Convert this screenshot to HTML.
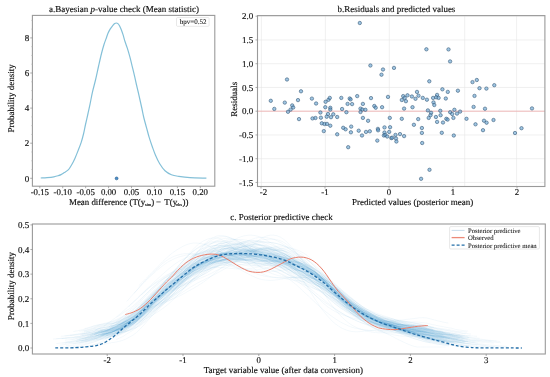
<!DOCTYPE html>
<html><head><meta charset="utf-8"><style>
html,body{margin:0;padding:0;background:#fff;}
svg{display:block;will-change:transform;}
text{text-rendering:geometricPrecision;font-family:"Liberation Serif", serif;fill:#111;stroke:#111;stroke-width:0.15px;}
</style></head><body>
<svg width="550" height="377" viewBox="0 0 550 377">
<rect x="0" y="0" width="550" height="377" fill="#fff"/>
<rect x="32.4" y="15.4" width="182.4" height="170.79999999999998" fill="none" stroke="#9a9a9a" stroke-width="1.1"/>
<line x1="30.2" y1="178.30" x2="32.4" y2="178.30" stroke="#8a8a8a" stroke-width="0.7"/>
<text x="28.799999999999997" y="182" text-anchor="end" font-size="9.0" dx="0.5">0</text>
<line x1="30.2" y1="143.20" x2="32.4" y2="143.20" stroke="#8a8a8a" stroke-width="0.7"/>
<text x="28.799999999999997" y="146" text-anchor="end" font-size="9.0" dx="0.5">2</text>
<line x1="30.2" y1="108.10" x2="32.4" y2="108.10" stroke="#8a8a8a" stroke-width="0.7"/>
<text x="28.799999999999997" y="111" text-anchor="end" font-size="9.0" dx="0.5">4</text>
<line x1="30.2" y1="73.00" x2="32.4" y2="73.00" stroke="#8a8a8a" stroke-width="0.7"/>
<text x="28.799999999999997" y="76" text-anchor="end" font-size="9.0" dx="0.5">6</text>
<line x1="30.2" y1="37.90" x2="32.4" y2="37.90" stroke="#8a8a8a" stroke-width="0.7"/>
<text x="28.799999999999997" y="41" text-anchor="end" font-size="9.0" dx="0.5">8</text>
<line x1="31.099999999999998" y1="169.53" x2="32.4" y2="169.53" stroke="#b4b4b4" stroke-width="0.5"/>
<line x1="31.099999999999998" y1="160.75" x2="32.4" y2="160.75" stroke="#b4b4b4" stroke-width="0.5"/>
<line x1="31.099999999999998" y1="151.98" x2="32.4" y2="151.98" stroke="#b4b4b4" stroke-width="0.5"/>
<line x1="31.099999999999998" y1="134.43" x2="32.4" y2="134.43" stroke="#b4b4b4" stroke-width="0.5"/>
<line x1="31.099999999999998" y1="125.65" x2="32.4" y2="125.65" stroke="#b4b4b4" stroke-width="0.5"/>
<line x1="31.099999999999998" y1="116.88" x2="32.4" y2="116.88" stroke="#b4b4b4" stroke-width="0.5"/>
<line x1="31.099999999999998" y1="99.33" x2="32.4" y2="99.33" stroke="#b4b4b4" stroke-width="0.5"/>
<line x1="31.099999999999998" y1="90.55" x2="32.4" y2="90.55" stroke="#b4b4b4" stroke-width="0.5"/>
<line x1="31.099999999999998" y1="81.78" x2="32.4" y2="81.78" stroke="#b4b4b4" stroke-width="0.5"/>
<line x1="31.099999999999998" y1="64.23" x2="32.4" y2="64.23" stroke="#b4b4b4" stroke-width="0.5"/>
<line x1="31.099999999999998" y1="55.45" x2="32.4" y2="55.45" stroke="#b4b4b4" stroke-width="0.5"/>
<line x1="31.099999999999998" y1="46.68" x2="32.4" y2="46.68" stroke="#b4b4b4" stroke-width="0.5"/>
<line x1="31.099999999999998" y1="29.12" x2="32.4" y2="29.12" stroke="#b4b4b4" stroke-width="0.5"/>
<line x1="31.099999999999998" y1="20.35" x2="32.4" y2="20.35" stroke="#b4b4b4" stroke-width="0.5"/>
<line x1="39.80" y1="186.2" x2="39.80" y2="188.2" stroke="#8a8a8a" stroke-width="0.7"/>
<text x="39.80" y="195.4" text-anchor="middle" font-size="8.8">-0.15</text>
<line x1="62.73" y1="186.2" x2="62.73" y2="188.2" stroke="#8a8a8a" stroke-width="0.7"/>
<text x="62.73" y="195.4" text-anchor="middle" font-size="8.8">-0.10</text>
<line x1="85.66" y1="186.2" x2="85.66" y2="188.2" stroke="#8a8a8a" stroke-width="0.7"/>
<text x="85.66" y="195.4" text-anchor="middle" font-size="8.8">-0.05</text>
<line x1="108.59" y1="186.2" x2="108.59" y2="188.2" stroke="#8a8a8a" stroke-width="0.7"/>
<text x="108.59" y="195.4" text-anchor="middle" font-size="8.8">0.00</text>
<line x1="131.52" y1="186.2" x2="131.52" y2="188.2" stroke="#8a8a8a" stroke-width="0.7"/>
<text x="131.52" y="195.4" text-anchor="middle" font-size="8.8">0.05</text>
<line x1="154.45" y1="186.2" x2="154.45" y2="188.2" stroke="#8a8a8a" stroke-width="0.7"/>
<text x="154.45" y="195.4" text-anchor="middle" font-size="8.8">0.10</text>
<line x1="177.38" y1="186.2" x2="177.38" y2="188.2" stroke="#8a8a8a" stroke-width="0.7"/>
<text x="177.38" y="195.4" text-anchor="middle" font-size="8.8">0.15</text>
<line x1="200.31" y1="186.2" x2="200.31" y2="188.2" stroke="#8a8a8a" stroke-width="0.7"/>
<text x="200.31" y="195.4" text-anchor="middle" font-size="8.8">0.20</text>
<path d="M40.70,178.00 C41.75,177.93 44.80,177.80 47.00,177.60 C49.20,177.40 52.07,177.10 53.90,176.80 C55.73,176.50 56.82,176.17 58.00,175.80 C59.18,175.43 59.97,175.13 61.00,174.60 C62.03,174.07 62.95,173.43 64.20,172.60 C65.45,171.77 67.25,170.92 68.50,169.60 C69.75,168.28 70.63,166.57 71.70,164.70 C72.77,162.83 73.85,160.70 74.90,158.40 C75.95,156.10 76.95,153.57 78.00,150.90 C79.05,148.23 80.28,145.22 81.20,142.40 C82.12,139.58 82.80,136.90 83.50,134.00 C84.20,131.10 84.65,128.42 85.40,125.00 C86.15,121.58 87.22,117.02 88.00,113.50 C88.78,109.98 89.35,107.50 90.10,103.90 C90.85,100.30 91.60,95.88 92.50,91.90 C93.40,87.92 94.48,84.32 95.50,80.00 C96.52,75.68 97.60,70.42 98.60,66.00 C99.60,61.58 100.60,57.08 101.50,53.50 C102.40,49.92 103.25,46.93 104.00,44.50 C104.75,42.07 105.33,40.77 106.00,38.90 C106.67,37.03 107.28,34.97 108.00,33.30 C108.72,31.63 109.52,30.17 110.30,28.90 C111.08,27.63 111.97,26.58 112.70,25.70 C113.43,24.82 114.10,24.05 114.70,23.60 C115.30,23.15 115.77,23.00 116.30,23.00 C116.83,23.00 117.37,23.15 117.90,23.60 C118.43,24.05 118.97,24.75 119.50,25.70 C120.03,26.65 120.50,27.77 121.10,29.30 C121.70,30.83 122.45,32.87 123.10,34.90 C123.75,36.93 124.28,39.25 125.00,41.50 C125.72,43.75 126.60,45.87 127.40,48.40 C128.20,50.93 129.00,53.72 129.80,56.70 C130.60,59.68 131.42,63.12 132.20,66.30 C132.98,69.48 133.82,72.85 134.50,75.80 C135.18,78.75 135.68,81.30 136.30,84.00 C136.92,86.70 137.58,89.33 138.20,92.00 C138.82,94.67 139.38,97.25 140.00,100.00 C140.62,102.75 141.25,105.50 141.90,108.50 C142.55,111.50 143.13,114.82 143.90,118.00 C144.67,121.18 145.63,124.42 146.50,127.60 C147.37,130.78 148.13,133.92 149.10,137.10 C150.07,140.28 151.23,143.68 152.30,146.70 C153.37,149.72 154.27,152.37 155.50,155.20 C156.73,158.03 158.12,161.12 159.70,163.70 C161.28,166.28 163.05,168.87 165.00,170.70 C166.95,172.53 169.10,173.75 171.40,174.70 C173.70,175.65 175.70,175.90 178.80,176.40 C181.90,176.90 185.40,177.42 190.00,177.70 C194.60,177.98 203.67,178.03 206.40,178.10" fill="none" stroke="#84c0d8" stroke-width="1.2"/>
<circle cx="116.6" cy="178.4" r="1.45" fill="#4a8fcc" stroke="#2a5d88" stroke-width="0.6"/>
<rect x="176.5" y="17.6" width="32.6" height="8.7" rx="1" fill="#fff" stroke="#d9d9d9" stroke-width="0.6"/>
<text x="179.8" y="23.9" font-size="7.0" style="stroke-width:0.08px">bpv=0.52</text>
<text x="124.0" y="11.6" text-anchor="middle" font-size="9.0">a.Bayesian <tspan font-style="italic">p</tspan>-value check (Mean statistic)</text>
<text y="205.4" font-size="8.9"><tspan x="69">Mean difference (T(y</tspan><tspan x="145.1" y="206.2" font-size="4.2">sim</tspan><tspan x="151.2" y="205.4">)</tspan><tspan x="156.0">−</tspan><tspan x="164.3">T(y</tspan><tspan x="176.0" y="206.2" font-size="4.2">obs</tspan><tspan x="182.6" y="205.4">))</tspan></text>
<text transform="translate(14.3,98.4) rotate(-90)" text-anchor="middle" font-size="9.0">Probability density</text>
<line x1="261.4" y1="15.6" x2="261.4" y2="186.5" stroke="#e6e6e6" stroke-width="0.6"/>
<line x1="325.4" y1="15.6" x2="325.4" y2="186.5" stroke="#e6e6e6" stroke-width="0.6"/>
<line x1="389.3" y1="15.6" x2="389.3" y2="186.5" stroke="#e6e6e6" stroke-width="0.6"/>
<line x1="464.7" y1="15.6" x2="464.7" y2="186.5" stroke="#e6e6e6" stroke-width="0.6"/>
<line x1="516.6" y1="15.6" x2="516.6" y2="186.5" stroke="#e6e6e6" stroke-width="0.6"/>
<line x1="257.5" y1="182.45" x2="544.9" y2="182.45" stroke="#e6e6e6" stroke-width="0.6"/>
<line x1="257.5" y1="158.70" x2="544.9" y2="158.70" stroke="#e6e6e6" stroke-width="0.6"/>
<line x1="257.5" y1="134.95" x2="544.9" y2="134.95" stroke="#e6e6e6" stroke-width="0.6"/>
<line x1="257.5" y1="111.20" x2="544.9" y2="111.20" stroke="#e6e6e6" stroke-width="0.6"/>
<line x1="257.5" y1="87.45" x2="544.9" y2="87.45" stroke="#e6e6e6" stroke-width="0.6"/>
<line x1="257.5" y1="63.70" x2="544.9" y2="63.70" stroke="#e6e6e6" stroke-width="0.6"/>
<line x1="257.5" y1="39.95" x2="544.9" y2="39.95" stroke="#e6e6e6" stroke-width="0.6"/>
<line x1="257.5" y1="16.20" x2="544.9" y2="16.20" stroke="#e6e6e6" stroke-width="0.6"/>
<line x1="257.5" y1="111.2" x2="544.9" y2="111.2" stroke="#f2a4a4" stroke-width="0.7"/>
<circle cx="287.0" cy="79.5" r="1.7" fill="#5fa0d0" fill-opacity="0.6" stroke="#395a78" stroke-width="0.6"/>
<circle cx="270.8" cy="100.8" r="1.7" fill="#5fa0d0" fill-opacity="0.6" stroke="#395a78" stroke-width="0.6"/>
<circle cx="274.3" cy="108.9" r="1.7" fill="#5fa0d0" fill-opacity="0.6" stroke="#395a78" stroke-width="0.6"/>
<circle cx="284.8" cy="102.6" r="1.7" fill="#5fa0d0" fill-opacity="0.6" stroke="#395a78" stroke-width="0.6"/>
<circle cx="301.0" cy="91.3" r="1.7" fill="#5fa0d0" fill-opacity="0.6" stroke="#395a78" stroke-width="0.6"/>
<circle cx="298.0" cy="100.1" r="1.7" fill="#5fa0d0" fill-opacity="0.6" stroke="#395a78" stroke-width="0.6"/>
<circle cx="311.9" cy="98.6" r="1.7" fill="#5fa0d0" fill-opacity="0.6" stroke="#395a78" stroke-width="0.6"/>
<circle cx="292.2" cy="105.4" r="1.7" fill="#5fa0d0" fill-opacity="0.6" stroke="#395a78" stroke-width="0.6"/>
<circle cx="293.2" cy="107.5" r="1.7" fill="#5fa0d0" fill-opacity="0.6" stroke="#395a78" stroke-width="0.6"/>
<circle cx="290.6" cy="109.6" r="1.7" fill="#5fa0d0" fill-opacity="0.6" stroke="#395a78" stroke-width="0.6"/>
<circle cx="288.0" cy="111.8" r="1.7" fill="#5fa0d0" fill-opacity="0.6" stroke="#395a78" stroke-width="0.6"/>
<circle cx="299.0" cy="119.1" r="1.7" fill="#5fa0d0" fill-opacity="0.6" stroke="#395a78" stroke-width="0.6"/>
<circle cx="312.5" cy="118.4" r="1.7" fill="#5fa0d0" fill-opacity="0.6" stroke="#395a78" stroke-width="0.6"/>
<circle cx="316.1" cy="103.5" r="1.7" fill="#5fa0d0" fill-opacity="0.6" stroke="#395a78" stroke-width="0.6"/>
<circle cx="325.6" cy="101.8" r="1.7" fill="#5fa0d0" fill-opacity="0.6" stroke="#395a78" stroke-width="0.6"/>
<circle cx="328.5" cy="99.8" r="1.7" fill="#5fa0d0" fill-opacity="0.6" stroke="#395a78" stroke-width="0.6"/>
<circle cx="329.8" cy="97.9" r="1.7" fill="#5fa0d0" fill-opacity="0.6" stroke="#395a78" stroke-width="0.6"/>
<circle cx="325.3" cy="107.2" r="1.7" fill="#5fa0d0" fill-opacity="0.6" stroke="#395a78" stroke-width="0.6"/>
<circle cx="330.3" cy="107.8" r="1.7" fill="#5fa0d0" fill-opacity="0.6" stroke="#395a78" stroke-width="0.6"/>
<circle cx="330.3" cy="109.6" r="1.7" fill="#5fa0d0" fill-opacity="0.6" stroke="#395a78" stroke-width="0.6"/>
<circle cx="341.3" cy="97.9" r="1.7" fill="#5fa0d0" fill-opacity="0.6" stroke="#395a78" stroke-width="0.6"/>
<circle cx="349.7" cy="98.5" r="1.7" fill="#5fa0d0" fill-opacity="0.6" stroke="#395a78" stroke-width="0.6"/>
<circle cx="350.6" cy="99.4" r="1.7" fill="#5fa0d0" fill-opacity="0.6" stroke="#395a78" stroke-width="0.6"/>
<circle cx="357.2" cy="96.1" r="1.7" fill="#5fa0d0" fill-opacity="0.6" stroke="#395a78" stroke-width="0.6"/>
<circle cx="347.6" cy="103.9" r="1.7" fill="#5fa0d0" fill-opacity="0.6" stroke="#395a78" stroke-width="0.6"/>
<circle cx="352.1" cy="104.1" r="1.7" fill="#5fa0d0" fill-opacity="0.6" stroke="#395a78" stroke-width="0.6"/>
<circle cx="362.9" cy="103.9" r="1.7" fill="#5fa0d0" fill-opacity="0.6" stroke="#395a78" stroke-width="0.6"/>
<circle cx="342.1" cy="109.0" r="1.7" fill="#5fa0d0" fill-opacity="0.6" stroke="#395a78" stroke-width="0.6"/>
<circle cx="346.4" cy="112.2" r="1.7" fill="#5fa0d0" fill-opacity="0.6" stroke="#395a78" stroke-width="0.6"/>
<circle cx="360.5" cy="108.6" r="1.7" fill="#5fa0d0" fill-opacity="0.6" stroke="#395a78" stroke-width="0.6"/>
<circle cx="362.3" cy="109.5" r="1.7" fill="#5fa0d0" fill-opacity="0.6" stroke="#395a78" stroke-width="0.6"/>
<circle cx="365.4" cy="109.8" r="1.7" fill="#5fa0d0" fill-opacity="0.6" stroke="#395a78" stroke-width="0.6"/>
<circle cx="360.5" cy="112.0" r="1.7" fill="#5fa0d0" fill-opacity="0.6" stroke="#395a78" stroke-width="0.6"/>
<circle cx="320.4" cy="112.5" r="1.7" fill="#5fa0d0" fill-opacity="0.6" stroke="#395a78" stroke-width="0.6"/>
<circle cx="315.5" cy="118.0" r="1.7" fill="#5fa0d0" fill-opacity="0.6" stroke="#395a78" stroke-width="0.6"/>
<circle cx="320.9" cy="117.7" r="1.7" fill="#5fa0d0" fill-opacity="0.6" stroke="#395a78" stroke-width="0.6"/>
<circle cx="328.0" cy="114.0" r="1.7" fill="#5fa0d0" fill-opacity="0.6" stroke="#395a78" stroke-width="0.6"/>
<circle cx="326.7" cy="116.7" r="1.7" fill="#5fa0d0" fill-opacity="0.6" stroke="#395a78" stroke-width="0.6"/>
<circle cx="331.0" cy="117.2" r="1.7" fill="#5fa0d0" fill-opacity="0.6" stroke="#395a78" stroke-width="0.6"/>
<circle cx="333.3" cy="114.3" r="1.7" fill="#5fa0d0" fill-opacity="0.6" stroke="#395a78" stroke-width="0.6"/>
<circle cx="337.2" cy="117.0" r="1.7" fill="#5fa0d0" fill-opacity="0.6" stroke="#395a78" stroke-width="0.6"/>
<circle cx="362.9" cy="117.9" r="1.7" fill="#5fa0d0" fill-opacity="0.6" stroke="#395a78" stroke-width="0.6"/>
<circle cx="321.8" cy="123.3" r="1.7" fill="#5fa0d0" fill-opacity="0.6" stroke="#395a78" stroke-width="0.6"/>
<circle cx="324.5" cy="124.0" r="1.7" fill="#5fa0d0" fill-opacity="0.6" stroke="#395a78" stroke-width="0.6"/>
<circle cx="327.0" cy="123.9" r="1.7" fill="#5fa0d0" fill-opacity="0.6" stroke="#395a78" stroke-width="0.6"/>
<circle cx="371.0" cy="98.1" r="1.7" fill="#5fa0d0" fill-opacity="0.6" stroke="#395a78" stroke-width="0.6"/>
<circle cx="374.3" cy="106.0" r="1.7" fill="#5fa0d0" fill-opacity="0.6" stroke="#395a78" stroke-width="0.6"/>
<circle cx="375.7" cy="107.7" r="1.7" fill="#5fa0d0" fill-opacity="0.6" stroke="#395a78" stroke-width="0.6"/>
<circle cx="382.1" cy="107.2" r="1.7" fill="#5fa0d0" fill-opacity="0.6" stroke="#395a78" stroke-width="0.6"/>
<circle cx="388.0" cy="96.9" r="1.7" fill="#5fa0d0" fill-opacity="0.6" stroke="#395a78" stroke-width="0.6"/>
<circle cx="401.8" cy="100.0" r="1.7" fill="#5fa0d0" fill-opacity="0.6" stroke="#395a78" stroke-width="0.6"/>
<circle cx="403.2" cy="96.1" r="1.7" fill="#5fa0d0" fill-opacity="0.6" stroke="#395a78" stroke-width="0.6"/>
<circle cx="404.7" cy="97.9" r="1.7" fill="#5fa0d0" fill-opacity="0.6" stroke="#395a78" stroke-width="0.6"/>
<circle cx="405.9" cy="101.2" r="1.7" fill="#5fa0d0" fill-opacity="0.6" stroke="#395a78" stroke-width="0.6"/>
<circle cx="407.5" cy="95.3" r="1.7" fill="#5fa0d0" fill-opacity="0.6" stroke="#395a78" stroke-width="0.6"/>
<circle cx="411.9" cy="96.5" r="1.7" fill="#5fa0d0" fill-opacity="0.6" stroke="#395a78" stroke-width="0.6"/>
<circle cx="415.5" cy="98.8" r="1.7" fill="#5fa0d0" fill-opacity="0.6" stroke="#395a78" stroke-width="0.6"/>
<circle cx="417.0" cy="91.9" r="1.7" fill="#5fa0d0" fill-opacity="0.6" stroke="#395a78" stroke-width="0.6"/>
<circle cx="418.5" cy="95.7" r="1.7" fill="#5fa0d0" fill-opacity="0.6" stroke="#395a78" stroke-width="0.6"/>
<circle cx="404.1" cy="108.6" r="1.7" fill="#5fa0d0" fill-opacity="0.6" stroke="#395a78" stroke-width="0.6"/>
<circle cx="412.5" cy="107.2" r="1.7" fill="#5fa0d0" fill-opacity="0.6" stroke="#395a78" stroke-width="0.6"/>
<circle cx="368.1" cy="120.8" r="1.7" fill="#5fa0d0" fill-opacity="0.6" stroke="#395a78" stroke-width="0.6"/>
<circle cx="389.8" cy="117.9" r="1.7" fill="#5fa0d0" fill-opacity="0.6" stroke="#395a78" stroke-width="0.6"/>
<circle cx="401.8" cy="118.8" r="1.7" fill="#5fa0d0" fill-opacity="0.6" stroke="#395a78" stroke-width="0.6"/>
<circle cx="418.2" cy="119.1" r="1.7" fill="#5fa0d0" fill-opacity="0.6" stroke="#395a78" stroke-width="0.6"/>
<circle cx="413.9" cy="124.8" r="1.7" fill="#5fa0d0" fill-opacity="0.6" stroke="#395a78" stroke-width="0.6"/>
<circle cx="429.3" cy="81.3" r="1.7" fill="#5fa0d0" fill-opacity="0.6" stroke="#395a78" stroke-width="0.6"/>
<circle cx="442.4" cy="89.3" r="1.7" fill="#5fa0d0" fill-opacity="0.6" stroke="#395a78" stroke-width="0.6"/>
<circle cx="447.8" cy="91.9" r="1.7" fill="#5fa0d0" fill-opacity="0.6" stroke="#395a78" stroke-width="0.6"/>
<circle cx="457.9" cy="90.7" r="1.7" fill="#5fa0d0" fill-opacity="0.6" stroke="#395a78" stroke-width="0.6"/>
<circle cx="422.8" cy="97.9" r="1.7" fill="#5fa0d0" fill-opacity="0.6" stroke="#395a78" stroke-width="0.6"/>
<circle cx="426.9" cy="99.7" r="1.7" fill="#5fa0d0" fill-opacity="0.6" stroke="#395a78" stroke-width="0.6"/>
<circle cx="433.1" cy="97.9" r="1.7" fill="#5fa0d0" fill-opacity="0.6" stroke="#395a78" stroke-width="0.6"/>
<circle cx="437.1" cy="94.9" r="1.7" fill="#5fa0d0" fill-opacity="0.6" stroke="#395a78" stroke-width="0.6"/>
<circle cx="436.2" cy="97.3" r="1.7" fill="#5fa0d0" fill-opacity="0.6" stroke="#395a78" stroke-width="0.6"/>
<circle cx="438.6" cy="97.9" r="1.7" fill="#5fa0d0" fill-opacity="0.6" stroke="#395a78" stroke-width="0.6"/>
<circle cx="445.8" cy="98.5" r="1.7" fill="#5fa0d0" fill-opacity="0.6" stroke="#395a78" stroke-width="0.6"/>
<circle cx="433.5" cy="102.4" r="1.7" fill="#5fa0d0" fill-opacity="0.6" stroke="#395a78" stroke-width="0.6"/>
<circle cx="434.3" cy="105.0" r="1.7" fill="#5fa0d0" fill-opacity="0.6" stroke="#395a78" stroke-width="0.6"/>
<circle cx="474.5" cy="95.9" r="1.7" fill="#5fa0d0" fill-opacity="0.6" stroke="#395a78" stroke-width="0.6"/>
<circle cx="473.6" cy="106.9" r="1.7" fill="#5fa0d0" fill-opacity="0.6" stroke="#395a78" stroke-width="0.6"/>
<circle cx="427.9" cy="110.4" r="1.7" fill="#5fa0d0" fill-opacity="0.6" stroke="#395a78" stroke-width="0.6"/>
<circle cx="431.1" cy="112.8" r="1.7" fill="#5fa0d0" fill-opacity="0.6" stroke="#395a78" stroke-width="0.6"/>
<circle cx="430.5" cy="115.2" r="1.7" fill="#5fa0d0" fill-opacity="0.6" stroke="#395a78" stroke-width="0.6"/>
<circle cx="428.7" cy="117.9" r="1.7" fill="#5fa0d0" fill-opacity="0.6" stroke="#395a78" stroke-width="0.6"/>
<circle cx="440.3" cy="110.8" r="1.7" fill="#5fa0d0" fill-opacity="0.6" stroke="#395a78" stroke-width="0.6"/>
<circle cx="440.6" cy="115.2" r="1.7" fill="#5fa0d0" fill-opacity="0.6" stroke="#395a78" stroke-width="0.6"/>
<circle cx="435.9" cy="117.0" r="1.7" fill="#5fa0d0" fill-opacity="0.6" stroke="#395a78" stroke-width="0.6"/>
<circle cx="450.2" cy="112.2" r="1.7" fill="#5fa0d0" fill-opacity="0.6" stroke="#395a78" stroke-width="0.6"/>
<circle cx="452.2" cy="114.0" r="1.7" fill="#5fa0d0" fill-opacity="0.6" stroke="#395a78" stroke-width="0.6"/>
<circle cx="454.4" cy="109.8" r="1.7" fill="#5fa0d0" fill-opacity="0.6" stroke="#395a78" stroke-width="0.6"/>
<circle cx="457.0" cy="113.6" r="1.7" fill="#5fa0d0" fill-opacity="0.6" stroke="#395a78" stroke-width="0.6"/>
<circle cx="460.1" cy="111.6" r="1.7" fill="#5fa0d0" fill-opacity="0.6" stroke="#395a78" stroke-width="0.6"/>
<circle cx="453.4" cy="117.9" r="1.7" fill="#5fa0d0" fill-opacity="0.6" stroke="#395a78" stroke-width="0.6"/>
<circle cx="446.3" cy="118.8" r="1.7" fill="#5fa0d0" fill-opacity="0.6" stroke="#395a78" stroke-width="0.6"/>
<circle cx="447.6" cy="119.6" r="1.7" fill="#5fa0d0" fill-opacity="0.6" stroke="#395a78" stroke-width="0.6"/>
<circle cx="466.5" cy="118.8" r="1.7" fill="#5fa0d0" fill-opacity="0.6" stroke="#395a78" stroke-width="0.6"/>
<circle cx="437.1" cy="121.9" r="1.7" fill="#5fa0d0" fill-opacity="0.6" stroke="#395a78" stroke-width="0.6"/>
<circle cx="443.0" cy="122.5" r="1.7" fill="#5fa0d0" fill-opacity="0.6" stroke="#395a78" stroke-width="0.6"/>
<circle cx="472.5" cy="82.1" r="1.7" fill="#5fa0d0" fill-opacity="0.6" stroke="#395a78" stroke-width="0.6"/>
<circle cx="476.8" cy="80.0" r="1.7" fill="#5fa0d0" fill-opacity="0.6" stroke="#395a78" stroke-width="0.6"/>
<circle cx="494.3" cy="85.2" r="1.7" fill="#5fa0d0" fill-opacity="0.6" stroke="#395a78" stroke-width="0.6"/>
<circle cx="479.5" cy="88.2" r="1.7" fill="#5fa0d0" fill-opacity="0.6" stroke="#395a78" stroke-width="0.6"/>
<circle cx="486.4" cy="88.6" r="1.7" fill="#5fa0d0" fill-opacity="0.6" stroke="#395a78" stroke-width="0.6"/>
<circle cx="485.0" cy="108.7" r="1.7" fill="#5fa0d0" fill-opacity="0.6" stroke="#395a78" stroke-width="0.6"/>
<circle cx="532.0" cy="108.4" r="1.7" fill="#5fa0d0" fill-opacity="0.6" stroke="#395a78" stroke-width="0.6"/>
<circle cx="484.0" cy="120.7" r="1.7" fill="#5fa0d0" fill-opacity="0.6" stroke="#395a78" stroke-width="0.6"/>
<circle cx="486.6" cy="122.7" r="1.7" fill="#5fa0d0" fill-opacity="0.6" stroke="#395a78" stroke-width="0.6"/>
<circle cx="493.5" cy="120.0" r="1.7" fill="#5fa0d0" fill-opacity="0.6" stroke="#395a78" stroke-width="0.6"/>
<circle cx="475.5" cy="124.3" r="1.7" fill="#5fa0d0" fill-opacity="0.6" stroke="#395a78" stroke-width="0.6"/>
<circle cx="359.8" cy="23.0" r="1.7" fill="#5fa0d0" fill-opacity="0.6" stroke="#395a78" stroke-width="0.6"/>
<circle cx="426.4" cy="49.3" r="1.7" fill="#5fa0d0" fill-opacity="0.6" stroke="#395a78" stroke-width="0.6"/>
<circle cx="448.5" cy="49.4" r="1.7" fill="#5fa0d0" fill-opacity="0.6" stroke="#395a78" stroke-width="0.6"/>
<circle cx="450.1" cy="61.4" r="1.7" fill="#5fa0d0" fill-opacity="0.6" stroke="#395a78" stroke-width="0.6"/>
<circle cx="370.4" cy="65.5" r="1.7" fill="#5fa0d0" fill-opacity="0.6" stroke="#395a78" stroke-width="0.6"/>
<circle cx="383.0" cy="69.5" r="1.7" fill="#5fa0d0" fill-opacity="0.6" stroke="#395a78" stroke-width="0.6"/>
<circle cx="381.5" cy="74.7" r="1.7" fill="#5fa0d0" fill-opacity="0.6" stroke="#395a78" stroke-width="0.6"/>
<circle cx="394.0" cy="67.9" r="1.7" fill="#5fa0d0" fill-opacity="0.6" stroke="#395a78" stroke-width="0.6"/>
<circle cx="330.3" cy="125.7" r="1.7" fill="#5fa0d0" fill-opacity="0.6" stroke="#395a78" stroke-width="0.6"/>
<circle cx="323.8" cy="131.1" r="1.7" fill="#5fa0d0" fill-opacity="0.6" stroke="#395a78" stroke-width="0.6"/>
<circle cx="343.2" cy="127.8" r="1.7" fill="#5fa0d0" fill-opacity="0.6" stroke="#395a78" stroke-width="0.6"/>
<circle cx="345.6" cy="129.3" r="1.7" fill="#5fa0d0" fill-opacity="0.6" stroke="#395a78" stroke-width="0.6"/>
<circle cx="351.2" cy="126.6" r="1.7" fill="#5fa0d0" fill-opacity="0.6" stroke="#395a78" stroke-width="0.6"/>
<circle cx="350.9" cy="132.3" r="1.7" fill="#5fa0d0" fill-opacity="0.6" stroke="#395a78" stroke-width="0.6"/>
<circle cx="337.2" cy="134.3" r="1.7" fill="#5fa0d0" fill-opacity="0.6" stroke="#395a78" stroke-width="0.6"/>
<circle cx="358.7" cy="130.7" r="1.7" fill="#5fa0d0" fill-opacity="0.6" stroke="#395a78" stroke-width="0.6"/>
<circle cx="362.0" cy="135.5" r="1.7" fill="#5fa0d0" fill-opacity="0.6" stroke="#395a78" stroke-width="0.6"/>
<circle cx="366.0" cy="131.9" r="1.7" fill="#5fa0d0" fill-opacity="0.6" stroke="#395a78" stroke-width="0.6"/>
<circle cx="369.8" cy="131.3" r="1.7" fill="#5fa0d0" fill-opacity="0.6" stroke="#395a78" stroke-width="0.6"/>
<circle cx="348.2" cy="147.2" r="1.7" fill="#5fa0d0" fill-opacity="0.6" stroke="#395a78" stroke-width="0.6"/>
<circle cx="377.9" cy="128.9" r="1.7" fill="#5fa0d0" fill-opacity="0.6" stroke="#395a78" stroke-width="0.6"/>
<circle cx="378.1" cy="130.3" r="1.7" fill="#5fa0d0" fill-opacity="0.6" stroke="#395a78" stroke-width="0.6"/>
<circle cx="384.5" cy="127.4" r="1.7" fill="#5fa0d0" fill-opacity="0.6" stroke="#395a78" stroke-width="0.6"/>
<circle cx="390.1" cy="127.2" r="1.7" fill="#5fa0d0" fill-opacity="0.6" stroke="#395a78" stroke-width="0.6"/>
<circle cx="389.2" cy="131.9" r="1.7" fill="#5fa0d0" fill-opacity="0.6" stroke="#395a78" stroke-width="0.6"/>
<circle cx="384.5" cy="132.5" r="1.7" fill="#5fa0d0" fill-opacity="0.6" stroke="#395a78" stroke-width="0.6"/>
<circle cx="383.9" cy="135.5" r="1.7" fill="#5fa0d0" fill-opacity="0.6" stroke="#395a78" stroke-width="0.6"/>
<circle cx="385.3" cy="134.9" r="1.7" fill="#5fa0d0" fill-opacity="0.6" stroke="#395a78" stroke-width="0.6"/>
<circle cx="387.2" cy="136.5" r="1.7" fill="#5fa0d0" fill-opacity="0.6" stroke="#395a78" stroke-width="0.6"/>
<circle cx="391.3" cy="138.1" r="1.7" fill="#5fa0d0" fill-opacity="0.6" stroke="#395a78" stroke-width="0.6"/>
<circle cx="392.2" cy="137.7" r="1.7" fill="#5fa0d0" fill-opacity="0.6" stroke="#395a78" stroke-width="0.6"/>
<circle cx="395.5" cy="134.9" r="1.7" fill="#5fa0d0" fill-opacity="0.6" stroke="#395a78" stroke-width="0.6"/>
<circle cx="396.0" cy="138.5" r="1.7" fill="#5fa0d0" fill-opacity="0.6" stroke="#395a78" stroke-width="0.6"/>
<circle cx="396.4" cy="141.5" r="1.7" fill="#5fa0d0" fill-opacity="0.6" stroke="#395a78" stroke-width="0.6"/>
<circle cx="400.0" cy="134.1" r="1.7" fill="#5fa0d0" fill-opacity="0.6" stroke="#395a78" stroke-width="0.6"/>
<circle cx="404.1" cy="136.1" r="1.7" fill="#5fa0d0" fill-opacity="0.6" stroke="#395a78" stroke-width="0.6"/>
<circle cx="377.3" cy="140.6" r="1.7" fill="#5fa0d0" fill-opacity="0.6" stroke="#395a78" stroke-width="0.6"/>
<circle cx="421.9" cy="128.0" r="1.7" fill="#5fa0d0" fill-opacity="0.6" stroke="#395a78" stroke-width="0.6"/>
<circle cx="421.9" cy="132.9" r="1.7" fill="#5fa0d0" fill-opacity="0.6" stroke="#395a78" stroke-width="0.6"/>
<circle cx="422.2" cy="143.0" r="1.7" fill="#5fa0d0" fill-opacity="0.6" stroke="#395a78" stroke-width="0.6"/>
<circle cx="441.8" cy="132.8" r="1.7" fill="#5fa0d0" fill-opacity="0.6" stroke="#395a78" stroke-width="0.6"/>
<circle cx="453.8" cy="135.5" r="1.7" fill="#5fa0d0" fill-opacity="0.6" stroke="#395a78" stroke-width="0.6"/>
<circle cx="483.0" cy="130.2" r="1.7" fill="#5fa0d0" fill-opacity="0.6" stroke="#395a78" stroke-width="0.6"/>
<circle cx="515.0" cy="133.0" r="1.7" fill="#5fa0d0" fill-opacity="0.6" stroke="#395a78" stroke-width="0.6"/>
<circle cx="521.5" cy="128.2" r="1.7" fill="#5fa0d0" fill-opacity="0.6" stroke="#395a78" stroke-width="0.6"/>
<circle cx="429.5" cy="169.8" r="1.7" fill="#5fa0d0" fill-opacity="0.6" stroke="#395a78" stroke-width="0.6"/>
<circle cx="421.1" cy="178.8" r="1.7" fill="#5fa0d0" fill-opacity="0.6" stroke="#395a78" stroke-width="0.6"/>
<rect x="257.5" y="15.6" width="287.4" height="170.9" fill="none" stroke="#9a9a9a" stroke-width="1.1"/>
<line x1="255.5" y1="182.45" x2="257.5" y2="182.45" stroke="#8a8a8a" stroke-width="0.7"/>
<text x="253.9" y="186" text-anchor="end" font-size="9.0" dx="-0.6">-1.5</text>
<line x1="255.5" y1="158.70" x2="257.5" y2="158.70" stroke="#8a8a8a" stroke-width="0.7"/>
<text x="253.9" y="162" text-anchor="end" font-size="9.0" dx="-0.6">-1.0</text>
<line x1="255.5" y1="134.95" x2="257.5" y2="134.95" stroke="#8a8a8a" stroke-width="0.7"/>
<text x="253.9" y="138" text-anchor="end" font-size="9.0" dx="-0.6">-0.5</text>
<line x1="255.5" y1="111.20" x2="257.5" y2="111.20" stroke="#8a8a8a" stroke-width="0.7"/>
<text x="253.9" y="114" text-anchor="end" font-size="9.0" dx="-0.6">0.0</text>
<line x1="255.5" y1="87.45" x2="257.5" y2="87.45" stroke="#8a8a8a" stroke-width="0.7"/>
<text x="253.9" y="91" text-anchor="end" font-size="9.0" dx="-0.6">0.5</text>
<line x1="255.5" y1="63.70" x2="257.5" y2="63.70" stroke="#8a8a8a" stroke-width="0.7"/>
<text x="253.9" y="67" text-anchor="end" font-size="9.0" dx="-0.6">1.0</text>
<line x1="255.5" y1="39.95" x2="257.5" y2="39.95" stroke="#8a8a8a" stroke-width="0.7"/>
<text x="253.9" y="43" text-anchor="end" font-size="9.0" dx="-0.6">1.5</text>
<line x1="255.5" y1="16.20" x2="257.5" y2="16.20" stroke="#8a8a8a" stroke-width="0.7"/>
<text x="253.9" y="19" text-anchor="end" font-size="9.0" dx="-0.6">2.0</text>
<line x1="261.00" y1="186.5" x2="261.00" y2="188.5" stroke="#8a8a8a" stroke-width="0.7"/>
<text x="263.40" y="195.4" text-anchor="middle" font-size="8.8">-2</text>
<line x1="325.00" y1="186.5" x2="325.00" y2="188.5" stroke="#8a8a8a" stroke-width="0.7"/>
<text x="325.00" y="195.4" text-anchor="middle" font-size="8.8">-1</text>
<line x1="389.00" y1="186.5" x2="389.00" y2="188.5" stroke="#8a8a8a" stroke-width="0.7"/>
<text x="389.00" y="195.4" text-anchor="middle" font-size="8.8">0</text>
<line x1="453.00" y1="186.5" x2="453.00" y2="188.5" stroke="#8a8a8a" stroke-width="0.7"/>
<text x="453.00" y="195.4" text-anchor="middle" font-size="8.8">1</text>
<line x1="517.00" y1="186.5" x2="517.00" y2="188.5" stroke="#8a8a8a" stroke-width="0.7"/>
<text x="517.00" y="195.4" text-anchor="middle" font-size="8.8">2</text>
<text x="396.4" y="11.6" text-anchor="middle" font-size="9.0">b.Residuals and predicted values</text>
<text x="412.7" y="205.3" text-anchor="middle" font-size="9.0">Predicted values (posterior mean)</text>
<text transform="translate(236.7,99.2) rotate(-90)" text-anchor="middle" font-size="9.0">Residuals</text>
<g fill="none" stroke="#2a84c2" stroke-opacity="0.10" stroke-width="0.5">
<path d="M95.2,330.1 99.0,328.3 102.8,328.0 106.6,326.9 110.4,325.8 114.2,325.2 118.0,324.3 121.8,323.5 125.6,322.2 129.4,321.3 133.1,320.4 136.9,318.7 140.7,317.0 144.5,314.9 148.3,312.5 152.1,310.0 155.9,307.5 159.7,304.9 163.5,301.9 167.3,298.8 171.1,295.6 174.9,292.1 178.7,288.3 182.5,284.4 186.3,280.5 190.0,276.6 193.8,273.0 197.6,269.6 201.4,266.5 205.2,263.8 209.0,261.1 212.8,258.5 216.6,256.2 220.4,254.1 224.2,252.3 228.0,250.6 231.8,249.0 235.6,247.7 239.4,246.4 243.2,245.4 247.0,244.6 250.7,244.3 254.5,244.2 258.3,244.7 262.1,245.8 265.9,247.4 269.7,249.5 273.5,252.0 277.3,254.6 281.1,257.6 284.9,260.7 288.7,264.0 292.5,267.5 296.3,270.5 300.1,273.2 303.9,275.6 307.6,277.9 311.4,279.9 315.2,282.0 319.0,284.0 322.8,286.0 326.6,288.4 330.4,290.9 334.2,293.2 338.0,295.5 341.8,298.0 345.6,300.5 349.4,302.8 353.2,305.1 357.0,307.4 360.8,309.5 364.6,311.6 368.3,313.5 372.1,315.4 375.9,317.1 379.7,318.6 383.5,319.5 387.3,320.1 391.1,320.8 394.9,321.7 398.7,322.6 402.5,323.2 406.3,324.0 410.1,324.7 413.9,325.3 417.7,325.8 421.5,326.6 425.3,327.4 429.0,328.5 432.8,329.5 436.6,330.6 440.4,331.3 444.2,332.0 448.0,332.7 451.8,333.4 455.6,334.0 459.4,334.9 463.2,335.3 467.0,335.8 470.8,336.1"/>
<path d="M124.4,324.9 127.7,322.6 131.0,320.6 134.2,318.5 137.5,315.9 140.8,312.9 144.1,309.7 147.4,306.2 150.7,302.7 154.0,299.3 157.3,296.0 160.5,292.9 163.8,290.0 167.1,287.0 170.4,284.3 173.7,281.7 177.0,279.3 180.3,276.9 183.6,274.6 186.9,272.4 190.1,270.3 193.4,268.4 196.7,266.8 200.0,265.5 203.3,264.3 206.6,263.4 209.9,262.6 213.2,261.7 216.5,261.0 219.7,260.4 223.0,260.1 226.3,259.8 229.6,259.5 232.9,259.5 236.2,259.4 239.5,259.3 242.8,259.2 246.1,259.0 249.3,258.8 252.6,258.7 255.9,258.4 259.2,258.2 262.5,257.9 265.8,257.7 269.1,257.5 272.4,257.4 275.6,257.4 278.9,257.4 282.2,257.7 285.5,258.0 288.8,258.7 292.1,259.7 295.4,261.0 298.7,262.2 302.0,263.6 305.2,265.1 308.5,266.8 311.8,268.7 315.1,270.8 318.4,273.3 321.7,275.8 325.0,278.5 328.3,281.4 331.6,284.7 334.8,287.9 338.1,291.1 341.4,294.3 344.7,297.6 348.0,300.8 351.3,303.7 354.6,306.5 357.9,309.3 361.2,311.7 364.4,314.1 367.7,316.3 371.0,318.3 374.3,320.2 377.6,321.8 380.9,323.4 384.2,324.6 387.5,325.8 390.7,326.7 394.0,327.6 397.3,328.6 400.6,329.5 403.9,330.2 407.2,330.9 410.5,331.6 413.8,332.2 417.1,332.7 420.3,333.2 423.6,334.0 426.9,334.7 430.2,335.3 433.5,336.0 436.8,336.7 440.1,337.3 443.4,337.7 446.7,338.2 449.9,338.7"/>
<path d="M116.2,339.5 119.5,338.1 122.8,336.6 126.1,334.4 129.4,332.4 132.7,330.4 136.0,327.9 139.3,324.9 142.6,321.8 145.9,318.6 149.2,315.7 152.5,312.9 155.8,310.1 159.1,307.5 162.4,304.8 165.7,302.0 169.0,299.2 172.3,296.3 175.6,293.3 178.9,290.2 182.2,286.8 185.5,283.4 188.8,280.0 192.1,276.5 195.4,273.1 198.7,269.9 202.0,266.7 205.3,263.6 208.6,260.5 211.9,257.3 215.2,254.2 218.5,251.2 221.8,248.4 225.1,245.8 228.4,243.4 231.7,241.3 235.0,239.4 238.3,237.8 241.6,236.5 244.9,235.7 248.2,235.2 251.5,235.2 254.8,235.5 258.1,236.3 261.4,237.6 264.7,239.3 268.1,241.1 271.4,243.2 274.7,245.2 278.0,247.2 281.3,249.3 284.6,251.3 287.9,253.5 291.2,255.9 294.5,258.2 297.8,260.4 301.1,262.5 304.4,264.7 307.7,266.9 311.0,269.3 314.3,271.9 317.6,274.6 320.9,277.4 324.2,280.3 327.5,283.6 330.8,287.0 334.1,290.4 337.4,293.7 340.7,297.0 344.0,300.3 347.3,303.5 350.6,306.4 353.9,309.1 357.2,311.7 360.5,314.0 363.8,316.2 367.1,318.3 370.4,320.0 373.7,321.7 377.0,323.3 380.3,324.5 383.6,325.5 386.9,326.3 390.2,326.9 393.5,327.7 396.8,328.5 400.1,329.2 403.4,329.7 406.7,330.3 410.0,330.7 413.3,331.1 416.6,331.3 419.9,331.6 423.2,332.1 426.5,332.5 429.8,333.0 433.1,333.4 436.4,333.9 439.7,334.3 443.0,334.6"/>
<path d="M76.0,341.2 79.9,340.6 83.8,340.0 87.7,339.4 91.6,338.6 95.5,337.6 99.4,336.3 103.3,335.5 107.2,334.2 111.1,332.5 115.1,331.2 119.0,329.2 122.9,327.1 126.8,324.3 130.7,321.6 134.6,318.8 138.5,314.9 142.4,310.8 146.3,306.5 150.2,302.1 154.1,297.7 158.0,293.4 161.9,289.2 165.8,284.9 169.8,280.6 173.7,276.4 177.6,272.1 181.5,267.9 185.4,263.9 189.3,260.2 193.2,256.9 197.1,254.3 201.0,252.5 204.9,251.3 208.8,250.7 212.7,250.5 216.6,250.8 220.6,251.8 224.5,253.1 228.4,254.6 232.3,256.3 236.2,257.9 240.1,259.3 244.0,260.4 247.9,261.3 251.8,261.7 255.7,261.7 259.6,261.3 263.5,260.5 267.4,259.5 271.3,258.5 275.3,257.4 279.2,256.5 283.1,255.9 287.0,256.0 290.9,256.7 294.8,258.0 298.7,259.7 302.6,261.7 306.5,264.3 310.4,267.3 314.3,270.7 318.2,274.5 322.1,278.4 326.1,282.5 330.0,286.9 333.9,291.2 337.8,295.3 341.7,299.4 345.6,303.3 349.5,306.7 353.4,309.9 357.3,312.9 361.2,315.6 365.1,318.0 369.0,320.2 372.9,322.3 376.8,324.2 380.8,325.7 384.7,326.6 388.6,327.4 392.5,328.1 396.4,328.9 400.3,329.6 404.2,330.1 408.1,330.6 412.0,331.0 415.9,331.2 419.8,331.4 423.7,331.7 427.6,332.2 431.5,332.8 435.5,333.4 439.4,333.9 443.3,334.2 447.2,334.5 451.1,334.8 455.0,335.2 458.9,335.7 462.8,336.1"/>
<path d="M113.4,331.6 116.8,330.2 120.3,328.7 123.7,326.6 127.1,324.2 130.5,321.8 133.9,319.1 137.3,315.5 140.7,311.7 144.1,307.5 147.5,303.1 151.0,298.7 154.4,294.4 157.8,290.2 161.2,286.2 164.6,282.3 168.0,278.6 171.4,275.1 174.8,271.9 178.2,268.7 181.7,265.8 185.1,263.0 188.5,260.5 191.9,258.2 195.3,256.1 198.7,254.4 202.1,252.7 205.5,251.3 209.0,249.8 212.4,248.4 215.8,247.0 219.2,246.0 222.6,245.1 226.0,244.4 229.4,244.0 232.8,243.8 236.2,243.8 239.7,244.1 243.1,244.5 246.5,245.3 249.9,246.2 253.3,247.3 256.7,248.5 260.1,250.0 263.5,251.6 266.9,253.3 270.4,255.1 273.8,256.9 277.2,258.6 280.6,260.4 284.0,262.3 287.4,264.3 290.8,266.7 294.2,269.0 297.6,271.2 301.1,273.4 304.5,275.8 307.9,278.3 311.3,280.8 314.7,283.5 318.1,286.3 321.5,289.2 324.9,292.3 328.4,295.6 331.8,298.8 335.2,301.6 338.6,304.3 342.0,306.9 345.4,309.4 348.8,311.4 352.2,313.3 355.6,315.1 359.1,316.6 362.5,318.1 365.9,319.5 369.3,320.8 372.7,322.1 376.1,323.3 379.5,324.4 382.9,325.6 386.3,326.8 389.8,327.9 393.2,329.1 396.6,330.4 400.0,331.6 403.4,332.6 406.8,333.7 410.2,334.7 413.6,335.5 417.1,336.3 420.5,337.3 423.9,338.3 427.3,339.1 430.7,339.8 434.1,340.4 437.5,341.0 440.9,341.4 444.3,341.9 447.8,342.3 451.2,342.8"/>
<path d="M108.7,327.0 112.2,324.3 115.8,322.0 119.4,319.2 123.0,316.4 126.6,313.0 130.2,309.9 133.8,306.9 137.4,303.3 141.0,299.5 144.6,295.6 148.2,292.0 151.8,288.6 155.4,285.5 159.0,282.6 162.6,279.9 166.2,277.2 169.8,274.8 173.4,272.6 177.0,270.4 180.6,268.3 184.2,266.3 187.8,264.4 191.4,262.8 195.0,261.5 198.6,260.5 202.2,259.9 205.8,259.5 209.4,259.3 213.0,259.1 216.6,259.1 220.2,259.3 223.8,259.6 227.3,260.0 230.9,260.6 234.5,261.1 238.1,261.6 241.7,262.2 245.3,262.7 248.9,263.3 252.5,264.1 256.1,264.9 259.7,265.8 263.3,266.7 266.9,267.9 270.5,269.2 274.1,270.6 277.7,272.1 281.3,273.7 284.9,275.4 288.5,277.2 292.1,279.4 295.7,281.2 299.3,282.8 302.9,284.3 306.5,285.8 310.1,287.1 313.7,288.4 317.3,289.9 320.9,291.4 324.5,293.1 328.1,295.1 331.7,297.2 335.3,299.1 338.9,301.0 342.4,303.0 346.0,304.9 349.6,306.6 353.2,308.2 356.8,309.8 360.4,311.2 364.0,312.5 367.6,313.8 371.2,315.0 374.8,316.1 378.4,317.2 382.0,317.8 385.6,318.2 389.2,318.6 392.8,319.0 396.4,319.6 400.0,320.3 403.6,320.9 407.2,321.7 410.8,322.4 414.4,323.1 418.0,323.7 421.6,324.6 425.2,325.5 428.8,326.7 432.4,327.9 436.0,329.1 439.6,330.2 443.2,331.0 446.8,331.9 450.4,332.7 453.9,333.4 457.5,334.2 461.1,335.2 464.7,335.7"/>
<path d="M93.8,339.1 97.6,338.1 101.3,337.0 105.1,336.1 108.8,334.8 112.6,333.3 116.3,331.9 120.0,330.1 123.8,328.0 127.5,325.5 131.3,323.2 135.0,320.4 138.8,316.9 142.5,313.2 146.3,309.4 150.0,305.7 153.8,302.3 157.5,299.1 161.3,296.1 165.0,293.3 168.8,290.7 172.5,288.2 176.3,285.9 180.0,283.5 183.8,281.1 187.5,278.7 191.2,276.2 195.0,274.0 198.7,271.7 202.5,269.4 206.2,267.0 210.0,264.5 213.7,261.9 217.5,259.2 221.2,256.8 225.0,254.6 228.7,252.5 232.5,250.6 236.2,249.0 240.0,247.7 243.7,246.8 247.5,246.2 251.2,246.1 255.0,246.4 258.7,247.1 262.5,248.4 266.2,250.1 269.9,252.1 273.7,254.3 277.4,256.5 281.2,258.9 284.9,261.3 288.7,263.7 292.4,266.5 296.2,268.7 299.9,270.7 303.7,272.6 307.4,274.4 311.2,276.1 314.9,278.0 318.7,280.0 322.4,282.1 326.2,284.5 329.9,287.2 333.7,290.0 337.4,292.7 341.1,295.7 344.9,298.7 348.6,301.5 352.4,304.4 356.1,307.2 359.9,309.8 363.6,312.2 367.4,314.6 371.1,316.7 374.9,318.7 378.6,320.4 382.4,321.8 386.1,323.1 389.9,324.1 393.6,325.2 397.4,326.3 401.1,327.2 404.9,328.1 408.6,329.0 412.3,329.8 416.1,330.5 419.8,331.4 423.6,332.4 427.3,333.4 431.1,334.3 434.8,335.3 438.6,336.2 442.3,336.9 446.1,337.7 449.8,338.5 453.6,339.2 457.3,340.0 461.1,340.9 464.8,341.5"/>
<path d="M141.1,295.3 144.2,292.2 147.4,289.2 150.5,286.5 153.7,283.9 156.9,281.5 160.0,279.3 163.2,277.2 166.3,275.2 169.5,273.6 172.7,272.0 175.8,270.9 179.0,270.0 182.1,269.2 185.3,268.6 188.5,267.9 191.6,267.2 194.8,266.4 197.9,265.4 201.1,264.6 204.3,263.6 207.4,262.6 210.6,261.6 213.7,260.5 216.9,259.3 220.1,258.1 223.2,257.0 226.4,255.8 229.6,254.8 232.7,253.8 235.9,252.9 239.0,252.1 242.2,251.4 245.4,250.9 248.5,250.5 251.7,250.3 254.8,250.2 258.0,250.2 261.2,250.5 264.3,251.0 267.5,252.0 270.6,253.3 273.8,255.1 277.0,256.8 280.1,258.9 283.3,261.1 286.4,263.7 289.6,266.6 292.8,269.7 295.9,273.0 299.1,276.6 302.3,280.2 305.4,283.8 308.6,287.6 311.7,291.4 314.9,294.9 318.1,298.1 321.2,301.2 324.4,304.1 327.5,306.7 330.7,308.8 333.9,310.8 337.0,312.5 340.2,313.8 343.3,315.0 346.5,316.1 349.7,317.1 352.8,318.0 356.0,318.9 359.1,319.8 362.3,320.5 365.5,321.1 368.6,321.8 371.8,322.5 374.9,323.5 378.1,324.5 381.3,325.6 384.4,326.7 387.6,327.9 390.8,329.1 393.9,330.2 397.1,331.2 400.2,332.2 403.4,333.4 406.6,334.5 409.7,335.5 412.9,336.5 416.0,337.5 419.2,338.3 422.4,338.9 425.5,339.5 428.7,339.9 431.8,340.3 435.0,340.6 438.2,341.0 441.3,341.6 444.5,341.8 447.6,342.1 450.8,342.4 454.0,342.5"/>
<path d="M100.5,335.4 104.3,335.3 108.1,334.7 111.9,333.9 115.7,333.4 119.5,332.4 123.3,331.3 127.1,329.5 130.9,327.8 134.7,325.9 138.5,323.1 142.3,319.8 146.1,316.0 149.9,311.9 153.7,307.6 157.5,303.4 161.3,299.2 165.1,294.9 169.0,290.5 172.8,286.1 176.6,281.7 180.4,277.3 184.2,272.8 188.0,268.4 191.8,264.2 195.6,260.4 199.4,257.0 203.2,254.1 207.0,251.7 210.8,249.6 214.6,248.1 218.4,247.0 222.2,246.7 226.0,247.0 229.8,247.7 233.6,249.0 237.4,250.5 241.3,252.2 245.1,254.0 248.9,255.7 252.7,257.4 256.5,258.7 260.3,259.7 264.1,260.3 267.9,260.7 271.7,260.8 275.5,260.7 279.3,260.4 283.1,260.3 286.9,260.4 290.7,260.9 294.5,262.1 298.3,263.3 302.1,264.8 305.9,266.8 309.7,269.2 313.6,272.1 317.4,275.4 321.2,279.0 325.0,282.8 328.8,287.2 332.6,291.7 336.4,296.0 340.2,300.2 344.0,304.3 347.8,308.1 351.6,311.4 355.4,314.3 359.2,316.9 363.0,319.0 366.8,320.7 370.6,322.1 374.4,323.2 378.2,324.0 382.0,324.6 385.9,325.1 389.7,325.4 393.5,325.6 397.3,326.1 401.1,326.5 404.9,326.9 408.7,327.4 412.5,328.0 416.3,328.7 420.1,329.6 423.9,330.9 427.7,332.1 431.5,333.3 435.3,334.6 439.1,335.9 442.9,337.1 446.7,338.2 450.5,339.4 454.4,340.4 458.2,341.5 462.0,342.8 465.8,343.5 469.6,344.2 473.4,344.8 477.2,345.2"/>
<path d="M115.6,328.8 119.4,327.0 123.2,325.2 127.0,322.8 130.8,320.8 134.6,318.7 138.4,315.9 142.2,312.9 146.0,309.8 149.8,306.6 153.6,303.6 157.4,300.5 161.2,297.5 165.0,294.1 168.8,290.5 172.6,286.8 176.4,282.8 180.2,278.5 184.0,273.9 187.8,269.3 191.6,264.7 195.4,260.6 199.1,256.7 202.9,253.3 206.7,250.4 210.5,247.8 214.3,245.6 218.1,244.1 221.9,243.2 225.7,242.8 229.5,242.9 233.3,243.5 237.1,244.5 240.9,245.7 244.7,247.2 248.5,248.8 252.3,250.6 256.1,252.4 259.9,254.1 263.7,255.7 267.5,257.2 271.3,258.6 275.1,259.7 278.9,260.6 282.7,261.4 286.5,262.4 290.3,263.7 294.1,265.1 297.9,266.5 301.7,268.0 305.5,269.7 309.3,271.7 313.1,274.0 316.9,276.8 320.7,279.8 324.5,283.0 328.3,286.8 332.1,290.9 335.9,294.7 339.7,298.7 343.5,302.6 347.3,306.3 351.1,309.7 354.9,312.9 358.7,315.7 362.5,318.2 366.3,320.4 370.1,322.3 373.9,324.0 377.7,325.4 381.5,326.4 385.3,327.2 389.1,327.7 392.9,328.3 396.7,329.1 400.5,329.7 404.3,330.3 408.1,330.8 411.9,331.4 415.7,331.8 419.5,332.3 423.3,333.0 427.1,333.7 430.9,334.4 434.7,335.2 438.5,335.8 442.3,336.3 446.1,336.8 449.9,337.3 453.7,337.7 457.5,338.3 461.3,339.0 465.1,339.4 468.9,339.7 472.7,340.0 476.5,340.2 480.3,340.6 484.1,340.9 487.9,341.2 491.7,341.5"/>
<path d="M100.3,335.1 103.8,333.9 107.3,333.5 110.9,332.5 114.4,331.4 117.9,330.4 121.5,329.2 125.0,327.9 128.6,326.2 132.1,324.3 135.6,322.5 139.2,320.5 142.7,317.7 146.3,314.7 149.8,311.5 153.3,308.2 156.9,304.9 160.4,301.7 163.9,298.5 167.5,295.3 171.0,292.0 174.6,288.8 178.1,285.5 181.6,282.1 185.2,278.5 188.7,275.0 192.2,271.4 195.8,267.9 199.3,264.8 202.9,262.0 206.4,259.4 209.9,257.2 213.5,255.2 217.0,253.4 220.5,252.0 224.1,251.2 227.6,250.7 231.2,250.6 234.7,250.9 238.2,251.5 241.8,252.3 245.3,253.3 248.8,254.4 252.4,255.7 255.9,257.2 259.5,258.6 263.0,259.9 266.5,261.2 270.1,262.5 273.6,263.7 277.2,264.8 280.7,265.7 284.2,266.6 287.8,267.3 291.3,268.2 294.8,269.4 298.4,270.4 301.9,271.3 305.5,272.2 309.0,273.1 312.5,274.2 316.1,275.5 319.6,277.0 323.1,278.7 326.7,280.6 330.2,282.9 333.8,285.4 337.3,288.1 340.8,290.7 344.4,293.4 347.9,296.2 351.4,298.9 355.0,301.4 358.5,303.9 362.1,306.3 365.6,308.5 369.1,310.6 372.7,312.6 376.2,314.5 379.8,316.2 383.3,317.8 386.8,319.1 390.4,320.4 393.9,321.4 397.4,322.6 401.0,323.9 404.5,325.0 408.1,326.1 411.6,327.2 415.1,328.2 418.7,329.1 422.2,330.0 425.7,331.1 429.3,332.1 432.8,333.1 436.4,334.1 439.9,335.0 443.4,335.8 447.0,336.4 450.5,337.0"/>
<path d="M65.9,345.9 70.2,345.5 74.4,345.2 78.7,344.6 82.9,344.0 87.2,343.3 91.4,342.5 95.7,341.5 99.9,340.0 104.1,339.0 108.4,337.3 112.6,335.5 116.9,333.6 121.1,331.6 125.4,328.8 129.6,326.2 133.8,323.5 138.1,319.6 142.3,315.6 146.6,311.4 150.8,307.4 155.1,303.6 159.3,299.9 163.6,296.2 167.8,292.4 172.0,288.6 176.3,284.8 180.5,280.8 184.8,276.8 189.0,272.8 193.3,269.2 197.5,265.8 201.8,263.0 206.0,260.5 210.2,258.3 214.5,256.3 218.7,254.8 223.0,253.7 227.2,252.9 231.5,252.4 235.7,252.0 239.9,251.7 244.2,251.6 248.4,251.5 252.7,251.6 256.9,251.8 261.2,252.2 265.4,252.8 269.7,253.7 273.9,254.6 278.1,255.6 282.4,256.8 286.6,258.2 290.9,260.2 295.1,262.1 299.4,264.0 303.6,266.0 307.9,268.3 312.1,270.8 316.3,273.7 320.6,276.9 324.8,280.2 329.1,284.1 333.3,288.0 337.6,291.9 341.8,295.9 346.1,299.8 350.3,303.5 354.5,307.0 358.8,310.3 363.0,313.4 367.3,316.3 371.5,318.9 375.8,321.2 380.0,323.2 384.2,325.1 388.5,326.7 392.7,328.2 397.0,329.7 401.2,331.0 405.5,332.2 409.7,333.3 414.0,334.3 418.2,335.2 422.4,336.4 426.7,337.5 430.9,338.3 435.2,339.1 439.4,339.8 443.7,340.4 447.9,340.9 452.2,341.5 456.4,342.1 460.6,343.0 464.9,343.4 469.1,343.9 473.4,344.1 477.6,344.5 481.9,345.0 486.1,345.3"/>
<path d="M91.9,333.8 95.6,332.4 99.4,332.0 103.1,331.0 106.8,329.7 110.5,328.8 114.2,327.4 117.9,325.9 121.7,323.7 125.4,321.6 129.1,319.5 132.8,316.5 136.5,313.2 140.3,309.6 144.0,305.9 147.7,302.1 151.4,298.4 155.1,294.9 158.8,291.5 162.6,288.1 166.3,285.0 170.0,282.1 173.7,279.2 177.4,276.4 181.1,273.8 184.9,271.4 188.6,269.3 192.3,267.5 196.0,266.0 199.7,264.8 203.5,263.7 207.2,262.6 210.9,261.7 214.6,260.9 218.3,260.3 222.0,259.8 225.8,259.5 229.5,259.1 233.2,258.7 236.9,258.3 240.6,257.8 244.3,257.3 248.1,256.8 251.8,256.2 255.5,255.7 259.2,255.1 262.9,254.7 266.7,254.3 270.4,254.1 274.1,254.0 277.8,254.2 281.5,254.8 285.2,255.8 289.0,257.3 292.7,258.8 296.4,260.6 300.1,262.6 303.8,265.0 307.5,267.7 311.3,270.7 315.0,273.9 318.7,277.4 322.4,281.1 326.1,285.2 329.9,289.1 333.6,293.0 337.3,297.0 341.0,300.9 344.7,304.5 348.4,307.9 352.2,311.2 355.9,314.1 359.6,316.8 363.3,319.2 367.0,321.4 370.7,323.3 374.5,325.0 378.2,326.2 381.9,327.0 385.6,327.6 389.3,328.1 393.1,328.7 396.8,329.0 400.5,329.3 404.2,329.5 407.9,329.7 411.6,329.8 415.4,330.1 419.1,330.5 422.8,331.1 426.5,331.7 430.2,332.5 433.9,333.2 437.7,333.9 441.4,334.5 445.1,335.2 448.8,335.9 452.5,336.6 456.3,337.6 460.0,338.1"/>
<path d="M119.3,322.3 122.5,320.8 125.6,318.7 128.8,316.8 132.0,314.9 135.1,312.8 138.3,310.1 141.4,307.4 144.6,304.5 147.7,301.5 150.9,298.4 154.0,295.6 157.2,292.8 160.3,290.3 163.5,287.7 166.6,285.2 169.8,282.8 172.9,280.6 176.1,278.3 179.2,276.1 182.4,273.9 185.5,271.8 188.7,269.8 191.8,268.0 195.0,266.6 198.1,265.4 201.3,264.5 204.4,263.9 207.6,263.5 210.7,263.2 213.9,263.2 217.0,263.3 220.2,263.8 223.3,264.4 226.5,265.2 229.7,266.0 232.8,266.9 236.0,267.7 239.1,268.5 242.3,269.1 245.4,269.6 248.6,269.9 251.7,270.0 254.9,270.0 258.0,269.7 261.2,269.1 264.3,268.5 267.5,267.7 270.6,267.0 273.8,266.2 276.9,265.4 280.1,264.8 283.2,264.3 286.4,264.2 289.5,264.3 292.7,265.0 295.8,265.5 299.0,266.3 302.1,267.2 305.3,268.5 308.4,270.0 311.6,271.7 314.7,273.6 317.9,275.8 321.0,278.1 324.2,280.6 327.4,283.3 330.5,286.3 333.7,289.1 336.8,291.8 340.0,294.7 343.1,297.5 346.3,300.2 349.4,302.6 352.6,304.9 355.7,307.2 358.9,309.2 362.0,311.1 365.2,312.8 368.3,314.4 371.5,315.9 374.6,317.2 377.8,318.4 380.9,319.4 384.1,320.4 387.2,321.2 390.4,322.0 393.5,323.0 396.7,323.9 399.8,324.9 403.0,325.8 406.1,326.7 409.3,327.6 412.4,328.6 415.6,329.4 418.8,330.4 421.9,331.5 425.1,332.7 428.2,333.7 431.4,334.7"/>
<path d="M87.1,334.5 90.5,333.8 94.0,333.0 97.5,332.0 100.9,331.4 104.4,331.1 107.8,330.5 111.3,329.8 114.8,329.4 118.2,328.6 121.7,328.0 125.1,326.7 128.6,325.7 132.1,324.7 135.5,323.3 139.0,321.4 142.4,319.4 145.9,317.1 149.4,314.5 152.8,312.0 156.3,309.3 159.7,306.6 163.2,303.7 166.7,300.5 170.1,297.3 173.6,293.8 177.0,290.1 180.5,286.2 184.0,282.3 187.4,278.4 190.9,274.6 194.3,271.2 197.8,268.2 201.3,265.5 204.7,263.3 208.2,261.3 211.6,259.6 215.1,258.3 218.6,257.4 222.0,256.7 225.5,256.3 228.9,256.1 232.4,255.9 235.9,255.9 239.3,255.8 242.8,255.6 246.2,255.5 249.7,255.4 253.2,255.1 256.6,254.8 260.1,254.5 263.5,254.3 267.0,254.1 270.5,254.0 273.9,254.0 277.4,254.1 280.8,254.4 284.3,254.9 287.8,255.7 291.2,257.2 294.7,258.5 298.1,259.8 301.6,261.3 305.1,263.0 308.5,264.8 312.0,266.7 315.4,269.0 318.9,271.4 322.4,273.8 325.8,276.5 329.3,279.5 332.7,282.6 336.2,285.5 339.7,288.8 343.1,292.0 346.6,295.3 350.0,298.4 353.5,301.6 357.0,304.7 360.4,307.6 363.9,310.5 367.3,313.2 370.8,315.8 374.3,318.3 377.7,320.5 381.2,322.3 384.6,323.8 388.1,325.0 391.6,326.2 395.0,327.4 398.5,328.4 401.9,329.1 405.4,329.8 408.9,330.4 412.3,330.9 415.8,331.2 419.2,331.6 422.7,332.2 426.2,332.7 429.6,333.3"/>
<path d="M120.8,326.6 124.1,325.0 127.4,323.1 130.7,321.4 134.0,319.5 137.2,317.0 140.5,314.3 143.8,311.3 147.1,308.2 150.3,304.9 153.6,301.8 156.9,298.8 160.2,295.9 163.4,293.0 166.7,290.1 170.0,287.4 173.3,284.6 176.6,281.9 179.8,279.1 183.1,276.3 186.4,273.5 189.7,270.9 192.9,268.3 196.2,266.1 199.5,264.0 202.8,262.1 206.0,260.5 209.3,258.9 212.6,257.3 215.9,255.9 219.2,254.8 222.4,253.8 225.7,253.0 229.0,252.3 232.3,251.8 235.5,251.4 238.8,251.1 242.1,250.9 245.4,250.9 248.6,251.0 251.9,251.3 255.2,251.7 258.5,252.3 261.8,253.0 265.0,254.0 268.3,255.2 271.6,256.4 274.9,257.8 278.1,259.1 281.4,260.6 284.7,262.2 288.0,264.0 291.2,266.1 294.5,268.0 297.8,269.7 301.1,271.4 304.4,273.1 307.6,274.8 310.9,276.6 314.2,278.4 317.5,280.4 320.7,282.4 324.0,284.5 327.3,287.0 330.6,289.6 333.8,292.1 337.1,294.5 340.4,297.1 343.7,299.6 347.0,302.1 350.2,304.3 353.5,306.6 356.8,308.7 360.1,310.7 363.3,312.6 366.6,314.4 369.9,316.0 373.2,317.6 376.4,319.0 379.7,320.3 383.0,321.2 386.3,321.9 389.6,322.5 392.8,323.2 396.1,324.0 399.4,324.7 402.7,325.3 405.9,325.9 409.2,326.5 412.5,327.0 415.8,327.4 419.0,327.8 422.3,328.5 425.6,329.0 428.9,329.8 432.2,330.6 435.4,331.3 438.7,332.0 442.0,332.5 445.3,333.0"/>
<path d="M110.9,326.5 114.5,325.9 118.1,324.8 121.6,323.6 125.2,321.7 128.8,320.0 132.4,318.2 135.9,315.8 139.5,313.0 143.1,310.0 146.6,306.8 150.2,303.3 153.8,300.0 157.4,296.9 160.9,294.0 164.5,291.0 168.1,288.2 171.7,285.5 175.2,282.8 178.8,280.0 182.4,277.1 186.0,274.3 189.5,271.5 193.1,268.8 196.7,266.4 200.2,264.2 203.8,262.2 207.4,260.3 211.0,258.5 214.5,256.9 218.1,255.5 221.7,254.4 225.3,253.6 228.8,252.9 232.4,252.4 236.0,252.0 239.6,251.7 243.1,251.5 246.7,251.4 250.3,251.4 253.8,251.4 257.4,251.6 261.0,251.9 264.6,252.5 268.1,253.3 271.7,254.2 275.3,255.3 278.9,256.6 282.4,258.1 286.0,259.9 289.6,262.1 293.2,264.4 296.7,266.6 300.3,268.7 303.9,270.9 307.4,273.2 311.0,275.5 314.6,277.9 318.2,280.4 321.7,282.9 325.3,285.7 328.9,288.8 332.5,291.8 336.0,294.6 339.6,297.6 343.2,300.5 346.8,303.3 350.3,305.9 353.9,308.4 357.5,310.7 361.0,312.9 364.6,315.0 368.2,316.9 371.8,318.6 375.3,320.2 378.9,321.7 382.5,323.0 386.1,324.2 389.6,325.3 393.2,326.6 396.8,327.8 400.4,329.0 403.9,330.1 407.5,331.3 411.1,332.3 414.6,333.3 418.2,334.2 421.8,335.3 425.4,336.4 428.9,337.3 432.5,338.1 436.1,338.8 439.7,339.4 443.2,339.9 446.8,340.3 450.4,340.8 454.0,341.3 457.5,341.9 461.1,342.5 464.7,342.9"/>
<path d="M89.7,335.5 93.3,334.5 96.8,333.3 100.4,331.8 103.9,331.1 107.5,329.7 111.0,328.2 114.6,327.0 118.1,325.3 121.7,323.6 125.3,321.3 128.8,319.3 132.4,317.3 135.9,314.8 139.5,311.9 143.0,309.0 146.6,306.1 150.2,303.2 153.7,300.7 157.3,298.5 160.8,296.5 164.4,294.5 167.9,292.8 171.5,291.2 175.1,289.6 178.6,287.9 182.2,286.1 185.7,284.1 189.3,281.9 192.8,279.7 196.4,277.3 199.9,274.8 203.5,272.2 207.1,269.3 210.6,266.1 214.2,262.8 217.7,259.4 221.3,256.2 224.8,253.2 228.4,250.3 232.0,247.8 235.5,245.6 239.1,243.7 242.6,242.3 246.2,241.4 249.7,240.9 253.3,240.9 256.8,241.2 260.4,242.2 264.0,243.6 267.5,245.3 271.1,247.3 274.6,249.4 278.2,251.6 281.7,253.9 285.3,256.4 288.9,259.1 292.4,262.1 296.0,264.7 299.5,267.4 303.1,269.9 306.6,272.5 310.2,275.2 313.7,277.9 317.3,280.7 320.9,283.5 324.4,286.5 328.0,289.8 331.5,293.1 335.1,296.2 338.6,299.3 342.2,302.4 345.8,305.4 349.3,308.0 352.9,310.6 356.4,313.0 360.0,315.2 363.5,317.2 367.1,319.0 370.6,320.6 374.2,322.1 377.8,323.4 381.3,324.5 384.9,325.7 388.4,326.7 392.0,327.7 395.5,328.8 399.1,329.8 402.7,330.7 406.2,331.6 409.8,332.5 413.3,333.4 416.9,334.2 420.4,335.3 424.0,336.5 427.5,337.5 431.1,338.3 434.7,339.2 438.2,339.9 441.8,340.6"/>
<path d="M121.9,329.0 125.3,327.3 128.7,325.1 132.0,323.2 135.4,321.1 138.7,318.4 142.1,315.4 145.5,312.2 148.8,309.0 152.2,305.7 155.5,302.6 158.9,299.4 162.3,296.3 165.6,293.1 169.0,289.9 172.3,286.7 175.7,283.4 179.1,280.2 182.4,276.8 185.8,273.4 189.1,270.1 192.5,267.0 195.9,264.2 199.2,261.6 202.6,259.5 205.9,257.7 209.3,256.2 212.7,254.8 216.0,253.8 219.4,253.0 222.8,252.7 226.1,252.6 229.5,252.7 232.8,253.1 236.2,253.6 239.6,254.1 242.9,254.6 246.3,255.2 249.6,255.8 253.0,256.4 256.4,257.0 259.7,257.5 263.1,258.0 266.4,258.5 269.8,259.1 273.2,259.6 276.5,260.2 279.9,260.8 283.2,261.5 286.6,262.3 290.0,263.3 293.3,264.8 296.7,266.1 300.0,267.4 303.4,268.7 306.8,270.2 310.1,271.7 313.5,273.4 316.8,275.3 320.2,277.4 323.6,279.6 326.9,282.0 330.3,284.8 333.6,287.7 337.0,290.5 340.4,293.4 343.7,296.4 347.1,299.5 350.4,302.3 353.8,305.1 357.2,307.8 360.5,310.3 363.9,312.7 367.3,315.0 370.6,317.1 374.0,319.0 377.3,320.8 380.7,322.3 384.1,323.3 387.4,324.1 390.8,324.7 394.1,325.3 397.5,325.9 400.9,326.5 404.2,327.0 407.6,327.4 410.9,327.8 414.3,328.2 417.7,328.5 421.0,328.8 424.4,329.3 427.7,330.0 431.1,330.7 434.5,331.5 437.8,332.2 441.2,332.9 444.5,333.4 447.9,333.9 451.3,334.5 454.6,335.0"/>
<path d="M84.5,328.7 88.6,327.6 92.7,326.3 96.9,324.9 101.0,324.4 105.1,323.9 109.3,323.3 113.4,323.3 117.5,322.9 121.7,322.4 125.8,321.5 129.9,320.9 134.1,319.8 138.2,317.9 142.3,315.8 146.5,313.1 150.6,310.0 154.8,306.8 158.9,303.6 163.0,300.2 167.2,296.7 171.3,293.2 175.4,289.6 179.6,285.8 183.7,282.1 187.8,278.4 192.0,274.9 196.1,271.7 200.2,268.7 204.4,266.0 208.5,263.3 212.6,260.7 216.8,258.3 220.9,256.3 225.0,254.5 229.2,253.1 233.3,252.0 237.5,251.1 241.6,250.6 245.7,250.5 249.9,250.6 254.0,251.0 258.1,251.6 262.3,252.4 266.4,253.3 270.5,254.3 274.7,255.2 278.8,256.1 282.9,257.1 287.1,258.3 291.2,260.1 295.3,261.7 299.5,263.3 303.6,265.3 307.7,267.5 311.9,270.1 316.0,273.2 320.1,276.5 324.3,280.1 328.4,284.2 332.6,288.2 336.7,292.2 340.8,296.3 345.0,300.3 349.1,303.9 353.2,307.2 357.4,310.3 361.5,313.0 365.6,315.6 369.8,317.8 373.9,319.8 378.0,321.5 382.2,322.8 386.3,323.9 390.4,325.0 394.6,326.3 398.7,327.4 402.8,328.5 407.0,329.6 411.1,330.6 415.3,331.5 419.4,332.6 423.5,333.7 427.7,334.8 431.8,335.9 435.9,336.9 440.1,337.5 444.2,338.2 448.3,338.8 452.5,339.4 456.6,340.1 460.7,340.7 464.9,341.1 469.0,341.5 473.1,341.6 477.3,342.0 481.4,342.3 485.5,342.6 489.7,342.9 493.8,343.2"/>
<path d="M103.8,333.8 107.3,333.0 110.8,332.2 114.3,331.1 117.8,329.9 121.3,328.8 124.8,327.4 128.3,325.9 131.8,323.8 135.3,321.9 138.8,319.9 142.3,317.1 145.8,314.0 149.3,310.7 152.7,307.2 156.2,303.6 159.7,300.1 163.2,296.7 166.7,293.3 170.2,289.8 173.7,286.4 177.2,283.1 180.7,279.8 184.2,276.5 187.7,273.2 191.2,270.0 194.7,267.1 198.2,264.4 201.7,262.0 205.2,260.2 208.7,258.6 212.2,257.3 215.7,256.2 219.2,255.4 222.6,254.8 226.1,254.7 229.6,254.8 233.1,255.0 236.6,255.6 240.1,256.1 243.6,256.7 247.1,257.4 250.6,258.0 254.1,258.6 257.6,259.3 261.1,259.8 264.6,260.2 268.1,260.7 271.6,261.2 275.1,261.7 278.6,262.3 282.1,262.8 285.6,263.4 289.1,264.1 292.5,265.1 296.0,266.5 299.5,267.8 303.0,269.1 306.5,270.4 310.0,271.9 313.5,273.5 317.0,275.2 320.5,277.2 324.0,279.3 327.5,281.5 331.0,284.1 334.5,286.8 338.0,289.7 341.5,292.4 345.0,295.2 348.5,298.0 352.0,300.7 355.5,303.3 359.0,305.7 362.4,308.1 365.9,310.3 369.4,312.4 372.9,314.4 376.4,316.2 379.9,318.0 383.4,320.1 386.9,322.1 390.4,323.9 393.9,325.4 397.4,327.0 400.9,328.8 404.4,330.4 407.9,331.9 411.4,333.4 414.9,334.9 418.4,336.3 421.9,337.6 425.4,339.0 428.9,339.9 432.3,340.8 435.8,341.6 439.3,342.5 442.8,343.3 446.3,343.8 449.8,344.4"/>
<path d="M64.9,343.4 68.6,343.1 72.3,342.9 75.9,342.7 79.6,342.3 83.2,342.0 86.9,341.6 90.5,341.1 94.2,340.6 97.9,339.8 101.5,339.1 105.2,338.5 108.8,337.5 112.5,336.2 116.1,335.1 119.8,333.5 123.5,331.5 127.1,329.0 130.8,326.4 134.4,323.6 138.1,319.7 141.7,315.6 145.4,311.2 149.1,306.8 152.7,302.5 156.4,298.4 160.0,294.5 163.7,290.7 167.4,287.0 171.0,283.7 174.7,280.4 178.3,277.2 182.0,273.9 185.6,270.8 189.3,267.6 193.0,264.6 196.6,261.7 200.3,259.1 203.9,256.5 207.6,254.1 211.2,251.7 214.9,249.5 218.6,247.8 222.2,246.4 225.9,245.5 229.5,245.0 233.2,244.9 236.8,245.1 240.5,245.6 244.2,246.4 247.8,247.4 251.5,248.6 255.1,249.9 258.8,251.3 262.4,252.9 266.1,254.6 269.8,256.3 273.4,258.1 277.1,259.9 280.7,261.8 284.4,263.9 288.1,266.0 291.7,268.7 295.4,271.1 299.0,273.3 302.7,275.5 306.3,277.7 310.0,280.0 313.7,282.3 317.3,284.7 321.0,287.3 324.6,290.0 328.3,293.0 331.9,296.2 335.6,299.1 339.3,302.0 342.9,304.9 346.6,307.6 350.2,310.0 353.9,312.3 357.5,314.4 361.2,316.1 364.9,317.7 368.5,319.0 372.2,320.2 375.8,321.1 379.5,321.9 383.1,322.7 386.8,323.5 390.5,324.2 394.1,325.1 397.8,326.1 401.4,327.0 405.1,327.9 408.8,328.9 412.4,329.9 416.1,330.9 419.7,332.0 423.4,333.3 427.0,334.5"/>
<path d="M102.7,335.1 106.2,334.0 109.6,332.8 113.0,331.6 116.4,330.1 119.8,328.4 123.3,326.1 126.7,324.0 130.1,321.8 133.5,318.8 137.0,315.5 140.4,312.0 143.8,308.4 147.2,304.7 150.7,301.2 154.1,297.8 157.5,294.4 160.9,291.0 164.3,287.5 167.8,284.1 171.2,280.7 174.6,277.3 178.0,273.8 181.5,270.3 184.9,267.0 188.3,263.8 191.7,261.0 195.2,258.5 198.6,256.2 202.0,254.4 205.4,252.6 208.9,251.0 212.3,249.6 215.7,248.5 219.1,247.5 222.5,246.7 226.0,246.0 229.4,245.4 232.8,244.8 236.2,244.2 239.7,243.7 243.1,243.3 246.5,243.1 249.9,243.0 253.4,243.1 256.8,243.5 260.2,244.3 263.6,245.5 267.1,247.0 270.5,248.7 273.9,250.6 277.3,252.8 280.7,255.2 284.2,257.9 287.6,261.0 291.0,264.0 294.4,266.9 297.9,269.8 301.3,272.6 304.7,275.4 308.1,278.1 311.6,280.9 315.0,283.7 318.4,286.5 321.8,289.4 325.3,292.5 328.7,295.6 332.1,298.5 335.5,301.4 338.9,304.3 342.4,307.1 345.8,309.6 349.2,312.0 352.6,314.3 356.1,316.4 359.5,318.3 362.9,320.2 366.3,321.8 369.8,323.3 373.2,324.7 376.6,325.8 380.0,326.7 383.5,327.1 386.9,327.3 390.3,327.7 393.7,328.0 397.1,328.3 400.6,328.5 404.0,328.6 407.4,328.7 410.8,328.8 414.3,328.7 417.7,328.9 421.1,329.1 424.5,329.3 428.0,329.8 431.4,330.5 434.8,331.0 438.2,331.4 441.6,331.9"/>
<path d="M90.0,336.1 93.9,334.8 97.8,333.4 101.7,332.1 105.6,330.9 109.5,329.4 113.4,328.1 117.3,326.5 121.2,324.9 125.1,322.8 128.9,320.8 132.8,318.8 136.7,315.9 140.6,312.6 144.5,308.9 148.4,305.0 152.3,300.9 156.2,296.7 160.1,292.5 164.0,288.0 167.9,283.4 171.7,278.9 175.6,274.2 179.5,269.5 183.4,265.0 187.3,260.6 191.2,256.6 195.1,253.3 199.0,250.6 202.9,248.5 206.8,247.0 210.7,246.0 214.5,245.4 218.4,245.4 222.3,245.9 226.2,246.7 230.1,247.7 234.0,248.8 237.9,249.8 241.8,250.9 245.7,251.8 249.6,252.7 253.4,253.7 257.3,254.6 261.2,255.7 265.1,257.1 269.0,258.6 272.9,260.4 276.8,262.3 280.7,264.4 284.6,266.7 288.5,269.2 292.4,272.2 296.2,274.7 300.1,277.1 304.0,279.3 307.9,281.4 311.8,283.3 315.7,285.4 319.6,287.3 323.5,289.5 327.4,291.9 331.3,294.5 335.2,296.9 339.0,299.3 342.9,301.9 346.8,304.4 350.7,306.8 354.6,309.3 358.5,311.7 362.4,314.0 366.3,316.3 370.2,318.4 374.1,320.4 378.0,322.3 381.8,323.8 385.7,325.2 389.6,326.3 393.5,327.4 397.4,328.6 401.3,329.6 405.2,330.6 409.1,331.5 413.0,332.3 416.9,333.0 420.7,333.9 424.6,334.9 428.5,335.8 432.4,336.7 436.3,337.5 440.2,338.1 444.1,338.7 448.0,339.2 451.9,339.7 455.8,340.2 459.7,341.0 463.5,341.4 467.4,341.7 471.3,342.0 475.2,342.1"/>
<path d="M103.7,326.3 107.0,324.0 110.3,321.6 113.5,319.2 116.8,316.7 120.0,314.0 123.3,311.3 126.5,308.0 129.8,305.2 133.0,302.4 136.3,299.5 139.5,296.3 142.8,293.3 146.1,290.4 149.3,287.7 152.6,285.2 155.8,283.1 159.1,281.2 162.3,279.4 165.6,277.5 168.8,275.6 172.1,273.7 175.3,271.5 178.6,269.1 181.9,266.4 185.1,263.5 188.4,260.5 191.6,257.4 194.9,254.5 198.1,251.8 201.4,249.3 204.6,247.2 207.9,245.3 211.1,243.6 214.4,242.4 217.7,241.4 220.9,241.0 224.2,240.9 227.4,241.1 230.7,241.7 233.9,242.4 237.2,243.3 240.4,244.4 243.7,245.6 246.9,247.0 250.2,248.4 253.5,250.1 256.7,251.8 260.0,253.6 263.2,255.6 266.5,257.7 269.7,259.9 273.0,262.1 276.2,264.3 279.5,266.4 282.7,268.5 286.0,270.7 289.3,272.9 292.5,275.5 295.8,277.5 299.0,279.5 302.3,281.2 305.5,282.9 308.8,284.5 312.0,286.0 315.3,287.6 318.5,289.3 321.8,291.1 325.1,293.0 328.3,295.3 331.6,297.6 334.8,299.9 338.1,302.2 341.3,304.7 344.6,307.2 347.8,309.7 351.1,312.2 354.3,314.7 357.6,317.2 360.9,319.5 364.1,321.8 367.4,324.1 370.6,326.1 373.9,328.1 377.1,329.9 380.4,331.5 383.6,332.5 386.9,333.5 390.1,334.1 393.4,334.8 396.7,335.4 399.9,335.9 403.2,336.2 406.4,336.3 409.7,336.4 412.9,336.4 416.2,336.2 419.4,335.9 422.7,335.9 426.0,335.8"/>
<path d="M85.1,341.3 88.6,340.6 92.2,339.9 95.7,339.0 99.2,337.8 102.7,337.3 106.2,336.0 109.7,334.6 113.2,333.5 116.7,331.8 120.3,330.1 123.8,327.8 127.3,325.3 130.8,322.7 134.3,319.6 137.8,315.7 141.3,311.5 144.8,306.9 148.4,302.4 151.9,297.9 155.4,293.4 158.9,289.1 162.4,284.6 165.9,280.2 169.4,276.0 172.9,271.9 176.5,267.9 180.0,263.9 183.5,260.2 187.0,256.7 190.5,253.4 194.0,250.7 197.5,248.4 201.0,246.5 204.6,245.1 208.1,244.0 211.6,243.2 215.1,242.7 218.6,242.9 222.1,243.4 225.6,244.3 229.1,245.7 232.7,247.4 236.2,249.3 239.7,251.5 243.2,253.9 246.7,256.5 250.2,259.2 253.7,262.0 257.2,264.7 260.8,267.2 264.3,269.5 267.8,271.6 271.3,273.3 274.8,274.6 278.3,275.6 281.8,276.3 285.3,276.9 288.9,277.4 292.4,277.8 295.9,277.8 299.4,277.7 302.9,277.6 306.4,277.6 309.9,277.8 313.4,278.3 317.0,279.2 320.5,280.4 324.0,282.1 327.5,284.3 331.0,286.9 334.5,289.5 338.0,292.6 341.5,295.8 345.1,299.3 348.6,302.6 352.1,306.0 355.6,309.3 359.1,312.5 362.6,315.5 366.1,318.3 369.6,320.8 373.1,323.0 376.7,325.0 380.2,326.4 383.7,327.5 387.2,328.3 390.7,328.9 394.2,329.6 397.7,330.1 401.2,330.4 404.8,330.6 408.3,330.9 411.8,331.0 415.3,331.2 418.8,331.4 422.3,331.9 425.8,332.4 429.3,333.0 432.9,333.7"/>
<path d="M105.5,333.1 109.1,331.2 112.7,329.7 116.3,327.5 119.9,325.4 123.5,322.7 127.1,320.0 130.8,317.4 134.4,314.3 138.0,310.9 141.6,307.3 145.2,303.8 148.8,300.5 152.4,297.5 156.0,294.8 159.6,292.3 163.3,289.8 166.9,287.3 170.5,284.9 174.1,282.3 177.7,279.5 181.3,276.4 184.9,273.1 188.5,269.7 192.1,266.3 195.8,262.8 199.4,259.6 203.0,256.6 206.6,253.8 210.2,251.1 213.8,248.9 217.4,247.2 221.0,246.1 224.6,245.5 228.3,245.4 231.9,245.7 235.5,246.4 239.1,247.3 242.7,248.5 246.3,249.7 249.9,251.1 253.5,252.5 257.1,254.0 260.7,255.5 264.4,257.1 268.0,258.7 271.6,260.4 275.2,262.0 278.8,263.8 282.4,265.6 286.0,267.7 289.6,270.1 293.2,272.3 296.9,274.4 300.5,276.3 304.1,278.2 307.7,280.0 311.3,281.8 314.9,283.8 318.5,285.7 322.1,287.7 325.7,290.0 329.4,292.5 333.0,294.8 336.6,297.0 340.2,299.4 343.8,301.8 347.4,303.9 351.0,306.0 354.6,308.1 358.2,310.0 361.9,311.8 365.5,313.6 369.1,315.3 372.7,317.0 376.3,318.6 379.9,320.0 383.5,321.2 387.1,322.2 390.7,323.3 394.4,324.7 398.0,325.9 401.6,327.1 405.2,328.2 408.8,329.3 412.4,330.2 416.0,331.1 419.6,332.0 423.2,333.0 426.9,333.9 430.5,334.8 434.1,335.7 437.7,336.3 441.3,336.8 444.9,337.2 448.5,337.7 452.1,338.1 455.7,338.5 459.3,339.1 463.0,339.4"/>
<path d="M53.2,339.0 57.3,338.8 61.5,338.5 65.6,338.3 69.8,338.0 74.0,337.8 78.1,337.7 82.3,337.3 86.4,336.9 90.6,336.4 94.8,335.8 98.9,334.8 103.1,333.6 107.2,333.3 111.4,332.1 115.6,330.5 119.7,328.7 123.9,326.4 128.1,323.3 132.2,320.0 136.4,316.5 140.5,312.0 144.7,307.2 148.9,301.8 153.0,296.3 157.2,291.1 161.3,286.0 165.5,281.1 169.7,276.1 173.8,271.3 178.0,266.5 182.2,261.6 186.3,256.8 190.5,252.1 194.6,247.7 198.8,244.0 203.0,241.2 207.1,239.2 211.3,238.1 215.4,237.9 219.6,238.6 223.8,240.6 227.9,243.4 232.1,247.0 236.2,251.0 240.4,255.3 244.6,259.6 248.7,263.7 252.9,267.5 257.1,270.8 261.2,273.3 265.4,275.1 269.5,276.4 273.7,277.2 277.9,277.5 282.0,277.5 286.2,277.3 290.3,277.3 294.5,277.6 298.7,277.6 302.8,277.6 307.0,277.8 311.1,278.3 315.3,279.1 319.5,280.5 323.6,282.4 327.8,284.7 332.0,287.8 336.1,291.1 340.3,294.5 344.4,298.2 348.6,302.0 352.8,305.5 356.9,308.9 361.1,312.1 365.2,314.9 369.4,317.4 373.6,319.5 377.7,321.4 381.9,322.9 386.1,323.9 390.2,324.7 394.4,325.4 398.5,326.3 402.7,327.1 406.9,327.8 411.0,328.7 415.2,329.5 419.3,330.3 423.5,331.4 427.7,332.5 431.8,333.7 436.0,334.9 440.1,336.1 444.3,336.9 448.5,337.7 452.6,338.5 456.8,339.2 461.0,340.0 465.1,340.8"/>
<path d="M105.1,338.0 108.4,337.2 111.7,336.0 114.9,334.5 118.2,333.5 121.5,332.0 124.8,330.6 128.0,328.8 131.3,326.8 134.6,324.9 137.8,322.9 141.1,320.1 144.4,317.2 147.7,314.2 150.9,311.2 154.2,308.1 157.5,305.1 160.8,302.0 164.0,299.0 167.3,295.9 170.6,292.7 173.8,289.6 177.1,286.5 180.4,283.2 183.7,279.9 186.9,276.7 190.2,273.4 193.5,270.3 196.8,267.3 200.0,264.7 203.3,262.4 206.6,260.3 209.9,258.6 213.1,257.1 216.4,255.7 219.7,254.7 222.9,254.0 226.2,253.7 229.5,253.6 232.8,253.7 236.0,254.1 239.3,254.6 242.6,255.1 245.9,255.6 249.1,256.1 252.4,256.6 255.7,257.1 259.0,257.5 262.2,257.7 265.5,257.9 268.8,258.1 272.0,258.3 275.3,258.5 278.6,258.7 281.9,259.0 285.1,259.4 288.4,260.0 291.7,260.8 295.0,262.2 298.2,263.6 301.5,265.0 304.8,266.5 308.1,268.2 311.3,270.0 314.6,272.0 317.9,274.1 321.1,276.4 324.4,278.7 327.7,281.1 331.0,283.9 334.2,286.8 337.5,289.5 340.8,292.2 344.1,295.0 347.3,297.7 350.6,300.3 353.9,302.7 357.2,305.1 360.4,307.4 363.7,309.5 367.0,311.6 370.2,313.5 373.5,315.3 376.8,317.1 380.1,318.7 383.3,320.0 386.6,321.0 389.9,321.9 393.2,322.6 396.4,323.4 399.7,324.2 403.0,325.0 406.2,325.7 409.5,326.3 412.8,326.9 416.1,327.5 419.3,327.9 422.6,328.2 425.9,328.9 429.2,329.6"/>
<path d="M98.6,332.8 102.0,331.9 105.3,331.8 108.6,331.2 112.0,330.5 115.3,329.7 118.6,329.0 122.0,327.9 125.3,326.8 128.6,325.0 132.0,323.4 135.3,321.7 138.6,319.5 142.0,316.8 145.3,313.9 148.6,310.6 152.0,307.3 155.3,304.0 158.6,301.0 162.0,298.1 165.3,295.4 168.6,292.6 172.0,290.2 175.3,287.8 178.7,285.5 182.0,283.3 185.3,281.1 188.7,278.9 192.0,276.9 195.3,275.1 198.7,273.4 202.0,271.9 205.3,270.4 208.7,269.1 212.0,267.7 215.3,266.3 218.7,264.9 222.0,263.7 225.3,262.4 228.7,261.2 232.0,260.1 235.3,259.0 238.7,257.9 242.0,256.8 245.3,255.8 248.7,254.8 252.0,254.0 255.3,253.2 258.7,252.6 262.0,252.3 265.4,252.1 268.7,252.3 272.0,252.7 275.4,253.3 278.7,254.0 282.0,255.0 285.4,256.1 288.7,257.5 292.0,259.2 295.4,261.2 298.7,262.9 302.0,264.7 305.4,266.5 308.7,268.3 312.0,270.3 315.4,272.3 318.7,274.5 322.0,276.8 325.4,279.1 328.7,281.8 332.0,284.7 335.4,287.6 338.7,290.4 342.0,293.4 345.4,296.4 348.7,299.4 352.1,302.1 355.4,304.8 358.7,307.4 362.1,309.6 365.4,311.8 368.7,313.9 372.1,315.6 375.4,317.3 378.7,318.8 382.1,320.1 385.4,321.2 388.7,322.1 392.1,322.9 395.4,323.7 398.7,324.7 402.1,325.6 405.4,326.4 408.7,327.2 412.1,328.0 415.4,328.9 418.7,329.6 422.1,330.5 425.4,331.5 428.7,332.4"/>
<path d="M101.5,333.8 104.7,332.2 108.0,330.2 111.3,327.9 114.6,325.4 117.9,323.1 121.1,320.4 124.4,317.7 127.7,314.3 131.0,311.3 134.3,308.3 137.5,305.0 140.8,301.3 144.1,297.7 147.4,294.2 150.7,291.0 153.9,288.0 157.2,285.3 160.5,282.9 163.8,280.8 167.1,278.7 170.3,276.8 173.6,275.0 176.9,273.4 180.2,271.7 183.5,270.1 186.7,268.5 190.0,266.9 193.3,265.5 196.6,264.3 199.8,263.3 203.1,262.6 206.4,262.1 209.7,261.8 213.0,261.6 216.2,261.6 219.5,261.8 222.8,262.4 226.1,263.2 229.4,264.0 232.6,265.2 235.9,266.3 239.2,267.4 242.5,268.5 245.8,269.5 249.0,270.5 252.3,271.3 255.6,271.9 258.9,272.3 262.2,272.3 265.4,272.2 268.7,271.9 272.0,271.6 275.3,271.2 278.6,270.7 281.8,270.3 285.1,269.9 288.4,269.7 291.7,269.8 295.0,270.3 298.2,270.6 301.5,271.1 304.8,271.7 308.1,272.6 311.3,273.7 314.6,275.0 317.9,276.8 321.2,278.7 324.5,280.9 327.7,283.3 331.0,286.2 334.3,289.1 337.6,292.0 340.9,295.0 344.1,298.1 347.4,301.1 350.7,303.9 354.0,306.6 357.3,309.3 360.5,311.6 363.8,313.8 367.1,315.8 370.4,317.7 373.7,319.3 376.9,320.8 380.2,322.1 383.5,323.5 386.8,324.7 390.1,325.8 393.3,326.7 396.6,327.9 399.9,329.0 403.2,330.0 406.5,331.0 409.7,332.0 413.0,333.0 416.3,333.9 419.6,334.8 422.8,335.9 426.1,337.0"/>
<path d="M111.2,332.2 114.4,331.4 117.6,330.5 120.8,329.4 123.9,328.2 127.1,326.3 130.3,324.6 133.5,322.7 136.6,320.5 139.8,317.6 143.0,314.5 146.2,311.1 149.3,307.7 152.5,304.2 155.7,300.8 158.9,297.5 162.1,294.4 165.2,291.3 168.4,288.3 171.6,285.6 174.8,282.9 177.9,280.4 181.1,277.9 184.3,275.5 187.5,273.3 190.6,271.2 193.8,269.3 197.0,267.6 200.2,266.2 203.4,265.0 206.5,263.9 209.7,262.9 212.9,261.9 216.1,261.1 219.2,260.4 222.4,259.9 225.6,259.5 228.8,259.1 232.0,259.0 235.1,258.9 238.3,258.9 241.5,258.9 244.7,258.9 247.8,258.9 251.0,259.0 254.2,259.2 257.4,259.3 260.5,259.4 263.7,259.5 266.9,259.8 270.1,260.0 273.3,260.3 276.4,260.6 279.6,260.8 282.8,261.2 286.0,261.6 289.1,262.3 292.3,263.3 295.5,264.3 298.7,265.2 301.9,266.3 305.0,267.4 308.2,268.7 311.4,270.2 314.6,271.9 317.7,273.9 320.9,276.0 324.1,278.2 327.3,280.7 330.4,283.5 333.6,286.4 336.8,289.2 340.0,292.0 343.2,294.9 346.3,297.7 349.5,300.4 352.7,302.9 355.9,305.2 359.0,307.5 362.2,309.5 365.4,311.5 368.6,313.3 371.7,315.0 374.9,316.6 378.1,318.1 381.3,319.4 384.5,320.5 387.6,321.6 390.8,322.5 394.0,323.5 397.2,324.6 400.3,325.7 403.5,326.7 406.7,327.6 409.9,328.5 413.1,329.3 416.2,330.1 419.4,330.7 422.6,331.5 425.8,332.3"/>
<path d="M138.8,285.6 142.2,282.3 145.6,278.9 149.0,275.6 152.4,272.1 155.8,268.6 159.3,265.1 162.7,261.6 166.1,258.3 169.5,255.3 172.9,252.6 176.3,250.2 179.8,248.1 183.2,246.2 186.6,244.7 190.0,243.6 193.4,243.1 196.8,243.1 200.2,243.4 203.7,244.2 207.1,245.3 210.5,246.7 213.9,248.3 217.3,250.1 220.7,251.9 224.2,253.9 227.6,255.7 231.0,257.5 234.4,259.2 237.8,260.8 241.2,262.2 244.7,263.3 248.1,264.3 251.5,265.1 254.9,265.7 258.3,266.5 261.7,267.3 265.2,268.5 268.6,269.4 272.0,270.5 275.4,271.7 278.8,273.2 282.2,274.9 285.7,276.9 289.1,279.2 292.5,281.7 295.9,284.4 299.3,287.5 302.7,290.8 306.2,294.0 309.6,297.1 313.0,300.4 316.4,303.6 319.8,306.7 323.2,309.6 326.6,312.4 330.1,315.1 333.5,317.5 336.9,319.8 340.3,321.9 343.7,323.7 347.1,325.3 350.6,326.8 354.0,327.8 357.4,328.6 360.8,329.1 364.2,329.6 367.6,330.1 371.1,330.5 374.5,330.8 377.9,331.1 381.3,331.2 384.7,330.9 388.1,330.5 391.6,330.2 395.0,330.2 398.4,330.3 401.8,330.4 405.2,330.5 408.6,330.7 412.1,330.7 415.5,330.8 418.9,330.8 422.3,330.9 425.7,331.0 429.1,331.6 432.6,332.5 436.0,332.9 439.4,333.4 442.8,333.8 446.2,334.0 449.6,334.3 453.0,334.7 456.5,335.0 459.9,335.2 463.3,335.4 466.7,335.7 470.1,335.9 473.5,336.1 477.0,336.3"/>
<path d="M85.1,339.4 88.8,338.4 92.6,337.1 96.3,335.7 100.0,334.5 103.8,333.0 107.5,331.3 111.3,329.6 115.0,327.9 118.8,326.0 122.5,323.8 126.2,321.5 130.0,319.4 133.7,316.9 137.5,313.8 141.2,310.6 145.0,307.3 148.7,304.2 152.4,301.2 156.2,298.4 159.9,295.7 163.7,292.8 167.4,289.9 171.1,287.1 174.9,284.2 178.6,281.2 182.4,278.2 186.1,275.2 189.9,272.3 193.6,269.7 197.3,267.3 201.1,265.1 204.8,263.2 208.6,261.3 212.3,259.6 216.1,258.1 219.8,256.9 223.5,256.1 227.3,255.4 231.0,255.0 234.8,254.7 238.5,254.6 242.2,254.7 246.0,255.0 249.7,255.4 253.5,256.0 257.2,256.7 261.0,257.5 264.7,258.4 268.4,259.5 272.2,260.5 275.9,261.6 279.7,262.7 283.4,264.0 287.2,265.5 290.9,267.4 294.6,269.0 298.4,270.5 302.1,272.1 305.9,273.8 309.6,275.6 313.3,277.6 317.1,279.8 320.8,282.0 324.6,284.6 328.3,287.5 332.1,290.3 335.8,293.0 339.5,295.9 343.3,298.8 347.0,301.5 350.8,304.1 354.5,306.7 358.3,309.0 362.0,311.3 365.7,313.5 369.5,315.5 373.2,317.4 377.0,319.1 380.7,320.6 384.4,322.2 388.2,323.6 391.9,325.2 395.7,326.8 399.4,328.2 403.2,329.6 406.9,330.9 410.6,332.2 414.4,333.3 418.1,334.5 421.9,335.9 425.6,337.2 429.4,338.1 433.1,339.0 436.8,339.7 440.6,340.3 444.3,340.9 448.1,341.5 451.8,342.1 455.5,342.8"/>
<path d="M64.8,340.2 68.8,339.8 72.8,339.1 76.9,338.3 80.9,337.4 85.0,336.3 89.0,335.1 93.0,333.7 97.1,332.0 101.1,330.8 105.1,329.2 109.2,327.5 113.2,325.7 117.2,323.7 121.3,321.2 125.3,318.8 129.3,316.3 133.4,312.9 137.4,309.3 141.5,305.3 145.5,301.1 149.5,297.1 153.6,293.2 157.6,289.5 161.6,285.7 165.7,282.3 169.7,279.0 173.7,275.9 177.8,272.8 181.8,270.1 185.9,267.7 189.9,265.6 193.9,263.9 198.0,262.5 202.0,261.3 206.0,259.9 210.1,258.5 214.1,257.1 218.1,255.6 222.2,254.2 226.2,252.7 230.2,251.1 234.3,249.5 238.3,247.9 242.4,246.3 246.4,244.8 250.4,243.3 254.5,241.9 258.5,240.6 262.5,239.8 266.6,239.3 270.6,239.1 274.6,239.3 278.7,240.1 282.7,241.7 286.7,244.3 290.8,247.7 294.8,251.6 298.9,256.1 302.9,261.3 306.9,267.0 311.0,273.1 315.0,279.4 319.0,285.6 323.1,292.0 327.1,298.4 331.1,304.2 335.2,309.5 339.2,314.3 343.3,318.5 347.3,321.9 351.3,324.8 355.4,327.0 359.4,328.8 363.4,330.2 367.5,331.2 371.5,332.0 375.5,332.6 379.6,332.8 383.6,332.8 387.6,332.7 391.7,333.0 395.7,333.2 399.8,333.3 403.8,333.5 407.8,333.6 411.9,333.7 415.9,333.8 419.9,334.2 424.0,334.5 428.0,334.9 432.0,335.4 436.1,335.7 440.1,336.0 444.1,336.3 448.2,336.7 452.2,337.0 456.3,337.9 460.3,338.3 464.3,338.7"/>
<path d="M141.1,305.1 144.4,302.9 147.6,300.2 150.8,297.3 154.0,294.5 157.2,291.6 160.4,288.5 163.6,285.4 166.8,282.2 170.0,279.0 173.2,275.9 176.4,273.0 179.6,270.2 182.8,267.9 186.0,265.8 189.2,263.9 192.5,262.2 195.7,260.7 198.9,259.5 202.1,258.7 205.3,258.1 208.5,257.7 211.7,257.5 214.9,257.5 218.1,257.5 221.3,257.5 224.5,257.4 227.7,257.3 230.9,257.0 234.1,256.6 237.3,256.0 240.5,255.3 243.8,254.5 247.0,253.6 250.2,252.8 253.4,252.0 256.6,251.2 259.8,250.6 263.0,250.3 266.2,250.2 269.4,250.6 272.6,251.5 275.8,252.8 279.0,254.1 282.2,255.7 285.4,257.5 288.6,259.7 291.8,262.0 295.1,264.6 298.3,267.5 301.5,270.5 304.7,273.6 307.9,276.9 311.1,280.5 314.3,284.1 317.5,287.5 320.7,290.8 323.9,294.0 327.1,297.1 330.3,300.0 333.5,302.6 336.7,305.1 339.9,307.4 343.2,309.4 346.4,311.4 349.6,313.2 352.8,314.9 356.0,316.5 359.2,318.1 362.4,319.5 365.6,320.7 368.8,321.8 372.0,322.8 375.2,323.9 378.4,325.1 381.6,326.3 384.8,327.4 388.0,328.5 391.2,329.5 394.5,330.4 397.7,331.2 400.9,331.9 404.1,332.8 407.3,333.7 410.5,334.6 413.7,335.4 416.9,336.2 420.1,337.0 423.3,337.6 426.5,338.1 429.7,338.6 432.9,339.1 436.1,339.6 439.3,340.0 442.6,340.7 445.8,341.2 449.0,341.5 452.2,341.8 455.4,342.0 458.6,342.2"/>
<path d="M76.0,341.6 79.6,341.0 83.2,340.4 86.7,339.7 90.3,338.8 93.8,337.8 97.4,336.5 100.9,336.0 104.5,334.7 108.1,333.1 111.6,332.0 115.2,330.3 118.7,328.5 122.3,326.2 125.9,323.9 129.4,321.5 133.0,318.5 136.5,314.9 140.1,311.0 143.7,306.9 147.2,302.7 150.8,298.6 154.3,294.5 157.9,290.4 161.4,286.2 165.0,282.1 168.6,278.2 172.1,274.3 175.7,270.5 179.2,266.9 182.8,263.5 186.4,260.5 189.9,257.8 193.5,255.7 197.0,254.1 200.6,253.0 204.1,252.2 207.7,251.7 211.3,251.5 214.8,251.6 218.4,252.0 221.9,252.7 225.5,253.4 229.1,254.3 232.6,255.2 236.2,256.1 239.7,256.8 243.3,257.4 246.9,257.9 250.4,258.3 254.0,258.5 257.5,258.7 261.1,258.9 264.6,259.1 268.2,259.4 271.8,259.8 275.3,260.4 278.9,261.3 282.4,262.5 286.0,264.2 289.6,266.4 293.1,268.5 296.7,270.7 300.2,273.1 303.8,275.5 307.4,278.1 310.9,280.7 314.5,283.5 318.0,286.1 321.6,288.9 325.1,292.0 328.7,295.0 332.3,297.7 335.8,300.4 339.4,302.9 342.9,305.3 346.5,307.3 350.1,309.2 353.6,311.0 357.2,312.5 360.7,314.0 364.3,315.4 367.9,316.6 371.4,317.9 375.0,319.1 378.5,320.0 382.1,321.1 385.6,322.2 389.2,323.4 392.8,324.8 396.3,326.2 399.9,327.6 403.4,329.0 407.0,330.3 410.6,331.6 414.1,332.8 417.7,334.1 421.2,335.5 424.8,336.9 428.3,338.0"/>
<path d="M119.8,325.5 123.3,323.9 126.7,322.7 130.2,321.6 133.7,319.9 137.1,318.0 140.6,315.8 144.0,313.5 147.5,311.1 151.0,308.7 154.4,306.3 157.9,303.9 161.3,301.2 164.8,298.4 168.3,295.5 171.7,292.4 175.2,289.1 178.7,285.6 182.1,282.1 185.6,278.6 189.0,275.1 192.5,272.0 196.0,269.2 199.4,266.7 202.9,264.6 206.3,262.7 209.8,260.9 213.3,259.4 216.7,258.3 220.2,257.4 223.7,256.7 227.1,256.1 230.6,255.6 234.0,255.0 237.5,254.4 241.0,253.7 244.4,253.0 247.9,252.2 251.3,251.4 254.8,250.6 258.3,249.9 261.7,249.5 265.2,249.3 268.7,249.4 272.1,249.7 275.6,250.3 279.0,251.3 282.5,252.7 286.0,254.5 289.4,257.0 292.9,259.4 296.4,261.9 299.8,264.5 303.3,267.3 306.7,270.2 310.2,273.1 313.7,276.3 317.1,279.4 320.6,282.6 324.0,285.9 327.5,289.5 331.0,292.8 334.4,295.9 337.9,299.1 341.4,302.1 344.8,304.8 348.3,307.3 351.7,309.6 355.2,311.7 358.7,313.6 362.1,315.3 365.6,316.8 369.0,318.2 372.5,319.5 376.0,320.6 379.4,321.4 382.9,322.1 386.4,322.5 389.8,323.0 393.3,323.7 396.7,324.3 400.2,324.9 403.7,325.5 407.1,326.0 410.6,326.6 414.1,327.1 417.5,327.7 421.0,328.5 424.4,329.3 427.9,330.2 431.4,331.2 434.8,332.1 438.3,332.8 441.7,333.6 445.2,334.3 448.7,335.0 452.1,335.7 455.6,336.5 459.1,337.2 462.5,337.7"/>
<path d="M114.5,330.2 118.0,329.5 121.5,328.5 125.1,327.1 128.6,326.0 132.1,324.7 135.7,322.6 139.2,320.5 142.7,318.1 146.2,315.6 149.8,312.9 153.3,310.5 156.8,308.2 160.4,306.0 163.9,303.7 167.4,301.6 171.0,299.6 174.5,297.4 178.0,295.2 181.6,292.9 185.1,290.6 188.6,288.3 192.2,286.1 195.7,284.1 199.2,282.2 202.8,280.5 206.3,278.7 209.8,276.9 213.4,275.0 216.9,273.2 220.4,271.3 224.0,269.3 227.5,267.2 231.0,264.8 234.6,262.1 238.1,259.2 241.6,256.0 245.2,252.7 248.7,249.3 252.2,245.9 255.8,242.6 259.3,239.7 262.8,237.6 266.3,236.0 269.9,235.2 273.4,235.1 276.9,235.7 280.5,237.2 284.0,239.5 287.5,242.6 291.1,246.5 294.6,250.5 298.1,254.7 301.7,259.1 305.2,263.5 308.7,267.9 312.3,272.1 315.8,276.2 319.3,280.0 322.9,283.5 326.4,287.0 329.9,290.3 333.5,293.0 337.0,295.5 340.5,297.7 344.1,299.8 347.6,301.4 351.1,303.0 354.7,304.5 358.2,305.8 361.7,307.2 365.3,308.6 368.8,310.0 372.3,311.5 375.9,313.0 379.4,314.3 382.9,315.5 386.5,316.6 390.0,317.8 393.5,319.1 397.0,320.5 400.6,321.8 404.1,323.1 407.6,324.3 411.2,325.4 414.7,326.5 418.2,327.6 421.8,328.7 425.3,329.8 428.8,331.0 432.4,332.1 435.9,333.1 439.4,333.8 443.0,334.5 446.5,335.2 450.0,335.8 453.6,336.4 457.1,337.1 460.6,337.7 464.2,338.1"/>
<path d="M116.0,336.3 119.3,335.1 122.7,333.5 126.0,331.7 129.4,330.1 132.7,328.2 136.1,325.6 139.4,322.8 142.8,319.7 146.1,316.6 149.5,313.6 152.8,310.7 156.2,307.9 159.5,305.2 162.9,302.5 166.2,299.8 169.6,297.2 172.9,294.7 176.3,292.2 179.6,289.6 183.0,287.2 186.3,284.8 189.7,282.5 193.0,280.4 196.4,278.4 199.7,276.5 203.1,274.7 206.4,272.8 209.8,270.6 213.1,268.5 216.5,266.2 219.8,264.0 223.2,261.7 226.5,259.3 229.9,257.1 233.2,254.8 236.6,252.5 239.9,250.4 243.3,248.5 246.6,246.7 250.0,245.3 253.3,244.0 256.7,243.0 260.0,242.3 263.4,242.1 266.7,242.2 270.1,242.5 273.4,242.9 276.8,243.6 280.1,244.5 283.5,245.6 286.8,247.0 290.2,249.1 293.5,251.0 296.9,252.9 300.2,255.0 303.5,257.3 306.9,259.8 310.2,262.5 313.6,265.4 316.9,268.5 320.3,271.7 323.6,274.9 327.0,278.5 330.3,282.2 333.7,285.8 337.0,289.4 340.4,293.0 343.7,296.5 347.1,299.7 350.4,302.8 353.8,305.8 357.1,308.5 360.5,311.0 363.8,313.3 367.2,315.4 370.5,317.4 373.9,319.1 377.2,320.7 380.6,322.1 383.9,323.5 387.3,324.6 390.6,325.9 394.0,327.2 397.3,328.5 400.7,329.7 404.0,330.9 407.4,332.0 410.7,333.1 414.1,334.1 417.4,335.0 420.8,336.1 424.1,337.2 427.5,338.1 430.8,338.9 434.2,339.6 437.5,340.1 440.9,340.6 444.2,341.0 447.6,341.3"/>
<path d="M121.1,328.5 124.5,327.1 127.9,325.3 131.3,323.3 134.7,321.4 138.1,319.4 141.5,316.5 145.0,313.6 148.4,310.3 151.8,307.0 155.2,303.7 158.6,300.4 162.0,297.3 165.4,294.2 168.8,291.1 172.2,288.0 175.7,284.9 179.1,281.9 182.5,278.9 185.9,275.8 189.3,272.9 192.7,270.0 196.1,267.4 199.5,265.1 202.9,263.1 206.4,261.3 209.8,259.8 213.2,258.4 216.6,257.1 220.0,256.0 223.4,255.3 226.8,254.7 230.2,254.2 233.6,254.0 237.1,253.8 240.5,253.7 243.9,253.6 247.3,253.6 250.7,253.7 254.1,253.9 257.5,254.1 260.9,254.4 264.3,254.8 267.7,255.4 271.2,256.1 274.6,256.9 278.0,257.8 281.4,258.8 284.8,260.0 288.2,261.3 291.6,262.8 295.0,264.8 298.4,266.7 301.9,268.4 305.3,270.2 308.7,272.1 312.1,274.1 315.5,276.1 318.9,278.3 322.3,280.6 325.7,283.1 329.1,285.7 332.6,288.5 336.0,291.4 339.4,294.1 342.8,296.9 346.2,299.6 349.6,302.3 353.0,304.7 356.4,307.0 359.8,309.2 363.2,311.1 366.7,313.0 370.1,314.7 373.5,316.3 376.9,317.8 380.3,319.1 383.7,320.2 387.1,321.0 390.5,321.8 393.9,322.4 397.4,323.2 400.8,324.1 404.2,324.9 407.6,325.6 411.0,326.4 414.4,327.2 417.8,327.9 421.2,328.5 424.6,329.4 428.1,330.3 431.5,331.3 434.9,332.3 438.3,333.2 441.7,334.0 445.1,334.7 448.5,335.3 451.9,336.0 455.3,336.5 458.8,337.1"/>
<path d="M126.8,301.5 130.5,297.2 134.2,293.0 137.9,288.9 141.7,284.8 145.4,281.0 149.1,277.5 152.8,274.1 156.5,270.8 160.2,267.7 163.9,264.8 167.6,262.2 171.4,260.2 175.1,258.4 178.8,257.0 182.5,256.0 186.2,255.1 189.9,254.4 193.6,253.9 197.4,253.8 201.1,254.0 204.8,254.4 208.5,255.0 212.2,255.7 215.9,256.5 219.6,257.2 223.3,257.8 227.1,258.2 230.8,258.3 234.5,258.1 238.2,257.5 241.9,256.6 245.6,255.3 249.3,253.8 253.1,252.0 256.8,250.2 260.5,248.7 264.2,247.8 267.9,247.9 271.6,248.4 275.3,249.5 279.0,251.4 282.8,254.1 286.5,257.5 290.2,261.6 293.9,266.4 297.6,271.7 301.3,277.3 305.0,283.4 308.8,289.5 312.5,295.3 316.2,300.9 319.9,306.3 323.6,311.3 327.3,315.8 331.0,319.9 334.7,323.3 338.5,326.1 342.2,328.3 345.9,329.9 349.6,331.0 353.3,331.7 357.0,331.8 360.7,331.6 364.5,331.1 368.2,330.6 371.9,330.3 375.6,330.1 379.3,330.0 383.0,330.2 386.7,330.6 390.5,331.2 394.2,331.8 397.9,333.0 401.6,334.2 405.3,335.5 409.0,336.9 412.7,338.2 416.4,339.4 420.2,340.5 423.9,341.5 427.6,342.3 431.3,343.0 435.0,343.8 438.7,344.4 442.4,344.7 446.2,345.0 449.9,345.1 453.6,345.2 457.3,345.4 461.0,345.5 464.7,345.6 468.4,345.7 472.1,345.9 475.9,346.0 479.6,346.2 483.3,346.3 487.0,346.4 490.7,346.6 494.4,346.8"/>
<path d="M81.5,341.4 85.2,341.0 88.8,340.5 92.5,339.9 96.1,339.2 99.8,338.4 103.4,337.9 107.1,336.9 110.8,335.8 114.4,334.7 118.1,333.2 121.7,331.5 125.4,329.2 129.0,326.9 132.7,324.4 136.4,320.9 140.0,317.3 143.7,313.3 147.3,309.2 151.0,305.3 154.6,301.5 158.3,298.0 162.0,294.3 165.6,290.7 169.3,287.2 172.9,283.7 176.6,280.2 180.2,276.6 183.9,273.1 187.6,269.6 191.2,266.4 194.9,263.5 198.5,261.0 202.2,258.9 205.8,257.1 209.5,255.7 213.2,254.6 216.8,254.1 220.5,254.0 224.1,254.4 227.8,255.1 231.4,255.9 235.1,256.9 238.7,257.9 242.4,258.8 246.1,259.7 249.7,260.3 253.4,260.8 257.0,261.1 260.7,261.2 264.3,261.3 268.0,261.4 271.7,261.5 275.3,261.7 279.0,262.1 282.6,262.8 286.3,263.9 289.9,265.7 293.6,267.4 297.3,269.2 300.9,271.2 304.6,273.5 308.2,275.8 311.9,278.3 315.5,280.9 319.2,283.6 322.9,286.3 326.5,289.4 330.2,292.3 333.8,295.0 337.5,297.6 341.1,300.0 344.8,302.3 348.5,304.2 352.1,306.0 355.8,307.7 359.4,309.2 363.1,310.5 366.7,311.8 370.4,313.1 374.1,314.3 377.7,315.4 381.4,316.3 385.0,317.1 388.7,317.8 392.3,318.8 396.0,319.9 399.7,320.9 403.3,321.9 407.0,323.0 410.6,323.9 414.3,324.8 417.9,325.7 421.6,326.7 425.3,327.6 428.9,328.7 432.6,329.7 436.2,330.6 439.9,331.3 443.5,332.0"/>
<path d="M60.2,347.0 64.3,347.0 68.5,347.0 72.6,347.0 76.7,346.5 80.8,345.7 84.9,344.7 89.0,343.6 93.1,342.2 97.2,340.5 101.3,338.9 105.5,336.6 109.6,333.9 113.7,331.5 117.8,328.5 121.9,325.4 126.0,321.7 130.1,318.2 134.2,314.4 138.3,309.9 142.4,305.3 146.6,300.8 150.7,296.9 154.8,293.3 158.9,290.1 163.0,286.9 167.1,283.8 171.2,281.0 175.3,278.2 179.4,275.4 183.6,272.7 187.7,270.2 191.8,267.8 195.9,265.8 200.0,264.2 204.1,262.8 208.2,261.4 212.3,260.0 216.4,258.8 220.6,257.7 224.7,256.8 228.8,255.9 232.9,255.1 237.0,254.3 241.1,253.7 245.2,253.3 249.3,253.1 253.4,253.2 257.5,253.5 261.7,254.1 265.8,255.1 269.9,256.3 274.0,257.7 278.1,259.1 282.2,260.8 286.3,262.7 290.4,265.3 294.5,267.6 298.7,270.0 302.8,272.5 306.9,275.2 311.0,278.0 315.1,281.2 319.2,284.4 323.3,287.9 327.4,291.7 331.5,295.6 335.7,299.2 339.8,302.8 343.9,306.3 348.0,309.3 352.1,312.1 356.2,314.6 360.3,316.7 364.4,318.6 368.5,320.1 372.6,321.4 376.8,322.4 380.9,323.1 385.0,324.2 389.1,325.0 393.2,326.1 397.3,327.3 401.4,328.4 405.5,329.7 409.6,331.1 413.8,332.5 417.9,334.1 422.0,336.0 426.1,337.9 430.2,339.3 434.3,340.7 438.4,341.8 442.5,342.9 446.6,343.8 450.8,344.7 454.9,345.5 459.0,346.6 463.1,347.0 467.2,347.0"/>
<path d="M100.5,332.0 104.0,331.2 107.6,330.1 111.1,329.4 114.6,328.3 118.2,327.1 121.7,325.4 125.2,323.7 128.7,322.1 132.3,319.9 135.8,317.1 139.3,314.1 142.8,310.9 146.4,307.4 149.9,303.9 153.4,300.5 157.0,297.1 160.5,293.6 164.0,290.1 167.5,286.8 171.1,283.4 174.6,280.0 178.1,276.6 181.6,273.3 185.2,270.0 188.7,266.9 192.2,264.1 195.8,261.6 199.3,259.2 202.8,257.2 206.3,255.2 209.9,253.5 213.4,251.9 216.9,250.8 220.4,249.9 224.0,249.3 227.5,249.0 231.0,248.8 234.6,248.8 238.1,248.9 241.6,249.0 245.1,249.2 248.7,249.5 252.2,249.8 255.7,250.2 259.2,250.7 262.8,251.4 266.3,252.2 269.8,253.2 273.4,254.2 276.9,255.4 280.4,256.7 283.9,258.5 287.5,260.6 291.0,262.9 294.5,265.0 298.0,267.3 301.6,269.7 305.1,272.2 308.6,274.9 312.2,277.7 315.7,280.6 319.2,283.6 322.7,286.8 326.3,290.3 329.8,293.6 333.3,296.8 336.8,300.0 340.4,303.0 343.9,305.9 347.4,308.5 351.0,311.0 354.5,313.2 358.0,315.3 361.5,317.2 365.1,319.0 368.6,320.6 372.1,322.0 375.6,323.3 379.2,324.4 382.7,325.4 386.2,326.3 389.8,327.3 393.3,328.4 396.8,329.4 400.3,330.3 403.9,331.2 407.4,332.1 410.9,332.8 414.4,333.5 418.0,334.4 421.5,335.3 425.0,336.3 428.6,337.0 432.1,337.7 435.6,338.3 439.1,338.8 442.7,339.4 446.2,339.9 449.7,340.4"/>
<path d="M97.7,335.0 101.0,333.3 104.3,332.6 107.7,331.1 111.0,329.5 114.4,327.9 117.7,326.2 121.0,324.2 124.4,322.2 127.7,319.5 131.1,317.2 134.4,314.9 137.7,312.0 141.1,308.9 144.4,305.7 147.8,302.6 151.1,299.5 154.4,296.7 157.8,294.1 161.1,291.7 164.5,289.5 167.8,287.2 171.1,285.2 174.5,283.2 177.8,281.2 181.2,279.1 184.5,277.0 187.8,274.9 191.2,272.9 194.5,270.9 197.8,269.0 201.2,267.4 204.5,265.8 207.9,264.3 211.2,262.8 214.5,261.3 217.9,259.9 221.2,258.9 224.6,257.9 227.9,257.1 231.2,256.5 234.6,256.0 237.9,255.6 241.3,255.3 244.6,255.1 247.9,255.0 251.3,255.1 254.6,255.2 258.0,255.4 261.3,255.7 264.6,256.1 268.0,256.7 271.3,257.4 274.7,258.1 278.0,258.9 281.3,259.8 284.7,260.7 288.0,262.0 291.4,263.5 294.7,265.2 298.0,266.7 301.4,268.3 304.7,269.9 308.0,271.7 311.4,273.5 314.7,275.5 318.1,277.8 321.4,280.2 324.7,282.6 328.1,285.5 331.4,288.5 334.8,291.5 338.1,294.3 341.4,297.3 344.8,300.3 348.1,303.1 351.5,305.7 354.8,308.1 358.1,310.5 361.5,312.6 364.8,314.6 368.2,316.5 371.5,318.1 374.8,319.6 378.2,321.0 381.5,322.3 384.9,323.7 388.2,324.9 391.5,326.1 394.9,327.4 398.2,328.7 401.6,330.0 404.9,331.2 408.2,332.5 411.6,333.7 414.9,334.9 418.3,336.0 421.6,337.2 424.9,338.5 428.3,339.4"/>
<path d="M111.4,326.8 114.6,325.6 117.9,324.4 121.2,323.0 124.4,321.2 127.7,319.6 131.0,318.0 134.2,315.8 137.5,313.3 140.8,310.7 144.0,308.0 147.3,305.2 150.6,302.4 153.8,299.7 157.1,297.2 160.4,294.7 163.6,292.1 166.9,289.7 170.2,287.3 173.4,284.9 176.7,282.5 180.0,280.0 183.2,277.6 186.5,275.4 189.8,273.2 193.0,271.3 196.3,269.6 199.6,268.0 202.8,266.8 206.1,265.5 209.4,264.2 212.6,263.1 215.9,262.2 219.2,261.5 222.4,260.9 225.7,260.4 229.0,260.1 232.2,259.9 235.5,259.7 238.8,259.6 242.0,259.5 245.3,259.6 248.6,259.7 251.9,259.8 255.1,259.9 258.4,260.2 261.7,260.4 264.9,260.6 268.2,260.9 271.5,261.2 274.7,261.5 278.0,261.9 281.3,262.3 284.5,262.9 287.8,263.8 291.1,264.8 294.3,265.7 297.6,266.7 300.9,267.7 304.1,269.0 307.4,270.4 310.7,272.0 313.9,273.9 317.2,276.0 320.5,278.2 323.7,280.7 327.0,283.6 330.3,286.4 333.5,289.2 336.8,292.1 340.1,295.1 343.3,298.0 346.6,300.7 349.9,303.3 353.1,305.8 356.4,308.0 359.7,310.2 362.9,312.1 366.2,313.9 369.5,315.6 372.7,317.1 376.0,318.4 379.3,319.5 382.5,320.2 385.8,320.8 389.1,321.3 392.3,322.0 395.6,322.6 398.9,323.2 402.1,323.8 405.4,324.5 408.7,325.1 411.9,325.6 415.2,326.1 418.5,326.8 421.7,327.6 425.0,328.4 428.3,329.3 431.5,330.3 434.8,331.2"/>
<path d="M79.0,340.6 83.0,339.9 87.1,339.1 91.1,338.2 95.2,337.1 99.2,335.6 103.3,334.8 107.3,333.3 111.4,331.6 115.4,330.4 119.5,328.6 123.5,326.6 127.5,324.2 131.6,322.0 135.6,319.3 139.7,315.9 143.7,312.3 147.8,308.6 151.8,304.9 155.9,301.3 159.9,297.9 164.0,294.3 168.0,290.6 172.1,286.9 176.1,283.1 180.2,279.1 184.2,275.0 188.3,271.0 192.3,267.0 196.3,263.4 200.4,260.2 204.4,257.3 208.5,254.7 212.5,252.4 216.6,250.5 220.6,249.3 224.7,248.5 228.7,248.2 232.8,248.3 236.8,248.7 240.9,249.4 244.9,250.2 249.0,251.2 253.0,252.3 257.0,253.3 261.1,254.4 265.1,255.5 269.2,256.7 273.2,257.9 277.3,259.1 281.3,260.5 285.4,262.1 289.4,264.0 293.5,266.4 297.5,268.7 301.6,271.0 305.6,273.4 309.7,276.0 313.7,278.7 317.8,281.7 321.8,284.7 325.8,288.0 329.9,291.5 333.9,294.9 338.0,298.1 342.0,301.3 346.1,304.3 350.1,306.9 354.2,309.4 358.2,311.7 362.3,313.6 366.3,315.5 370.4,317.1 374.4,318.6 378.5,319.9 382.5,320.9 386.6,321.9 390.6,322.6 394.6,323.7 398.7,324.9 402.7,325.9 406.8,327.0 410.8,328.1 414.9,329.1 418.9,330.1 423.0,331.4 427.0,332.5 431.1,333.7 435.1,334.8 439.2,335.7 443.2,336.4 447.3,337.1 451.3,337.8 455.4,338.4 459.4,339.2 463.4,339.8 467.5,340.3 471.5,340.6 475.6,340.9 479.6,341.3"/>
<path d="M100.1,335.5 103.6,334.7 107.2,333.5 110.8,332.0 114.3,330.9 117.9,329.5 121.5,328.0 125.0,325.9 128.6,324.2 132.2,322.5 135.7,320.1 139.3,317.6 142.9,314.9 146.4,312.4 150.0,310.0 153.6,307.9 157.1,306.0 160.7,304.3 164.3,302.5 167.8,301.0 171.4,299.5 175.0,298.0 178.5,296.4 182.1,294.6 185.7,292.7 189.2,290.7 192.8,288.7 196.4,286.6 199.9,284.4 203.5,282.1 207.1,279.5 210.6,276.6 214.2,273.7 217.8,270.8 221.3,267.9 224.9,265.2 228.5,262.6 232.0,260.1 235.6,257.9 239.2,255.8 242.7,254.0 246.3,252.5 249.9,251.3 253.4,250.4 257.0,249.7 260.6,249.3 264.1,249.4 267.7,249.7 271.3,250.2 274.8,250.9 278.4,251.8 282.0,252.9 285.5,254.4 289.1,256.2 292.7,258.2 296.2,260.2 299.8,262.2 303.4,264.3 306.9,266.5 310.5,268.9 314.1,271.5 317.6,274.2 321.2,277.0 324.8,279.9 328.3,283.1 331.9,286.3 335.5,289.3 339.0,292.5 342.6,295.6 346.2,298.5 349.7,301.2 353.3,303.8 356.9,306.2 360.4,308.4 364.0,310.5 367.6,312.4 371.1,314.1 374.7,315.7 378.2,317.1 381.8,318.1 385.4,318.9 388.9,319.5 392.5,320.3 396.1,321.2 399.6,321.9 403.2,322.7 406.8,323.5 410.3,324.2 413.9,324.9 417.5,325.7 421.0,326.7 424.6,327.7 428.2,328.8 431.7,330.0 435.3,331.2 438.9,332.1 442.4,333.0 446.0,333.9 449.6,334.7 453.1,335.5"/>
<path d="M116.6,317.1 119.9,315.3 123.2,312.8 126.5,310.7 129.8,308.5 133.1,306.0 136.4,303.0 139.7,300.0 143.0,296.9 146.3,293.7 149.6,290.4 152.9,287.2 156.2,284.4 159.5,281.6 162.8,278.8 166.1,276.3 169.4,273.9 172.7,271.6 176.0,269.3 179.3,267.1 182.6,265.1 185.9,263.2 189.2,261.5 192.5,260.1 195.8,259.1 199.1,258.3 202.4,257.8 205.7,257.5 209.0,257.3 212.3,257.3 215.6,257.7 218.9,258.3 222.2,259.2 225.5,260.2 228.8,261.5 232.1,262.9 235.4,264.4 238.8,265.9 242.1,267.5 245.4,269.0 248.7,270.6 252.0,272.0 255.3,273.4 258.6,274.6 261.9,275.5 265.2,276.3 268.5,276.9 271.8,277.3 275.1,277.6 278.4,278.0 281.7,278.2 285.0,278.6 288.3,279.3 291.6,279.9 294.9,280.3 298.2,280.7 301.5,281.2 304.8,281.7 308.1,282.5 311.4,283.3 314.7,284.4 318.0,285.6 321.3,287.0 324.6,288.8 327.9,290.8 331.2,292.7 334.5,294.6 337.8,296.7 341.1,298.8 344.4,300.8 347.7,302.8 351.0,304.7 354.3,306.6 357.6,308.3 360.9,310.0 364.2,311.7 367.6,313.3 370.9,314.8 374.2,316.2 377.5,317.5 380.8,318.6 384.1,319.8 387.4,320.9 390.7,322.1 394.0,323.4 397.3,324.6 400.6,325.7 403.9,326.9 407.2,328.0 410.5,329.0 413.8,330.0 417.1,331.0 420.4,332.2 423.7,333.3 427.0,334.3 430.3,335.2 433.6,336.1 436.9,336.7 440.2,337.4 443.5,338.0"/>
<path d="M112.1,327.9 115.5,327.3 119.0,326.1 122.5,324.9 126.0,323.2 129.5,321.5 133.0,319.7 136.5,317.6 140.0,314.8 143.5,311.9 147.0,308.5 150.5,304.9 153.9,301.3 157.4,297.8 160.9,294.5 164.4,291.1 167.9,287.7 171.4,284.5 174.9,281.3 178.4,278.1 181.9,274.9 185.4,271.8 188.9,268.8 192.3,265.9 195.8,263.5 199.3,261.3 202.8,259.4 206.3,257.9 209.8,256.4 213.3,255.1 216.8,254.1 220.3,253.3 223.8,252.8 227.2,252.6 230.7,252.6 234.2,252.7 237.7,253.1 241.2,253.5 244.7,254.0 248.2,254.7 251.7,255.5 255.2,256.4 258.7,257.4 262.2,258.5 265.6,259.6 269.1,260.9 272.6,262.2 276.1,263.5 279.6,264.8 283.1,266.1 286.6,267.6 290.1,269.1 293.6,271.0 297.1,272.5 300.6,273.9 304.0,275.2 307.5,276.6 311.0,278.0 314.5,279.5 318.0,281.1 321.5,282.9 325.0,284.8 328.5,287.0 332.0,289.4 335.5,291.7 338.9,294.0 342.4,296.5 345.9,299.0 349.4,301.4 352.9,303.7 356.4,306.0 359.9,308.2 363.4,310.3 366.9,312.4 370.4,314.3 373.9,316.1 377.3,317.9 380.8,319.4 384.3,320.4 387.8,321.4 391.3,322.2 394.8,323.1 398.3,324.0 401.8,324.9 405.3,325.6 408.8,326.3 412.3,327.0 415.7,327.6 419.2,328.0 422.7,328.8 426.2,329.5 429.7,330.4 433.2,331.3 436.7,332.1 440.2,332.8 443.7,333.4 447.2,333.9 450.6,334.5 454.1,335.0 457.6,335.6"/>
<path d="M119.7,325.2 123.0,324.0 126.3,322.7 129.5,320.9 132.8,319.4 136.1,317.9 139.3,315.9 142.6,313.6 145.9,311.1 149.1,308.3 152.4,305.5 155.7,302.9 158.9,300.4 162.2,298.0 165.4,295.7 168.7,293.3 172.0,290.9 175.2,288.5 178.5,285.9 181.8,283.3 185.0,280.4 188.3,277.6 191.6,274.7 194.8,271.8 198.1,269.2 201.4,266.7 204.6,264.5 207.9,262.5 211.2,260.7 214.4,259.0 217.7,257.6 221.0,256.5 224.2,255.7 227.5,255.1 230.8,254.7 234.0,254.5 237.3,254.3 240.5,254.1 243.8,253.8 247.1,253.4 250.3,253.0 253.6,252.5 256.9,251.8 260.1,251.1 263.4,250.6 266.7,250.1 269.9,249.8 273.2,249.7 276.5,249.8 279.7,250.2 283.0,250.9 286.3,251.9 289.5,253.4 292.8,255.4 296.1,257.7 299.3,260.0 302.6,262.4 305.9,264.8 309.1,267.3 312.4,269.9 315.6,272.4 318.9,275.1 322.2,277.6 325.4,280.1 328.7,282.8 332.0,285.6 335.2,288.4 338.5,290.9 341.8,293.6 345.0,296.4 348.3,299.2 351.6,301.8 354.8,304.4 358.1,307.1 361.4,309.7 364.6,312.3 367.9,314.8 371.2,317.2 374.4,319.5 377.7,321.6 380.9,323.5 384.2,324.7 387.5,325.7 390.7,326.4 394.0,327.0 397.3,327.6 400.5,328.2 403.8,328.5 407.1,328.7 410.3,328.9 413.6,328.9 416.9,328.9 420.1,328.7 423.4,328.7 426.7,329.0 429.9,329.5 433.2,330.0 436.5,330.5 439.7,331.0 443.0,331.4"/>
<path d="M112.2,331.4 115.5,329.8 118.9,328.1 122.2,326.2 125.6,324.1 128.9,321.6 132.3,319.2 135.7,316.9 139.0,314.0 142.4,310.8 145.7,307.6 149.1,304.5 152.4,301.5 155.8,298.7 159.1,296.1 162.5,293.8 165.8,291.5 169.2,289.3 172.5,287.2 175.9,285.2 179.3,283.2 182.6,281.0 186.0,278.9 189.3,276.7 192.7,274.5 196.0,272.4 199.4,270.4 202.7,268.7 206.1,267.0 209.4,265.4 212.8,263.8 216.1,262.2 219.5,260.8 222.8,259.7 226.2,258.7 229.6,257.9 232.9,257.3 236.3,256.8 239.6,256.5 243.0,256.3 246.3,256.2 249.7,256.2 253.0,256.4 256.4,256.8 259.7,257.2 263.1,257.7 266.4,258.4 269.8,259.2 273.2,260.0 276.5,260.9 279.9,261.7 283.2,262.6 286.6,263.5 289.9,264.5 293.3,265.9 296.6,267.1 300.0,268.2 303.3,269.3 306.7,270.5 310.0,271.7 313.4,273.1 316.8,274.7 320.1,276.5 323.5,278.5 326.8,280.6 330.2,283.1 333.5,285.8 336.9,288.4 340.2,291.0 343.6,293.8 346.9,296.7 350.3,299.3 353.6,301.9 357.0,304.5 360.3,307.0 363.7,309.3 367.1,311.5 370.4,313.7 373.8,315.8 377.1,317.7 380.5,319.6 383.8,321.4 387.2,323.0 390.5,324.4 393.9,325.7 397.2,327.2 400.6,328.6 403.9,329.7 407.3,330.8 410.7,331.9 414.0,332.8 417.4,333.6 420.7,334.3 424.1,335.3 427.4,336.0 430.8,336.7 434.1,337.3 437.5,338.0 440.8,338.6 444.2,339.0"/>
<path d="M104.9,336.2 108.2,335.0 111.4,333.7 114.7,332.4 118.0,331.0 121.2,329.4 124.5,327.7 127.8,325.2 131.0,323.0 134.3,320.7 137.6,318.0 140.8,314.7 144.1,311.3 147.4,307.9 150.6,304.5 153.9,301.1 157.2,298.0 160.4,295.1 163.7,292.5 167.0,289.8 170.2,287.5 173.5,285.3 176.8,283.4 180.0,281.5 183.3,279.7 186.6,278.0 189.8,276.4 193.1,274.9 196.4,273.6 199.6,272.4 202.9,271.4 206.2,270.3 209.4,269.3 212.7,268.1 216.0,266.9 219.2,265.6 222.5,264.5 225.8,263.4 229.0,262.2 232.3,261.3 235.6,260.3 238.8,259.4 242.1,258.6 245.4,257.8 248.6,257.2 251.9,256.7 255.2,256.3 258.4,256.0 261.7,255.9 265.0,256.0 268.2,256.3 271.5,256.7 274.8,257.2 278.0,257.8 281.3,258.6 284.6,259.4 287.8,260.5 291.1,261.7 294.4,263.4 297.6,264.8 300.9,266.2 304.2,267.7 307.4,269.2 310.7,270.8 314.0,272.6 317.2,274.5 320.5,276.6 323.8,278.7 327.0,281.0 330.3,283.5 333.6,286.2 336.8,288.8 340.1,291.4 343.4,294.1 346.6,296.7 349.9,299.2 353.2,301.7 356.4,304.0 359.7,306.3 363.0,308.4 366.2,310.4 369.5,312.3 372.8,314.1 376.0,315.8 379.3,317.5 382.6,318.8 385.8,319.8 389.1,320.8 392.4,321.7 395.6,322.7 398.9,323.7 402.2,324.6 405.4,325.4 408.7,326.2 412.0,327.0 415.2,327.7 418.5,328.3 421.8,329.0 425.0,329.8 428.3,330.7"/>
<path d="M99.3,337.4 102.9,336.2 106.6,336.0 110.2,335.3 113.9,334.4 117.5,333.9 121.2,333.0 124.9,332.1 128.5,330.7 132.2,329.3 135.8,327.9 139.5,326.0 143.1,323.4 146.8,320.5 150.4,317.3 154.1,313.8 157.7,310.3 161.4,306.7 165.0,303.0 168.7,298.9 172.3,294.8 176.0,290.5 179.6,286.1 183.3,281.4 187.0,276.7 190.6,272.1 194.3,267.6 197.9,263.5 201.6,259.7 205.2,256.5 208.9,253.7 212.5,251.3 216.2,249.3 219.8,247.8 223.5,246.9 227.1,246.5 230.8,246.4 234.4,246.8 238.1,247.3 241.7,248.0 245.4,248.7 249.1,249.5 252.7,250.2 256.4,251.0 260.0,251.7 263.7,252.5 267.3,253.3 271.0,254.2 274.6,255.2 278.3,256.1 281.9,257.1 285.6,258.3 289.2,259.6 292.9,261.2 296.5,263.1 300.2,264.8 303.8,266.4 307.5,268.2 311.2,269.9 314.8,271.8 318.5,273.9 322.1,276.1 325.8,278.3 329.4,280.8 333.1,283.5 336.7,286.3 340.4,289.0 344.0,291.9 347.7,294.8 351.3,297.7 355.0,300.6 358.6,303.6 362.3,306.5 365.9,309.4 369.6,312.3 373.3,315.1 376.9,317.9 380.6,320.4 384.2,322.5 387.9,324.2 391.5,325.7 395.2,327.0 398.8,328.3 402.5,329.4 406.1,330.3 409.8,331.0 413.4,331.5 417.1,331.8 420.7,332.0 424.4,332.2 428.0,332.7 431.7,333.1 435.4,333.6 439.0,334.0 442.7,334.4 446.3,334.6 450.0,334.9 453.6,335.2 457.3,335.6 460.9,336.0"/>
<path d="M95.4,336.4 98.9,335.0 102.4,334.1 105.9,332.9 109.4,331.4 112.9,329.9 116.4,328.2 119.9,326.4 123.4,324.3 127.0,321.8 130.5,319.5 134.0,317.2 137.5,314.0 141.0,310.9 144.5,307.6 148.0,304.3 151.5,301.2 155.0,298.3 158.5,295.7 162.0,293.1 165.5,290.5 169.0,288.1 172.5,285.6 176.0,283.1 179.5,280.4 183.0,277.6 186.5,274.7 190.1,271.8 193.6,268.9 197.1,266.1 200.6,263.5 204.1,261.1 207.6,258.6 211.1,256.3 214.6,254.1 218.1,252.1 221.6,250.5 225.1,249.2 228.6,248.1 232.1,247.4 235.6,246.9 239.1,246.6 242.6,246.5 246.1,246.6 249.7,246.9 253.2,247.3 256.7,247.9 260.2,248.7 263.7,249.7 267.2,250.8 270.7,252.1 274.2,253.4 277.7,254.9 281.2,256.5 284.7,258.3 288.2,260.3 291.7,262.9 295.2,265.2 298.7,267.6 302.2,269.9 305.7,272.5 309.2,275.1 312.8,277.7 316.3,280.6 319.8,283.4 323.3,286.4 326.8,289.6 330.3,292.9 333.8,296.1 337.3,299.0 340.8,301.9 344.3,304.7 347.8,307.2 351.3,309.5 354.8,311.6 358.3,313.6 361.8,315.3 365.3,317.0 368.8,318.5 372.3,320.0 375.9,321.3 379.4,322.6 382.9,323.4 386.4,324.2 389.9,324.9 393.4,325.7 396.9,326.6 400.4,327.4 403.9,328.1 407.4,328.8 410.9,329.5 414.4,330.0 417.9,330.5 421.4,331.1 424.9,331.8 428.4,332.5 431.9,333.3 435.4,334.0 439.0,334.6 442.5,335.0"/>
<path d="M72.6,344.0 76.5,343.6 80.5,342.8 84.4,341.9 88.3,340.9 92.2,339.7 96.1,338.3 100.0,336.5 104.0,334.7 107.9,332.7 111.8,330.3 115.7,328.2 119.6,325.8 123.5,323.4 127.5,320.4 131.4,317.7 135.3,315.1 139.2,311.6 143.1,308.0 147.1,304.3 151.0,300.6 154.9,297.0 158.8,293.4 162.7,289.8 166.6,286.1 170.6,282.3 174.5,278.6 178.4,274.8 182.3,271.0 186.2,267.3 190.1,263.9 194.1,260.9 198.0,258.4 201.9,256.6 205.8,255.3 209.7,254.4 213.6,253.8 217.6,253.6 221.5,253.9 225.4,254.5 229.3,255.3 233.2,256.4 237.2,257.6 241.1,258.8 245.0,260.0 248.9,261.3 252.8,262.4 256.7,263.5 260.7,264.3 264.6,264.8 268.5,265.2 272.4,265.4 276.3,265.4 280.2,265.1 284.2,264.9 288.1,264.8 292.0,265.0 295.9,265.5 299.8,266.0 303.7,266.7 307.7,267.9 311.6,269.6 315.5,271.7 319.4,274.3 323.3,277.2 327.3,280.5 331.2,284.3 335.1,288.3 339.0,292.2 342.9,296.4 346.8,300.4 350.8,304.1 354.7,307.7 358.6,311.1 362.5,314.1 366.4,316.9 370.3,319.4 374.3,321.6 378.2,323.6 382.1,325.5 386.0,327.2 389.9,328.7 393.8,330.1 397.8,331.7 401.7,333.1 405.6,334.4 409.5,335.7 413.4,336.9 417.4,338.0 421.3,339.1 425.2,340.4 429.1,341.2 433.0,342.0 436.9,342.8 440.9,343.3 444.8,343.8 448.7,344.3 452.6,344.7 456.5,345.2 460.4,345.8"/>
<path d="M101.4,332.3 105.4,331.8 109.4,331.0 113.4,330.5 117.3,329.5 121.3,328.4 125.3,326.5 129.3,324.8 133.2,322.7 137.2,319.7 141.2,316.3 145.2,312.6 149.1,308.4 153.1,304.3 157.1,300.2 161.1,296.1 165.0,291.8 169.0,287.7 173.0,283.7 176.9,279.6 180.9,275.6 184.9,271.9 188.9,268.4 192.8,265.4 196.8,262.8 200.8,260.7 204.8,259.0 208.7,257.3 212.7,255.8 216.7,254.5 220.7,253.3 224.6,252.2 228.6,251.1 232.6,249.9 236.6,248.6 240.5,247.4 244.5,246.3 248.5,245.4 252.5,244.8 256.4,244.6 260.4,245.0 264.4,246.3 268.4,248.0 272.3,250.3 276.3,253.0 280.3,256.2 284.2,259.6 288.2,263.4 292.2,267.4 296.2,270.9 300.1,274.2 304.1,277.2 308.1,279.9 312.1,282.4 316.0,284.8 320.0,287.1 324.0,289.5 328.0,292.1 331.9,294.6 335.9,296.9 339.9,299.4 343.9,302.0 347.8,304.3 351.8,306.7 355.8,309.2 359.8,311.5 363.7,313.7 367.7,315.8 371.7,317.9 375.7,319.7 379.6,321.2 383.6,322.9 387.6,324.4 391.6,325.9 395.5,327.5 399.5,328.9 403.5,330.3 407.4,331.7 411.4,333.0 415.4,334.2 419.4,335.5 423.3,337.0 427.3,338.3 431.3,339.3 435.3,340.3 439.2,341.0 443.2,341.7 447.2,342.4 451.2,343.1 455.1,343.7 459.1,344.7 463.1,345.2 467.1,345.7 471.0,346.1 475.0,346.4 479.0,346.9 483.0,347.0 486.9,347.0 490.9,347.0 494.9,347.0"/>
<path d="M107.4,334.4 110.6,333.0 113.8,331.5 117.1,329.6 120.3,327.7 123.5,325.0 126.7,322.6 129.9,320.0 133.1,317.1 136.3,313.6 139.6,310.0 142.8,306.2 146.0,302.5 149.2,299.0 152.4,295.6 155.6,292.5 158.9,289.6 162.1,286.7 165.3,284.0 168.5,281.6 171.7,279.3 174.9,277.2 178.2,275.2 181.4,273.3 184.6,271.6 187.8,270.1 191.0,268.8 194.2,267.7 197.4,266.8 200.7,266.0 203.9,265.3 207.1,264.5 210.3,263.6 213.5,262.7 216.7,262.0 220.0,261.3 223.2,260.6 226.4,259.9 229.6,259.4 232.8,258.8 236.0,258.3 239.3,257.9 242.5,257.6 245.7,257.3 248.9,257.3 252.1,257.3 255.3,257.4 258.5,257.7 261.8,258.1 265.0,258.7 268.2,259.4 271.4,260.1 274.6,260.9 277.8,261.8 281.1,262.8 284.3,264.0 287.5,265.4 290.7,266.9 293.9,268.2 297.1,269.5 300.4,270.7 303.6,272.0 306.8,273.3 310.0,274.7 313.2,276.2 316.4,277.9 319.6,279.5 322.9,281.4 326.1,283.5 329.3,285.8 332.5,287.9 335.7,290.0 338.9,292.4 342.2,294.8 345.4,297.0 348.6,299.3 351.8,301.6 355.0,303.9 358.2,306.2 361.4,308.4 364.7,310.6 367.9,312.7 371.1,314.8 374.3,316.9 377.5,318.7 380.7,320.4 384.0,322.2 387.2,323.9 390.4,325.5 393.6,327.3 396.8,328.8 400.0,330.2 403.3,331.5 406.5,332.7 409.7,333.9 412.9,334.8 416.1,335.8 419.3,336.9 422.5,337.9 425.8,338.9"/>
<path d="M106.1,335.1 109.9,333.6 113.7,332.0 117.5,330.3 121.2,328.4 125.0,326.0 128.8,323.4 132.5,320.9 136.3,318.0 140.1,314.5 143.9,310.9 147.6,307.3 151.4,303.7 155.2,300.5 159.0,297.6 162.7,295.0 166.5,292.5 170.3,290.4 174.1,288.4 177.8,286.6 181.6,284.8 185.4,283.0 189.1,281.2 192.9,279.3 196.7,277.6 200.5,275.9 204.2,274.1 208.0,272.1 211.8,269.9 215.6,267.7 219.3,265.4 223.1,263.2 226.9,261.2 230.7,259.3 234.4,257.5 238.2,255.9 242.0,254.4 245.7,253.1 249.5,251.9 253.3,250.9 257.1,250.0 260.8,249.3 264.6,248.8 268.4,248.6 272.2,248.5 275.9,248.6 279.7,248.8 283.5,249.3 287.3,250.2 291.0,251.5 294.8,253.1 298.6,254.8 302.3,256.7 306.1,258.9 309.9,261.5 313.7,264.3 317.4,267.7 321.2,271.2 325.0,274.8 328.8,279.1 332.5,283.6 336.3,288.0 340.1,292.4 343.9,296.9 347.6,301.2 351.4,305.1 355.2,308.8 358.9,312.2 362.7,315.2 366.5,317.9 370.3,320.3 374.0,322.4 377.8,324.2 381.6,325.6 385.4,326.4 389.1,327.0 392.9,327.4 396.7,328.0 400.5,328.6 404.2,328.9 408.0,329.2 411.8,329.5 415.5,329.7 419.3,329.9 423.1,330.4 426.9,331.0 430.6,331.7 434.4,332.5 438.2,333.2 442.0,333.7 445.7,334.3 449.5,334.8 453.3,335.3 457.1,335.8 460.8,336.6 464.6,337.1 468.4,337.4 472.1,337.8 475.9,337.9 479.7,338.3"/>
<path d="M104.6,331.2 108.3,330.9 112.0,330.1 115.7,329.1 119.4,328.1 123.0,326.7 126.7,325.0 130.4,322.7 134.1,320.6 137.8,318.1 141.5,314.8 145.2,311.3 148.9,307.1 152.6,302.9 156.3,298.9 160.0,295.1 163.7,291.5 167.4,287.9 171.0,284.5 174.7,281.4 178.4,278.3 182.1,275.4 185.8,272.5 189.5,269.9 193.2,267.4 196.9,265.4 200.6,263.7 204.3,262.5 208.0,261.6 211.7,261.0 215.4,260.6 219.1,260.5 222.7,260.9 226.4,261.4 230.1,262.2 233.8,263.1 237.5,264.0 241.2,264.7 244.9,265.4 248.6,265.8 252.3,265.9 256.0,265.7 259.7,265.1 263.4,264.2 267.1,263.2 270.7,262.1 274.4,261.1 278.1,260.0 281.8,259.2 285.5,258.6 289.2,258.5 292.9,259.0 296.6,260.1 300.3,261.2 304.0,262.7 307.7,264.5 311.4,266.6 315.1,269.1 318.8,271.9 322.4,274.8 326.1,277.9 329.8,281.3 333.5,285.0 337.2,288.6 340.9,292.1 344.6,295.6 348.3,299.1 352.0,302.3 355.7,305.3 359.4,308.2 363.1,310.7 366.8,313.2 370.4,315.5 374.1,317.5 377.8,319.4 381.5,321.1 385.2,322.5 388.9,323.7 392.6,324.5 396.3,325.5 400.0,326.5 403.7,327.4 407.4,328.1 411.1,328.8 414.8,329.5 418.5,330.0 422.1,330.5 425.8,331.2 429.5,332.0 433.2,332.7 436.9,333.5 440.6,334.2 444.3,334.8 448.0,335.4 451.7,336.0 455.4,336.6 459.1,337.2 462.8,338.1 466.5,338.7 470.1,339.3"/>
<path d="M94.3,330.7 98.4,328.8 102.6,327.7 106.8,326.1 111.0,324.5 115.1,322.8 119.3,320.9 123.5,318.4 127.7,316.1 131.8,313.7 136.0,310.3 140.2,306.7 144.4,302.9 148.5,299.0 152.7,295.4 156.9,292.0 161.1,288.9 165.2,286.0 169.4,283.5 173.6,281.3 177.8,279.1 181.9,277.2 186.1,275.5 190.3,274.0 194.5,272.7 198.6,271.7 202.8,270.8 207.0,269.7 211.1,268.4 215.3,267.0 219.5,265.8 223.7,264.6 227.8,263.5 232.0,262.5 236.2,261.5 240.4,260.6 244.5,259.9 248.7,259.4 252.9,259.0 257.1,258.7 261.2,258.6 265.4,258.7 269.6,258.9 273.8,259.3 277.9,259.9 282.1,260.7 286.3,261.9 290.5,263.9 294.6,265.7 298.8,267.8 303.0,270.1 307.2,272.7 311.3,275.6 315.5,278.9 319.7,282.3 323.9,286.1 328.0,290.3 332.2,294.4 336.4,298.3 340.6,302.2 344.7,305.8 348.9,308.9 353.1,311.8 357.3,314.2 361.4,316.3 365.6,318.1 369.8,319.6 374.0,320.8 378.1,321.7 382.3,322.3 386.5,322.8 390.7,323.3 394.8,324.0 399.0,324.7 403.2,325.4 407.4,326.1 411.5,326.9 415.7,327.7 419.9,328.9 424.1,330.3 428.2,331.5 432.4,332.8 436.6,334.0 440.8,335.1 444.9,336.2 449.1,337.4 453.3,338.5 457.5,339.8 461.6,340.8 465.8,341.6 470.0,342.3 474.1,342.8 478.3,343.5 482.5,344.0 486.7,344.5 490.8,345.0 495.0,345.4 499.2,345.8 503.4,346.1 507.5,346.4"/>
<path d="M82.2,333.9 86.1,333.2 90.0,332.4 93.9,331.3 97.8,329.9 101.7,329.6 105.6,328.7 109.5,327.5 113.4,326.7 117.3,325.3 121.2,323.8 125.1,321.6 129.0,319.6 132.9,317.2 136.8,314.1 140.7,310.6 144.6,307.0 148.6,303.0 152.5,299.1 156.4,295.4 160.3,291.8 164.2,288.2 168.1,284.9 172.0,281.7 175.9,278.6 179.8,275.5 183.7,272.6 187.6,269.9 191.5,267.5 195.4,265.4 199.3,263.8 203.2,262.6 207.1,261.4 211.0,260.4 214.9,259.6 218.9,259.3 222.8,259.1 226.7,259.1 230.6,259.3 234.5,259.6 238.4,259.9 242.3,260.1 246.2,260.4 250.1,260.6 254.0,260.8 257.9,260.9 261.8,260.9 265.7,260.9 269.6,260.9 273.5,260.9 277.4,260.9 281.3,261.1 285.3,261.7 289.2,262.7 293.1,263.9 297.0,265.0 300.9,266.4 304.8,268.0 308.7,269.9 312.6,272.1 316.5,274.7 320.4,277.5 324.3,280.6 328.2,284.1 332.1,287.6 336.0,291.0 339.9,294.7 343.8,298.3 347.7,301.7 351.7,304.9 355.6,308.0 359.5,310.9 363.4,313.5 367.3,316.0 371.2,318.2 375.1,320.3 379.0,321.9 382.9,323.1 386.8,324.0 390.7,324.9 394.6,325.8 398.5,326.6 402.4,327.3 406.3,327.9 410.2,328.5 414.1,328.8 418.0,329.3 422.0,330.0 425.9,330.6 429.8,331.4 433.7,332.2 437.6,332.9 441.5,333.4 445.4,334.0 449.3,334.6 453.2,335.1 457.1,335.9 461.0,336.5 464.9,337.0 468.8,337.5"/>
<path d="M60.9,336.3 65.1,335.9 69.2,335.7 73.3,335.3 77.4,334.8 81.5,334.3 85.6,333.7 89.7,333.0 93.9,332.1 98.0,331.4 102.1,330.9 106.2,330.2 110.3,329.7 114.4,328.6 118.5,327.5 122.6,325.4 126.8,323.6 130.9,321.3 135.0,318.0 139.1,314.4 143.2,310.4 147.3,306.2 151.4,301.8 155.5,297.5 159.7,293.2 163.8,288.8 167.9,284.6 172.0,280.4 176.1,276.1 180.2,271.8 184.3,267.7 188.5,263.7 192.6,260.1 196.7,256.9 200.8,254.0 204.9,251.3 209.0,248.7 213.1,246.4 217.2,244.7 221.4,243.3 225.5,242.4 229.6,241.9 233.7,241.7 237.8,242.1 241.9,242.8 246.0,244.0 250.2,245.7 254.3,247.7 258.4,250.2 262.5,253.1 266.6,256.2 270.7,259.3 274.8,262.5 278.9,265.6 283.1,268.8 287.2,272.2 291.3,275.2 295.4,277.9 299.5,280.4 303.6,282.6 307.7,284.9 311.9,287.1 316.0,289.3 320.1,291.6 324.2,294.4 328.3,297.2 332.4,299.7 336.5,302.4 340.6,304.9 344.8,307.1 348.9,309.2 353.0,311.2 357.1,313.0 361.2,314.6 365.3,316.1 369.4,317.6 373.6,318.9 377.7,319.9 381.8,320.6 385.9,320.5 390.0,320.8 394.1,321.1 398.2,321.3 402.3,321.5 406.5,321.7 410.6,321.8 414.7,321.9 418.8,322.2 422.9,322.6 427.0,323.2 431.1,324.3 435.3,325.2 439.4,326.0 443.5,326.8 447.6,327.6 451.7,328.3 455.8,329.4 459.9,330.1 464.0,330.7 468.2,331.2"/>
<path d="M74.5,336.6 78.4,336.2 82.3,335.7 86.2,335.2 90.1,334.6 94.0,333.7 98.0,332.4 101.9,332.3 105.8,331.4 109.7,330.2 113.6,329.3 117.5,327.8 121.4,326.0 125.3,323.4 129.2,321.0 133.1,318.1 137.1,314.3 141.0,310.3 144.9,306.0 148.8,301.3 152.7,296.8 156.6,292.5 160.5,288.4 164.4,284.4 168.3,280.6 172.2,277.1 176.1,273.6 180.1,270.3 184.0,267.1 187.9,264.3 191.8,261.8 195.7,259.8 199.6,258.3 203.5,257.3 207.4,256.5 211.3,255.9 215.2,255.6 219.2,255.8 223.1,256.1 227.0,256.6 230.9,257.1 234.8,257.5 238.7,257.8 242.6,257.9 246.5,257.7 250.4,257.3 254.3,256.6 258.3,255.8 262.2,254.9 266.1,254.1 270.0,253.5 273.9,253.2 277.8,253.1 281.7,253.6 285.6,254.7 289.5,256.7 293.4,259.0 297.4,261.5 301.3,264.2 305.2,267.3 309.1,270.6 313.0,274.0 316.9,277.6 320.8,281.2 324.7,285.0 328.6,289.0 332.5,292.8 336.5,296.4 340.4,300.1 344.3,303.6 348.2,306.8 352.1,309.8 356.0,312.7 359.9,315.3 363.8,317.7 367.7,320.0 371.6,322.0 375.6,323.8 379.5,325.3 383.4,326.6 387.3,327.7 391.2,328.8 395.1,329.9 399.0,330.9 402.9,331.8 406.8,332.7 410.7,333.6 414.7,334.3 418.6,335.2 422.5,336.3 426.4,337.3 430.3,338.2 434.2,339.0 438.1,339.7 442.0,340.3 445.9,340.9 449.8,341.4 453.7,341.9 457.7,342.7 461.6,343.2"/>
<path d="M118.6,332.0 121.9,330.1 125.2,327.9 128.6,325.8 131.9,323.7 135.2,320.7 138.5,317.6 141.8,314.2 145.2,310.7 148.5,307.4 151.8,304.3 155.1,301.1 158.5,297.9 161.8,294.6 165.1,291.1 168.4,287.7 171.7,284.2 175.1,280.7 178.4,277.0 181.7,273.4 185.0,269.9 188.3,266.5 191.7,263.4 195.0,260.5 198.3,258.2 201.6,256.0 204.9,254.2 208.3,252.5 211.6,251.2 214.9,250.0 218.2,249.4 221.5,248.9 224.9,248.7 228.2,248.7 231.5,248.9 234.8,249.2 238.1,249.6 241.5,250.1 244.8,250.7 248.1,251.3 251.4,252.1 254.8,252.9 258.1,253.8 261.4,254.8 264.7,255.9 268.0,257.0 271.4,258.2 274.7,259.4 278.0,260.6 281.3,261.9 284.6,263.4 288.0,265.1 291.3,266.9 294.6,268.5 297.9,270.1 301.2,271.8 304.6,273.5 307.9,275.4 311.2,277.3 314.5,279.4 317.8,281.6 321.2,283.9 324.5,286.6 327.8,289.5 331.1,292.3 334.4,295.0 337.8,297.8 341.1,300.5 344.4,303.2 347.7,305.6 351.1,308.0 354.4,310.3 357.7,312.3 361.0,314.2 364.3,316.0 367.7,317.6 371.0,319.1 374.3,320.5 377.6,321.7 380.9,322.7 384.3,323.7 387.6,324.5 390.9,325.5 394.2,326.5 397.5,327.5 400.9,328.4 404.2,329.3 407.5,330.2 410.8,331.1 414.1,331.8 417.5,332.7 420.8,333.7 424.1,334.7 427.4,335.6 430.7,336.4 434.1,337.2 437.4,337.9 440.7,338.4 444.0,339.0 447.4,339.5"/>
<path d="M93.9,334.7 97.5,333.5 101.1,333.0 104.8,332.2 108.4,331.1 112.1,330.2 115.7,329.0 119.3,327.6 123.0,325.8 126.6,323.9 130.2,322.0 133.9,319.6 137.5,316.6 141.2,313.4 144.8,309.9 148.4,306.3 152.1,302.8 155.7,299.3 159.4,296.0 163.0,292.7 166.6,289.4 170.3,286.2 173.9,283.1 177.6,280.1 181.2,277.0 184.8,274.1 188.5,271.4 192.1,269.0 195.8,266.8 199.4,265.1 203.0,263.6 206.7,262.2 210.3,260.9 214.0,259.7 217.6,258.6 221.2,257.6 224.9,256.7 228.5,255.7 232.2,254.7 235.8,253.6 239.4,252.4 243.1,251.2 246.7,250.0 250.4,249.0 254.0,248.1 257.6,247.5 261.3,247.3 264.9,247.6 268.6,248.3 272.2,249.5 275.8,250.9 279.5,252.7 283.1,254.9 286.8,257.4 290.4,260.5 294.0,263.3 297.7,266.0 301.3,268.7 305.0,271.3 308.6,274.0 312.2,276.5 315.9,279.3 319.5,281.9 323.2,284.7 326.8,287.8 330.4,290.9 334.1,293.8 337.7,296.7 341.3,299.7 345.0,302.6 348.6,305.2 352.3,307.8 355.9,310.3 359.5,312.5 363.2,314.6 366.8,316.7 370.5,318.5 374.1,320.2 377.7,321.7 381.4,322.9 385.0,324.1 388.7,325.0 392.3,326.1 395.9,327.2 399.6,328.1 403.2,329.0 406.9,329.9 410.5,330.7 414.1,331.4 417.8,332.1 421.4,333.1 425.1,334.0 428.7,334.9 432.3,335.7 436.0,336.5 439.6,337.1 443.3,337.7 446.9,338.3 450.5,338.8 454.2,339.4"/>
<path d="M105.3,334.7 108.6,333.4 112.0,332.0 115.3,330.7 118.6,329.1 122.0,327.2 125.3,325.2 128.6,322.4 131.9,319.9 135.3,317.2 138.6,313.8 141.9,310.1 145.3,306.2 148.6,302.3 151.9,298.4 155.3,294.7 158.6,291.3 161.9,288.2 165.3,285.4 168.6,282.7 171.9,280.4 175.3,278.3 178.6,276.4 181.9,274.7 185.2,273.1 188.6,271.6 191.9,270.4 195.2,269.3 198.6,268.3 201.9,267.7 205.2,267.0 208.6,266.4 211.9,265.8 215.2,265.0 218.6,264.2 221.9,263.6 225.2,262.9 228.5,262.1 231.9,261.3 235.2,260.5 238.5,259.5 241.9,258.5 245.2,257.4 248.5,256.2 251.9,255.0 255.2,253.9 258.5,252.7 261.9,251.6 265.2,250.8 268.5,250.2 271.9,249.9 275.2,249.8 278.5,249.9 281.8,250.4 285.2,251.2 288.5,252.6 291.8,254.4 295.2,256.6 298.5,258.8 301.8,261.2 305.2,263.7 308.5,266.5 311.8,269.3 315.2,272.2 318.5,275.4 321.8,278.6 325.1,281.8 328.5,285.2 331.8,288.8 335.1,292.2 338.5,295.5 341.8,298.8 345.1,301.9 348.5,304.9 351.8,307.6 355.1,310.1 358.5,312.4 361.8,314.4 365.1,316.2 368.5,317.9 371.8,319.4 375.1,320.8 378.4,322.0 381.8,323.2 385.1,324.4 388.4,325.5 391.8,326.4 395.1,327.6 398.4,328.9 401.8,330.1 405.1,331.3 408.4,332.5 411.8,333.7 415.1,334.8 418.4,335.9 421.8,336.9 425.1,338.1 428.4,339.0 431.7,339.8 435.1,340.6"/>
<path d="M116.3,331.9 119.4,329.8 122.5,327.5 125.7,325.0 128.8,322.1 131.9,319.3 135.1,316.6 138.2,313.4 141.3,309.8 144.5,306.1 147.6,302.7 150.7,299.2 153.9,295.8 157.0,292.5 160.1,289.3 163.3,286.1 166.4,282.9 169.5,279.7 172.7,276.6 175.8,273.5 178.9,270.5 182.1,267.4 185.2,264.3 188.3,261.4 191.5,258.7 194.6,256.2 197.7,254.1 200.9,252.4 204.0,250.9 207.1,249.9 210.3,249.1 213.4,248.4 216.5,248.1 219.7,248.0 222.8,248.3 225.9,248.8 229.1,249.5 232.2,250.4 235.3,251.5 238.5,252.7 241.6,254.0 244.7,255.3 247.9,256.6 251.0,257.9 254.1,259.2 257.3,260.3 260.4,261.3 263.5,262.1 266.7,262.7 269.8,263.2 272.9,263.5 276.1,263.6 279.2,263.6 282.3,263.4 285.5,263.3 288.6,263.3 291.7,263.5 294.9,264.2 298.0,264.7 301.1,265.4 304.3,266.3 307.4,267.6 310.5,269.2 313.7,271.2 316.8,273.5 319.9,276.1 323.1,279.0 326.2,282.1 329.3,285.6 332.5,289.3 335.6,293.0 338.7,296.5 341.9,300.1 345.0,303.5 348.1,306.8 351.3,309.7 354.4,312.4 357.5,314.9 360.7,317.1 363.8,319.0 366.9,320.7 370.1,322.3 373.2,323.6 376.3,324.8 379.5,326.0 382.6,327.0 385.7,327.9 388.9,328.8 392.0,329.5 395.1,330.3 398.3,331.2 401.4,332.2 404.5,333.0 407.7,333.8 410.8,334.6 413.9,335.4 417.1,336.1 420.2,336.7 423.3,337.5 426.5,338.3"/>
<path d="M70.2,335.2 74.0,334.9 77.8,334.4 81.6,333.9 85.3,333.3 89.1,332.6 92.9,331.8 96.7,330.9 100.4,329.8 104.2,329.7 108.0,329.0 111.8,328.2 115.5,327.5 119.3,326.4 123.1,325.1 126.9,323.3 130.6,321.6 134.4,319.6 138.2,316.8 141.9,313.7 145.7,310.4 149.5,306.5 153.3,302.7 157.0,299.1 160.8,295.6 164.6,292.0 168.4,288.6 172.1,285.3 175.9,282.1 179.7,278.8 183.5,275.6 187.2,272.6 191.0,269.7 194.8,267.2 198.6,265.0 202.3,263.0 206.1,261.4 209.9,259.8 213.7,258.4 217.4,257.2 221.2,256.4 225.0,255.8 228.8,255.4 232.5,255.3 236.3,255.2 240.1,255.3 243.9,255.4 247.6,255.6 251.4,255.8 255.2,255.9 258.9,256.1 262.7,256.1 266.5,256.3 270.3,256.4 274.0,256.6 277.8,256.7 281.6,257.0 285.4,257.6 289.1,258.5 292.9,259.9 296.7,261.3 300.5,262.9 304.2,264.8 308.0,267.0 311.8,269.5 315.6,272.5 319.3,275.7 323.1,279.0 326.9,282.8 330.7,286.8 334.4,290.6 338.2,294.4 342.0,298.2 345.8,301.8 349.5,305.0 353.3,308.0 357.1,310.8 360.8,313.4 364.6,315.7 368.4,317.8 372.2,319.8 375.9,321.5 379.7,323.1 383.5,324.4 387.3,325.6 391.0,326.7 394.8,327.9 398.6,329.1 402.4,330.0 406.1,331.0 409.9,331.8 413.7,332.4 417.5,333.0 421.2,333.7 425.0,334.5 428.8,335.1 432.6,335.7 436.3,336.3 440.1,336.8 443.9,337.2"/>
<path d="M98.1,331.2 101.5,330.5 104.9,330.0 108.2,329.8 111.6,329.2 115.0,328.3 118.4,327.8 121.8,326.8 125.2,325.8 128.5,324.2 131.9,322.6 135.3,321.0 138.7,318.9 142.1,316.3 145.5,313.4 148.9,309.8 152.2,306.2 155.6,302.5 159.0,298.9 162.4,295.4 165.8,292.0 169.2,288.4 172.5,285.1 175.9,281.8 179.3,278.7 182.7,275.6 186.1,272.6 189.5,269.8 192.8,267.3 196.2,265.0 199.6,263.1 203.0,261.6 206.4,260.4 209.8,259.3 213.2,258.4 216.5,257.5 219.9,256.8 223.3,256.3 226.7,255.9 230.1,255.6 233.5,255.4 236.8,255.2 240.2,255.0 243.6,254.9 247.0,254.8 250.4,254.8 253.8,254.9 257.1,255.0 260.5,255.3 263.9,255.7 267.3,256.3 270.7,257.0 274.1,258.0 277.5,258.9 280.8,260.0 284.2,261.2 287.6,262.5 291.0,264.0 294.4,266.0 297.8,267.8 301.1,269.5 304.5,271.1 307.9,272.8 311.3,274.5 314.7,276.4 318.1,278.3 321.4,280.3 324.8,282.5 328.2,284.7 331.6,287.3 335.0,289.9 338.4,292.4 341.7,295.0 345.1,297.6 348.5,300.2 351.9,302.6 355.3,305.0 358.7,307.4 362.1,309.5 365.4,311.6 368.8,313.6 372.2,315.5 375.6,317.2 379.0,318.8 382.4,320.1 385.7,321.1 389.1,321.9 392.5,322.5 395.9,323.1 399.3,323.9 402.7,324.5 406.0,325.0 409.4,325.6 412.8,326.1 416.2,326.5 419.6,326.8 423.0,327.2 426.4,327.9 429.7,328.7 433.1,329.5"/>
<path d="M84.1,332.0 87.7,331.4 91.2,330.8 94.7,329.9 98.2,328.9 101.8,328.0 105.3,327.6 108.8,326.7 112.4,325.5 115.9,324.6 119.4,323.2 122.9,321.7 126.5,319.6 130.0,317.8 133.5,315.9 137.0,313.5 140.6,310.9 144.1,308.2 147.6,305.2 151.1,302.3 154.7,299.6 158.2,297.3 161.7,295.2 165.2,293.3 168.8,291.5 172.3,289.9 175.8,288.5 179.4,287.0 182.9,285.5 186.4,283.9 189.9,282.4 193.5,280.9 197.0,279.4 200.5,278.1 204.0,276.6 207.6,275.1 211.1,273.4 214.6,271.6 218.1,269.7 221.7,268.0 225.2,266.3 228.7,264.6 232.2,263.1 235.8,261.7 239.3,260.4 242.8,259.3 246.4,258.3 249.9,257.6 253.4,257.0 256.9,256.6 260.5,256.4 264.0,256.3 267.5,256.4 271.0,256.7 274.6,257.0 278.1,257.3 281.6,257.7 285.1,258.3 288.7,259.0 292.2,260.2 295.7,261.2 299.2,262.3 302.8,263.4 306.3,264.9 309.8,266.5 313.3,268.4 316.9,270.8 320.4,273.4 323.9,276.0 327.5,279.2 331.0,282.8 334.5,286.3 338.0,289.9 341.6,293.6 345.1,297.2 348.6,300.7 352.1,303.9 355.7,307.0 359.2,309.8 362.7,312.3 366.2,314.6 369.8,316.6 373.3,318.4 376.8,319.9 380.3,321.1 383.9,321.8 387.4,322.4 390.9,322.8 394.5,323.4 398.0,323.9 401.5,324.4 405.0,324.8 408.6,325.3 412.1,325.8 415.6,326.2 419.1,326.8 422.7,327.6 426.2,328.5 429.7,329.5 433.2,330.6"/>
<path d="M109.6,327.6 113.1,325.7 116.6,324.3 120.2,322.7 123.7,321.2 127.2,319.5 130.8,317.8 134.3,316.4 137.9,315.0 141.4,313.0 144.9,311.0 148.5,309.2 152.0,307.4 155.6,305.7 159.1,304.1 162.6,302.5 166.2,300.8 169.7,298.7 173.3,296.6 176.8,294.2 180.3,291.4 183.9,288.1 187.4,284.5 191.0,280.7 194.5,276.6 198.0,272.6 201.6,268.6 205.1,264.7 208.7,261.1 212.2,257.7 215.7,254.6 219.3,251.9 222.8,250.0 226.3,248.6 229.9,247.8 233.4,247.6 237.0,247.9 240.5,248.4 244.0,249.3 247.6,250.3 251.1,251.3 254.7,252.3 258.2,253.2 261.7,253.9 265.3,254.5 268.8,255.0 272.4,255.4 275.9,255.7 279.4,256.0 283.0,256.4 286.5,257.1 290.1,258.1 293.6,259.7 297.1,261.4 300.7,263.3 304.2,265.4 307.8,267.8 311.3,270.5 314.8,273.3 318.4,276.4 321.9,279.7 325.5,283.0 329.0,286.6 332.5,290.3 336.1,293.9 339.6,297.1 343.1,300.4 346.7,303.5 350.2,306.2 353.8,308.7 357.3,311.0 360.8,313.0 364.4,314.9 367.9,316.6 371.5,318.1 375.0,319.7 378.5,321.1 382.1,322.3 385.6,323.3 389.2,324.3 392.7,325.1 396.2,326.1 399.8,327.2 403.3,328.2 406.9,329.0 410.4,329.9 413.9,330.7 417.5,331.3 421.0,331.8 424.6,332.5 428.1,333.2 431.6,333.9 435.2,334.6 438.7,335.2 442.2,335.7 445.8,336.1 449.3,336.4 452.9,336.8 456.4,337.2 459.9,337.7"/>
<path d="M82.0,339.1 85.9,338.4 89.9,337.7 93.8,336.7 97.7,335.3 101.6,334.8 105.6,333.6 109.5,332.0 113.4,330.8 117.3,329.1 121.3,327.2 125.2,324.6 129.1,322.2 133.1,319.6 137.0,316.2 140.9,312.5 144.8,308.7 148.8,304.9 152.7,301.3 156.6,297.9 160.5,294.6 164.5,291.3 168.4,288.1 172.3,285.0 176.2,281.8 180.2,278.6 184.1,275.3 188.0,272.1 192.0,269.2 195.9,266.5 199.8,264.1 203.7,262.1 207.7,260.2 211.6,258.5 215.5,257.1 219.4,256.1 223.4,255.4 227.3,255.0 231.2,254.8 235.1,254.8 239.1,254.8 243.0,254.9 246.9,255.0 250.9,255.3 254.8,255.6 258.7,255.9 262.6,256.4 266.6,257.0 270.5,257.7 274.4,258.5 278.3,259.4 282.3,260.5 286.2,261.9 290.1,263.8 294.0,265.5 298.0,267.3 301.9,269.0 305.8,270.9 309.8,273.0 313.7,275.4 317.6,277.9 321.5,280.5 325.5,283.5 329.4,286.9 333.3,290.1 337.2,293.4 341.2,296.8 345.1,300.1 349.0,303.2 352.9,306.2 356.9,309.1 360.8,311.7 364.7,314.2 368.7,316.4 372.6,318.5 376.5,320.3 380.4,321.8 384.4,323.3 388.3,324.5 392.2,325.8 396.1,327.2 400.1,328.4 404.0,329.6 407.9,330.7 411.8,331.8 415.8,332.8 419.7,334.0 423.6,335.2 427.6,336.3 431.5,337.3 435.4,338.2 439.3,338.9 443.3,339.6 447.2,340.2 451.1,340.9 455.0,341.5 459.0,342.4 462.9,342.9 466.8,343.4 470.7,343.7"/>
<path d="M56.3,343.6 60.2,343.1 64.2,342.7 68.2,342.3 72.2,341.9 76.1,341.4 80.1,340.9 84.1,340.3 88.1,339.8 92.0,339.1 96.0,338.3 100.0,337.6 104.0,336.8 107.9,335.6 111.9,334.5 115.9,333.0 119.9,331.3 123.9,328.7 127.8,326.2 131.8,323.5 135.8,319.8 139.8,315.8 143.7,311.6 147.7,307.4 151.7,303.6 155.7,300.1 159.6,296.9 163.6,293.8 167.6,291.1 171.6,288.6 175.5,286.1 179.5,283.5 183.5,280.9 187.5,278.3 191.4,275.7 195.4,273.1 199.4,270.6 203.4,268.2 207.3,265.7 211.3,263.2 215.3,260.9 219.3,259.1 223.2,257.5 227.2,256.1 231.2,255.0 235.2,254.1 239.2,253.2 243.1,252.3 247.1,251.5 251.1,250.6 255.1,249.7 259.0,248.8 263.0,248.1 267.0,247.6 271.0,247.4 274.9,247.3 278.9,247.6 282.9,248.4 286.9,249.8 290.8,252.1 294.8,254.3 298.8,256.9 302.8,259.9 306.7,263.3 310.7,267.0 314.7,271.2 318.7,275.5 322.6,279.9 326.6,284.8 330.6,289.8 334.6,294.4 338.5,299.0 342.5,303.4 346.5,307.2 350.5,310.6 354.5,313.6 358.4,316.0 362.4,318.1 366.4,319.7 370.4,321.2 374.3,322.3 378.3,323.2 382.3,323.5 386.3,323.6 390.2,323.7 394.2,324.1 398.2,324.5 402.2,324.9 406.1,325.4 410.1,325.9 414.1,326.3 418.1,326.8 422.0,327.5 426.0,328.2 430.0,329.3 434.0,330.4 437.9,331.2 441.9,331.9 445.9,332.6 449.9,333.2"/>
<path d="M124.8,331.8 128.2,330.1 131.5,328.3 134.9,325.9 138.3,323.1 141.7,320.0 145.1,316.7 148.5,313.4 151.9,310.1 155.3,306.9 158.6,303.7 162.0,300.5 165.4,297.1 168.8,293.8 172.2,290.4 175.6,286.9 179.0,283.3 182.4,279.5 185.7,275.7 189.1,271.9 192.5,268.1 195.9,264.4 199.3,260.9 202.7,257.5 206.1,254.2 209.5,251.0 212.8,248.0 216.2,245.3 219.6,243.1 223.0,241.4 226.4,240.1 229.8,239.5 233.2,239.3 236.6,239.6 239.9,240.3 243.3,241.4 246.7,242.8 250.1,244.3 253.5,245.9 256.9,247.4 260.3,248.8 263.6,250.2 267.0,251.2 270.4,252.0 273.8,252.6 277.2,252.9 280.6,253.2 284.0,253.6 287.4,254.2 290.7,255.4 294.1,256.5 297.5,257.9 300.9,259.6 304.3,261.7 307.7,264.1 311.1,267.0 314.5,270.2 317.8,273.7 321.2,277.3 324.6,281.1 328.0,285.3 331.4,289.4 334.8,293.3 338.2,297.3 341.6,301.1 344.9,304.6 348.3,307.8 351.7,310.8 355.1,313.5 358.5,315.9 361.9,318.0 365.3,320.0 368.7,321.8 372.0,323.4 375.4,324.8 378.8,325.9 382.2,326.6 385.6,327.0 389.0,327.3 392.4,327.7 395.7,328.1 399.1,328.4 402.5,328.7 405.9,328.9 409.3,329.1 412.7,329.2 416.1,329.2 419.5,329.4 422.8,329.7 426.2,329.9 429.6,330.5 433.0,331.1 436.4,331.7 439.8,332.0 443.2,332.4 446.6,332.7 449.9,333.1 453.3,333.5 456.7,334.1 460.1,334.6"/>
<path d="M95.9,339.1 99.4,338.9 102.8,338.4 106.2,337.6 109.6,336.6 113.0,335.7 116.4,334.4 119.8,332.9 123.2,330.6 126.7,328.5 130.1,326.3 133.5,323.3 136.9,320.0 140.3,316.3 143.7,312.5 147.1,308.7 150.5,304.9 154.0,301.2 157.4,297.6 160.8,293.8 164.2,289.9 167.6,286.1 171.0,282.3 174.4,278.3 177.8,274.1 181.3,270.1 184.7,266.0 188.1,262.2 191.5,258.7 194.9,255.6 198.3,252.9 201.7,250.7 205.1,248.8 208.6,247.2 212.0,246.1 215.4,245.5 218.8,245.3 222.2,245.5 225.6,245.9 229.0,246.7 232.4,247.7 235.9,248.7 239.3,249.8 242.7,251.0 246.1,252.1 249.5,253.2 252.9,254.2 256.3,255.2 259.7,256.1 263.1,256.9 266.6,257.7 270.0,258.3 273.4,258.8 276.8,259.2 280.2,259.6 283.6,260.2 287.0,261.0 290.4,261.9 293.9,262.7 297.3,263.6 300.7,264.6 304.1,265.9 307.5,267.6 310.9,269.5 314.3,271.9 317.7,274.5 321.2,277.4 324.6,280.8 328.0,284.4 331.4,288.0 334.8,291.7 338.2,295.4 341.6,299.2 345.0,302.6 348.5,305.9 351.9,309.0 355.3,311.8 358.7,314.4 362.1,316.8 365.5,318.9 368.9,320.9 372.3,322.6 375.8,324.2 379.2,325.4 382.6,326.2 386.0,326.6 389.4,327.1 392.8,327.7 396.2,328.2 399.6,328.5 403.0,328.9 406.5,329.2 409.9,329.5 413.3,329.6 416.7,329.8 420.1,330.1 423.5,330.3 426.9,330.7 430.3,331.4 433.8,332.0"/>
<path d="M80.2,334.0 83.7,333.6 87.2,333.0 90.7,332.4 94.2,331.6 97.7,330.5 101.2,329.8 104.7,329.3 108.2,328.4 111.7,327.2 115.2,326.2 118.7,324.6 122.2,322.9 125.7,320.5 129.2,318.2 132.7,315.9 136.2,312.8 139.7,309.5 143.2,305.9 146.7,302.0 150.2,297.9 153.7,293.9 157.3,290.0 160.8,286.1 164.3,282.2 167.8,278.3 171.3,274.4 174.8,270.5 178.3,266.6 181.8,262.6 185.3,258.8 188.8,255.2 192.3,251.9 195.8,249.0 199.3,246.7 202.8,244.8 206.3,243.4 209.8,242.2 213.3,241.5 216.8,241.1 220.3,241.3 223.8,241.8 227.3,242.6 230.8,243.7 234.3,244.9 237.8,246.2 241.3,247.6 244.8,249.1 248.3,250.6 251.8,252.2 255.3,253.7 258.8,255.3 262.3,256.9 265.8,258.5 269.3,260.2 272.8,261.8 276.3,263.3 279.8,264.8 283.3,266.4 286.8,268.1 290.3,270.2 293.8,272.1 297.3,273.9 300.8,275.7 304.3,277.6 307.8,279.5 311.3,281.5 314.8,283.6 318.3,285.9 321.8,288.3 325.3,291.0 328.8,294.0 332.3,297.0 335.8,299.8 339.3,302.9 342.8,305.9 346.3,308.9 349.8,311.8 353.3,314.6 356.8,317.3 360.3,319.9 363.8,322.2 367.3,324.5 370.8,326.4 374.3,328.2 377.8,329.6 381.3,330.6 384.8,331.4 388.3,331.8 391.8,332.0 395.3,332.3 398.8,332.5 402.3,332.4 405.8,332.2 409.3,332.1 412.8,331.8 416.3,331.6 419.8,331.5 423.3,331.7 426.8,332.0"/>
<path d="M71.4,339.7 75.1,339.3 78.9,338.9 82.6,338.5 86.4,338.0 90.1,337.4 93.9,336.6 97.6,335.6 101.3,335.1 105.1,334.2 108.8,333.1 112.6,332.0 116.3,330.7 120.1,329.1 123.8,327.1 127.6,325.3 131.3,323.4 135.1,320.7 138.8,318.1 142.6,315.3 146.3,312.4 150.1,309.7 153.8,307.1 157.6,304.5 161.3,301.6 165.1,298.7 168.8,295.6 172.6,292.2 176.3,288.6 180.1,284.8 183.8,280.9 187.6,277.0 191.3,273.3 195.1,269.8 198.8,266.5 202.6,263.5 206.3,260.4 210.1,257.5 213.8,254.8 217.6,252.4 221.3,250.2 225.0,248.2 228.8,246.5 232.5,244.9 236.3,243.6 240.0,242.4 243.8,241.6 247.5,241.0 251.3,240.6 255.0,240.6 258.8,240.8 262.5,241.7 266.3,242.9 270.0,244.3 273.8,245.8 277.5,247.6 281.3,249.7 285.0,251.9 288.8,254.8 292.5,257.3 296.3,259.9 300.0,262.6 303.8,265.4 307.5,268.4 311.3,271.5 315.0,274.8 318.8,278.2 322.5,281.8 326.3,285.6 330.0,289.2 333.8,292.7 337.5,296.2 341.3,299.5 345.0,302.5 348.8,305.3 352.5,308.1 356.2,310.5 360.0,313.0 363.7,315.4 367.5,317.6 371.2,319.8 375.0,322.0 378.7,323.8 382.5,325.5 386.2,327.0 390.0,328.6 393.7,330.2 397.5,331.5 401.2,332.8 405.0,333.8 408.7,334.7 412.5,335.4 416.2,336.2 420.0,337.0 423.7,337.8 427.5,338.5 431.2,339.1 435.0,339.6 438.7,339.9 442.5,340.2"/>
<path d="M82.0,335.4 85.9,334.7 89.8,333.9 93.7,333.1 97.7,332.0 101.6,330.6 105.5,330.3 109.5,329.3 113.4,328.0 117.3,327.0 121.2,325.5 125.2,323.8 129.1,321.6 133.0,319.7 137.0,317.3 140.9,314.2 144.8,310.9 148.8,307.3 152.7,303.6 156.6,300.1 160.5,296.8 164.5,293.4 168.4,290.1 172.3,286.9 176.3,283.6 180.2,280.3 184.1,276.9 188.0,273.5 192.0,270.2 195.9,267.1 199.8,264.4 203.8,261.9 207.7,259.8 211.6,257.8 215.6,256.1 219.5,254.7 223.4,253.8 227.3,253.2 231.3,253.0 235.2,253.1 239.1,253.4 243.1,253.9 247.0,254.6 250.9,255.3 254.9,256.3 258.8,257.2 262.7,258.1 266.6,259.1 270.6,260.0 274.5,260.9 278.4,261.7 282.4,262.4 286.3,263.3 290.2,264.3 294.1,265.8 298.1,267.1 302.0,268.3 305.9,269.8 309.9,271.4 313.8,273.2 317.7,275.5 321.7,278.0 325.6,280.6 329.5,283.8 333.4,287.3 337.4,290.6 341.3,294.2 345.2,297.7 349.2,301.2 353.1,304.5 357.0,307.7 361.0,310.6 364.9,313.3 368.8,315.9 372.7,318.2 376.7,320.3 380.6,322.1 384.5,322.9 388.5,323.5 392.4,323.9 396.3,324.4 400.2,324.9 404.2,325.2 408.1,325.4 412.0,325.6 416.0,325.7 419.9,325.7 423.8,326.0 427.8,326.6 431.7,327.5 435.6,328.4 439.5,329.2 443.5,329.8 447.4,330.4 451.3,331.0 455.3,331.6 459.2,332.3 463.1,333.1 467.0,333.6 471.0,334.1"/>
<path d="M125.3,326.9 128.6,325.1 131.9,323.2 135.1,321.0 138.4,318.2 141.7,315.3 144.9,312.2 148.2,309.1 151.5,306.0 154.7,303.0 158.0,300.0 161.3,297.1 164.5,294.1 167.8,291.1 171.1,288.1 174.3,285.3 177.6,282.4 180.9,279.5 184.2,276.7 187.4,274.0 190.7,271.4 194.0,269.2 197.2,267.2 200.5,265.3 203.8,263.7 207.0,262.0 210.3,260.3 213.6,258.7 216.8,257.0 220.1,255.6 223.4,254.1 226.7,252.7 229.9,251.4 233.2,250.2 236.5,249.0 239.7,247.9 243.0,246.9 246.3,246.1 249.5,245.5 252.8,245.0 256.1,244.7 259.3,244.7 262.6,245.0 265.9,245.6 269.2,246.4 272.4,247.4 275.7,248.6 279.0,250.1 282.2,251.7 285.5,253.7 288.8,256.1 292.0,258.9 295.3,261.5 298.6,264.2 301.8,267.0 305.1,269.9 308.4,272.8 311.7,275.7 314.9,278.8 318.2,281.9 321.5,285.0 324.7,288.1 328.0,291.5 331.3,294.8 334.5,297.8 337.8,300.7 341.1,303.5 344.3,306.2 347.6,308.5 350.9,310.7 354.2,312.7 357.4,314.5 360.7,316.1 364.0,317.5 367.2,318.9 370.5,320.0 373.8,321.1 377.0,322.1 380.3,322.9 383.6,324.2 386.8,325.4 390.1,326.5 393.4,327.9 396.6,329.2 399.9,330.6 403.2,331.8 406.5,333.2 409.7,334.5 413.0,335.7 416.3,337.0 419.5,338.3 422.8,339.8 426.1,341.2 429.3,342.0 432.6,342.8 435.9,343.7 439.1,344.3 442.4,345.0 445.7,345.6 449.0,346.2"/>
<path d="M59.6,345.2 63.4,344.7 67.2,344.3 71.0,343.8 74.8,343.4 78.6,342.8 82.4,342.0 86.2,341.2 90.0,340.2 93.8,339.1 97.6,337.7 101.4,335.7 105.2,334.4 109.0,332.4 112.8,330.1 116.6,328.3 120.4,325.9 124.2,323.6 128.1,320.6 131.9,317.9 135.7,315.3 139.5,311.8 143.3,308.2 147.1,304.7 150.9,301.4 154.7,298.2 158.5,295.2 162.3,292.3 166.1,289.5 169.9,286.6 173.7,283.9 177.5,281.2 181.3,278.3 185.1,275.4 188.9,272.6 192.7,269.8 196.5,267.4 200.3,265.2 204.1,263.1 207.9,261.4 211.7,259.7 215.5,258.1 219.3,256.7 223.1,255.6 226.9,254.6 230.7,253.8 234.5,253.2 238.3,252.8 242.2,252.5 246.0,252.4 249.8,252.5 253.6,252.9 257.4,253.6 261.2,254.5 265.0,255.7 268.8,257.2 272.6,259.0 276.4,260.8 280.2,262.7 284.0,264.7 287.8,266.9 291.6,269.3 295.4,271.8 299.2,273.9 303.0,275.9 306.8,277.9 310.6,279.8 314.4,281.8 318.2,283.9 322.0,286.1 325.8,288.5 329.6,291.2 333.4,294.1 337.2,296.8 341.0,299.5 344.8,302.3 348.6,305.0 352.4,307.4 356.3,309.8 360.1,312.0 363.9,314.0 367.7,315.8 371.5,317.5 375.3,319.1 379.1,320.6 382.9,322.0 386.7,323.3 390.5,324.5 394.3,325.7 398.1,327.1 401.9,328.5 405.7,329.7 409.5,331.0 413.3,332.2 417.1,333.3 420.9,334.5 424.7,335.9 428.5,336.9 432.3,337.8 436.1,338.8"/>
<path d="M80.7,341.3 84.4,340.7 88.1,340.0 91.8,339.3 95.5,338.4 99.1,337.4 102.8,336.0 106.5,335.4 110.2,334.1 113.9,332.7 117.6,331.6 121.3,330.0 125.0,328.4 128.6,326.1 132.3,324.0 136.0,321.9 139.7,318.8 143.4,315.6 147.1,312.2 150.8,308.8 154.5,305.6 158.1,302.5 161.8,299.6 165.5,296.9 169.2,294.2 172.9,291.7 176.6,289.3 180.3,286.9 184.0,284.5 187.6,282.1 191.3,279.8 195.0,277.4 198.7,275.2 202.4,273.2 206.1,271.2 209.8,269.1 213.5,266.8 217.1,264.4 220.8,262.1 224.5,259.9 228.2,257.7 231.9,255.5 235.6,253.5 239.3,251.5 243.0,249.7 246.6,248.1 250.3,246.9 254.0,246.0 257.7,245.4 261.4,245.4 265.1,245.9 268.8,246.8 272.5,248.1 276.1,249.6 279.8,251.3 283.5,253.2 287.2,255.3 290.9,257.6 294.6,260.4 298.3,262.8 302.0,265.2 305.6,267.5 309.3,269.8 313.0,272.3 316.7,274.8 320.4,277.5 324.1,280.2 327.8,283.1 331.5,286.3 335.1,289.4 338.8,292.4 342.5,295.5 346.2,298.6 349.9,301.5 353.6,304.2 357.3,306.9 361.0,309.4 364.6,311.7 368.3,314.0 372.0,316.0 375.7,318.0 379.4,319.8 383.1,321.3 386.8,322.5 390.5,323.6 394.1,324.6 397.8,325.8 401.5,326.9 405.2,327.8 408.9,328.7 412.6,329.5 416.3,330.2 420.0,330.9 423.6,331.7 427.3,332.6 431.0,333.5 434.7,334.3 438.4,335.2 442.1,335.8 445.8,336.4"/>
<path d="M99.9,330.3 103.5,330.1 107.1,329.3 110.8,328.3 114.4,327.5 118.0,326.4 121.6,325.2 125.2,323.5 128.8,321.8 132.5,320.1 136.1,318.0 139.7,315.3 143.3,312.4 146.9,309.1 150.5,305.6 154.2,302.1 157.8,298.8 161.4,295.5 165.0,292.2 168.6,288.8 172.2,285.6 175.9,282.4 179.5,279.1 183.1,275.9 186.7,272.8 190.3,269.9 193.9,267.3 197.5,265.0 201.2,263.2 204.8,261.7 208.4,260.5 212.0,259.4 215.6,258.6 219.2,258.1 222.9,257.8 226.5,257.8 230.1,257.9 233.7,258.1 237.3,258.4 240.9,258.7 244.6,258.9 248.2,259.2 251.8,259.5 255.4,259.8 259.0,260.1 262.6,260.4 266.3,260.8 269.9,261.3 273.5,261.8 277.1,262.3 280.7,263.0 284.3,263.8 288.0,264.8 291.6,266.3 295.2,267.6 298.8,268.9 302.4,270.1 306.0,271.5 309.7,273.0 313.3,274.7 316.9,276.6 320.5,278.6 324.1,280.7 327.7,283.3 331.4,286.0 335.0,288.7 338.6,291.4 342.2,294.2 345.8,297.0 349.4,299.6 353.1,302.2 356.7,304.8 360.3,307.1 363.9,309.3 367.5,311.5 371.1,313.5 374.7,315.4 378.4,317.2 382.0,318.9 385.6,320.8 389.2,322.5 392.8,324.2 396.4,326.0 400.1,327.8 403.7,329.5 407.3,331.1 410.9,332.7 414.5,334.2 418.1,335.6 421.8,337.2 425.4,338.8 429.0,339.9 432.6,340.8 436.2,341.8 439.8,342.5 443.5,343.2 447.1,343.8 450.7,344.4 454.3,344.9 457.9,345.6"/>
<path d="M73.3,331.5 77.3,330.8 81.2,330.0 85.2,329.0 89.2,327.8 93.1,326.3 97.1,325.5 101.1,324.2 105.0,323.2 109.0,322.2 113.0,320.9 116.9,319.2 120.9,317.2 124.9,315.3 128.8,312.8 132.8,309.9 136.7,306.6 140.7,303.3 144.7,300.1 148.6,296.4 152.6,292.9 156.6,289.4 160.5,286.0 164.5,282.7 168.5,279.5 172.4,276.3 176.4,273.3 180.3,270.4 184.3,267.7 188.3,265.4 192.2,263.5 196.2,261.8 200.2,260.3 204.1,258.7 208.1,257.2 212.1,255.9 216.0,254.6 220.0,253.4 224.0,252.4 227.9,251.4 231.9,250.5 235.8,249.9 239.8,249.5 243.8,249.5 247.7,249.7 251.7,250.4 255.7,251.4 259.6,252.9 263.6,254.7 267.6,256.6 271.5,258.7 275.5,260.9 279.4,263.3 283.4,266.2 287.4,268.9 291.3,271.3 295.3,273.8 299.3,276.2 303.2,278.7 307.2,281.4 311.2,284.1 315.1,287.0 319.1,290.1 323.1,293.6 327.0,297.0 331.0,300.2 334.9,303.6 338.9,306.7 342.9,309.6 346.8,312.3 350.8,314.7 354.8,316.9 358.7,318.9 362.7,320.6 366.7,322.1 370.6,323.3 374.6,324.2 378.5,324.8 382.5,324.8 386.5,324.8 390.4,324.9 394.4,324.8 398.4,324.7 402.3,324.6 406.3,324.5 410.3,324.4 414.2,324.7 418.2,325.1 422.1,325.5 426.1,326.1 430.1,327.1 434.0,327.9 438.0,328.7 442.0,329.5 445.9,330.4 449.9,331.2 453.9,332.2 457.8,332.8 461.8,333.4 465.8,333.8"/>
<path d="M94.2,334.4 97.7,333.7 101.1,333.9 104.5,333.9 107.9,333.7 111.3,333.6 114.7,333.5 118.2,333.1 121.6,332.6 125.0,331.6 128.4,330.7 131.8,329.7 135.2,327.9 138.6,325.8 142.1,323.3 145.5,320.5 148.9,317.2 152.3,313.9 155.7,310.5 159.1,307.0 162.6,303.3 166.0,299.4 169.4,295.6 172.8,291.8 176.2,287.9 179.6,283.9 183.1,280.2 186.5,276.7 189.9,273.4 193.3,270.7 196.7,268.4 200.1,266.6 203.5,265.1 207.0,263.9 210.4,262.9 213.8,262.1 217.2,261.6 220.6,261.2 224.0,260.9 227.5,260.5 230.9,260.2 234.3,259.7 237.7,259.1 241.1,258.4 244.5,257.6 248.0,256.6 251.4,255.7 254.8,254.6 258.2,253.6 261.6,252.6 265.0,251.8 268.4,251.2 271.9,250.7 275.3,250.4 278.7,250.3 282.1,250.6 285.5,251.2 288.9,252.4 292.4,253.9 295.8,255.4 299.2,257.2 302.6,259.3 306.0,261.6 309.4,264.3 312.9,267.3 316.3,270.5 319.7,273.9 323.1,277.4 326.5,281.3 329.9,285.3 333.3,289.1 336.8,292.9 340.2,296.8 343.6,300.4 347.0,303.7 350.4,306.8 353.8,309.7 357.3,312.1 360.7,314.3 364.1,316.2 367.5,317.8 370.9,319.1 374.3,320.2 377.8,321.0 381.2,321.4 384.6,321.5 388.0,321.5 391.4,321.6 394.8,321.8 398.2,322.0 401.7,322.2 405.1,322.5 408.5,322.8 411.9,323.2 415.3,323.7 418.7,324.4 422.2,325.3 425.6,326.3 429.0,327.4 432.4,328.6"/>
<path d="M109.8,327.8 113.3,327.0 116.9,325.7 120.5,324.3 124.1,322.4 127.7,320.5 131.3,318.7 134.8,316.4 138.4,313.5 142.0,310.5 145.6,307.4 149.2,304.0 152.8,300.8 156.3,297.7 159.9,294.8 163.5,291.7 167.1,288.7 170.7,285.8 174.2,282.9 177.8,279.8 181.4,276.7 185.0,273.5 188.6,270.4 192.2,267.5 195.7,264.7 199.3,262.3 202.9,260.0 206.5,257.8 210.1,255.7 213.7,253.9 217.2,252.4 220.8,251.1 224.4,250.2 228.0,249.6 231.6,249.3 235.2,249.1 238.7,249.2 242.3,249.5 245.9,250.0 249.5,250.7 253.1,251.5 256.6,252.4 260.2,253.5 263.8,254.7 267.4,256.0 271.0,257.3 274.6,258.6 278.1,259.9 281.7,261.2 285.3,262.8 288.9,264.6 292.5,266.4 296.1,268.1 299.6,269.8 303.2,271.5 306.8,273.3 310.4,275.2 314.0,277.4 317.6,279.6 321.1,282.0 324.7,284.7 328.3,287.6 331.9,290.6 335.5,293.4 339.0,296.5 342.6,299.5 346.2,302.4 349.8,305.1 353.4,307.8 357.0,310.3 360.5,312.8 364.1,315.0 367.7,317.1 371.3,319.1 374.9,320.9 378.5,322.4 382.0,323.8 385.6,325.1 389.2,326.2 392.8,327.5 396.4,328.7 399.9,329.8 403.5,330.9 407.1,332.0 410.7,333.0 414.3,333.8 417.9,334.8 421.4,335.9 425.0,337.0 428.6,337.8 432.2,338.7 435.8,339.4 439.4,340.0 442.9,340.5 446.5,341.0 450.1,341.5 453.7,341.9 457.3,342.6 460.9,343.1 464.4,343.4"/>
<path d="M97.5,344.5 101.1,343.8 104.6,343.9 108.2,343.3 111.7,342.7 115.2,342.2 118.8,341.4 122.3,340.5 125.9,339.0 129.4,337.1 133.0,335.1 136.5,332.6 140.0,329.2 143.6,325.3 147.1,321.3 150.7,317.2 154.2,313.0 157.8,308.8 161.3,304.7 164.8,300.5 168.4,296.2 171.9,292.3 175.5,288.4 179.0,284.6 182.6,280.9 186.1,277.4 189.6,274.2 193.2,271.2 196.7,268.7 200.3,266.6 203.8,264.9 207.4,263.5 210.9,262.3 214.4,261.4 218.0,260.6 221.5,260.4 225.1,260.2 228.6,260.1 232.2,260.3 235.7,260.4 239.2,260.3 242.8,260.2 246.3,259.8 249.9,259.3 253.4,258.5 256.9,257.5 260.5,256.3 264.0,254.9 267.6,253.5 271.1,252.1 274.7,250.7 278.2,249.5 281.7,248.5 285.3,247.9 288.8,247.8 292.4,248.5 295.9,249.5 299.5,250.9 303.0,252.7 306.5,255.0 310.1,257.8 313.6,261.0 317.2,264.7 320.7,268.5 324.3,272.4 327.8,276.6 331.3,281.1 334.9,285.5 338.4,289.6 342.0,293.8 345.5,297.8 349.1,301.4 352.6,304.8 356.1,307.9 359.7,310.7 363.2,313.2 366.8,315.4 370.3,317.4 373.9,319.2 377.4,320.8 380.9,321.8 384.5,321.7 388.0,321.5 391.6,321.0 395.1,320.7 398.7,320.4 402.2,320.0 405.7,319.5 409.3,319.1 412.8,318.7 416.4,318.2 419.9,317.8 423.5,317.7 427.0,318.0 430.5,318.9 434.1,319.9 437.6,320.8 441.2,321.6 444.7,322.4 448.3,323.1"/>
<path d="M80.2,338.9 83.9,338.1 87.5,337.3 91.2,336.3 94.9,335.1 98.6,333.8 102.2,332.2 105.9,331.1 109.6,329.5 113.2,327.6 116.9,325.9 120.6,323.7 124.2,321.5 127.9,318.6 131.6,316.0 135.3,313.5 138.9,310.1 142.6,306.8 146.3,303.4 149.9,300.2 153.6,297.3 157.3,294.8 160.9,292.6 164.6,290.6 168.3,288.6 172.0,286.8 175.6,285.0 179.3,283.0 183.0,280.7 186.6,278.2 190.3,275.4 194.0,272.3 197.6,269.2 201.3,266.0 205.0,262.7 208.7,259.4 212.3,255.9 216.0,252.7 219.7,249.9 223.3,247.5 227.0,245.7 230.7,244.6 234.3,244.0 238.0,244.1 241.7,244.6 245.4,245.7 249.0,247.1 252.7,248.8 256.4,250.6 260.0,252.5 263.7,254.4 267.4,256.2 271.0,257.9 274.7,259.4 278.4,260.8 282.1,262.0 285.7,263.4 289.4,264.8 293.1,266.8 296.7,268.5 300.4,270.3 304.1,272.3 307.7,274.4 311.4,276.7 315.1,279.3 318.7,282.0 322.4,285.0 326.1,288.1 329.8,291.4 333.4,294.8 337.1,297.8 340.8,300.9 344.4,303.7 348.1,306.4 351.8,308.7 355.4,310.9 359.1,312.8 362.8,314.7 366.5,316.3 370.1,317.9 373.8,319.4 377.5,320.8 381.1,322.1 384.8,323.0 388.5,323.9 392.1,324.6 395.8,325.6 399.5,326.6 403.2,327.4 406.8,328.3 410.5,329.0 414.2,329.7 417.8,330.2 421.5,330.8 425.2,331.5 428.8,332.3 432.5,333.1 436.2,333.9 439.9,334.6 443.5,335.1"/>
<path d="M134.1,293.4 137.3,289.7 140.4,286.0 143.6,282.4 146.7,279.0 149.9,275.9 153.0,272.7 156.1,269.6 159.3,266.6 162.4,263.7 165.6,261.2 168.7,259.1 171.9,257.4 175.0,255.9 178.2,255.0 181.3,254.2 184.5,253.7 187.6,253.6 190.8,253.7 193.9,254.2 197.1,254.9 200.2,255.7 203.4,256.7 206.5,257.7 209.7,258.6 212.8,259.5 216.0,260.2 219.1,260.9 222.3,261.4 225.4,261.8 228.5,262.1 231.7,262.3 234.8,262.3 238.0,262.4 241.1,262.4 244.3,262.5 247.4,262.5 250.6,262.5 253.7,262.6 256.9,262.9 260.0,263.4 263.2,264.4 266.3,265.4 269.5,266.3 272.6,267.4 275.8,268.6 278.9,270.0 282.1,271.5 285.2,273.1 288.4,275.0 291.5,277.0 294.6,279.0 297.8,281.3 300.9,283.8 304.1,286.3 307.2,288.8 310.4,291.2 313.5,293.8 316.7,296.4 319.8,298.8 323.0,301.0 326.1,303.2 329.3,305.4 332.4,307.4 335.6,309.4 338.7,311.4 341.9,313.2 345.0,315.1 348.2,316.8 351.3,318.4 354.5,319.8 357.6,321.2 360.8,322.4 363.9,323.6 367.0,325.0 370.2,326.4 373.3,327.6 376.5,328.8 379.6,330.0 382.8,331.7 385.9,333.3 389.1,334.9 392.2,336.4 395.4,338.1 398.5,339.7 401.7,341.2 404.8,342.7 408.0,344.1 411.1,345.3 414.3,346.4 417.4,347.0 420.6,347.0 423.7,347.0 426.9,347.0 430.0,347.0 433.1,347.0 436.3,347.0 439.4,347.0 442.6,347.0 445.7,347.0"/>
<path d="M117.2,326.2 120.7,324.2 124.3,322.2 127.8,320.3 131.3,317.9 134.9,315.0 138.4,311.9 141.9,308.7 145.5,305.5 149.0,302.3 152.5,299.3 156.1,296.5 159.6,293.6 163.1,290.8 166.7,288.1 170.2,285.5 173.7,282.8 177.3,280.0 180.8,277.2 184.3,274.5 187.9,272.0 191.4,269.6 194.9,267.6 198.5,265.7 202.0,264.1 205.5,262.6 209.1,261.1 212.6,259.8 216.1,258.9 219.7,258.0 223.2,257.1 226.7,256.4 230.3,255.7 233.8,254.8 237.3,253.9 240.9,253.0 244.4,252.0 247.9,251.0 251.5,250.0 255.0,249.2 258.5,248.6 262.1,248.4 265.6,248.5 269.1,248.8 272.7,249.5 276.2,250.5 279.7,251.8 283.3,253.5 286.8,255.8 290.3,258.1 293.9,260.4 297.4,262.8 300.9,265.3 304.5,268.0 308.0,270.7 311.5,273.7 315.1,276.8 318.6,279.9 322.1,283.3 325.7,286.9 329.2,290.4 332.7,293.8 336.3,297.3 339.8,300.6 343.3,303.8 346.9,306.7 350.4,309.5 353.9,312.1 357.5,314.6 361.0,316.8 364.5,318.8 368.1,320.7 371.6,322.4 375.1,323.8 378.7,324.9 382.2,325.4 385.7,325.5 389.3,325.7 392.8,325.9 396.3,325.9 399.9,325.9 403.4,325.9 406.9,325.8 410.5,325.6 414.0,325.4 417.5,325.5 421.1,325.6 424.6,325.7 428.1,326.3 431.7,327.0 435.2,327.6 438.7,328.2 442.3,328.7 445.8,329.2 449.3,329.7 452.9,330.3 456.4,331.1 459.9,331.4 463.5,331.8 467.0,332.1"/>
<path d="M86.9,336.6 91.0,335.5 95.2,334.2 99.4,332.5 103.5,331.7 107.7,330.2 111.9,328.6 116.1,327.3 120.2,325.7 124.4,323.8 128.6,321.6 132.8,319.6 136.9,317.0 141.1,313.9 145.3,310.4 149.5,306.8 153.6,303.3 157.8,299.9 162.0,296.5 166.2,292.9 170.3,289.4 174.5,285.9 178.7,282.2 182.9,278.3 187.0,274.4 191.2,270.6 195.4,267.2 199.6,264.1 203.7,261.4 207.9,259.0 212.1,257.0 216.3,255.5 220.4,254.7 224.6,254.5 228.8,254.8 233.0,255.7 237.1,256.8 241.3,258.2 245.5,259.7 249.7,261.1 253.8,262.3 258.0,263.3 262.2,263.7 266.4,264.0 270.5,264.0 274.7,263.7 278.9,263.4 283.0,263.1 287.2,263.2 291.4,263.9 295.6,264.7 299.7,265.8 303.9,267.2 308.1,269.0 312.3,271.3 316.4,274.0 320.6,277.1 324.8,280.3 329.0,284.1 333.1,288.1 337.3,291.8 341.5,295.7 345.7,299.5 349.8,302.9 354.0,306.1 358.2,309.0 362.4,311.7 366.5,314.0 370.7,316.1 374.9,317.9 379.1,319.6 383.2,320.6 387.4,321.5 391.6,322.2 395.8,323.2 399.9,324.2 404.1,325.0 408.3,325.9 412.5,326.8 416.6,327.6 420.8,328.6 425.0,329.7 429.2,331.0 433.3,332.2 437.5,333.4 441.7,334.3 445.9,335.1 450.0,335.9 454.2,336.6 458.4,337.4 462.5,338.2 466.7,338.7 470.9,339.1 475.1,339.3 479.2,339.8 483.4,340.2 487.6,340.5 491.8,340.8 495.9,341.1 500.1,341.5"/>
<path d="M62.3,343.2 66.1,342.6 70.0,341.8 73.8,341.1 77.6,340.1 81.5,338.9 85.3,337.7 89.1,336.2 93.0,334.7 96.8,332.9 100.6,330.7 104.5,329.2 108.3,327.2 112.1,325.1 116.0,323.5 119.8,321.6 123.6,319.9 127.5,317.6 131.3,315.9 135.1,314.2 139.0,311.9 142.8,309.5 146.6,307.0 150.4,304.6 154.3,302.3 158.1,300.0 161.9,297.8 165.8,295.4 169.6,292.7 173.4,290.0 177.3,286.9 181.1,283.4 184.9,279.6 188.8,275.6 192.6,271.4 196.4,267.4 200.3,263.4 204.1,259.5 207.9,255.8 211.8,252.2 215.6,248.9 219.4,245.9 223.3,243.6 227.1,241.7 230.9,240.4 234.8,239.7 238.6,239.4 242.4,239.6 246.3,240.2 250.1,241.2 253.9,242.6 257.8,244.3 261.6,246.4 265.4,248.7 269.2,251.2 273.1,253.7 276.9,256.3 280.7,258.8 284.6,261.3 288.4,263.9 292.2,266.8 296.1,269.4 299.9,271.7 303.7,273.8 307.6,275.8 311.4,277.8 315.2,279.8 319.1,282.0 322.9,284.4 326.7,287.0 330.6,290.1 334.4,293.4 338.2,296.6 342.1,300.2 345.9,303.8 349.7,307.3 353.6,310.7 357.4,314.0 361.2,317.0 365.1,319.8 368.9,322.3 372.7,324.5 376.6,326.4 380.4,328.0 384.2,329.4 388.0,330.5 391.9,331.4 395.7,332.4 399.5,333.3 403.4,334.1 407.2,334.9 411.0,335.7 414.9,336.4 418.7,337.0 422.5,337.9 426.4,338.9 430.2,339.5 434.0,340.2 437.9,340.9 441.7,341.4"/>
<path d="M79.4,331.4 83.1,330.5 86.8,329.6 90.5,328.4 94.2,327.1 97.9,325.7 101.6,324.9 105.3,323.9 109.0,322.7 112.7,321.6 116.4,320.2 120.1,318.6 123.8,316.6 127.5,314.8 131.2,312.8 134.9,310.1 138.6,307.3 142.3,304.4 146.0,301.4 149.7,298.1 153.4,295.0 157.1,292.2 160.8,289.3 164.6,286.5 168.3,283.8 172.0,281.1 175.7,278.4 179.4,275.6 183.1,272.9 186.8,270.2 190.5,267.8 194.2,265.5 197.9,263.5 201.6,261.8 205.3,260.1 209.0,258.4 212.7,257.0 216.4,255.9 220.1,254.9 223.8,254.1 227.5,253.6 231.2,253.2 234.9,252.8 238.6,252.6 242.3,252.4 246.0,252.3 249.8,252.2 253.5,252.3 257.2,252.5 260.9,252.9 264.6,253.5 268.3,254.3 272.0,255.2 275.7,256.4 279.4,257.8 283.1,259.5 286.8,261.8 290.5,264.2 294.2,266.5 297.9,268.9 301.6,271.4 305.3,274.1 309.0,276.8 312.7,279.8 316.4,282.8 320.1,285.9 323.8,289.4 327.5,293.1 331.2,296.5 335.0,299.8 338.7,303.1 342.4,306.3 346.1,309.1 349.8,311.7 353.5,314.2 357.2,316.3 360.9,318.2 364.6,319.9 368.3,321.4 372.0,322.6 375.7,323.7 379.4,324.4 383.1,324.8 386.8,324.9 390.5,325.3 394.2,325.7 397.9,325.9 401.6,326.2 405.3,326.6 409.0,326.9 412.7,327.1 416.4,327.5 420.2,328.1 423.9,328.6 427.6,329.4 431.3,330.3 435.0,331.1 438.7,331.8 442.4,332.4 446.1,333.1"/>
<path d="M78.8,338.4 82.9,337.9 86.9,337.3 90.9,336.6 95.0,335.9 99.0,335.0 103.0,333.9 107.0,333.2 111.1,332.3 115.1,331.1 119.1,330.0 123.2,328.4 127.2,326.6 131.2,324.0 135.3,321.4 139.3,318.6 143.3,314.6 147.4,310.2 151.4,305.4 155.4,300.5 159.5,295.8 163.5,291.2 167.5,286.8 171.6,282.5 175.6,278.6 179.6,274.9 183.7,271.4 187.7,268.1 191.7,265.2 195.8,262.5 199.8,260.5 203.8,258.8 207.9,257.5 211.9,256.4 215.9,255.4 220.0,254.5 224.0,253.9 228.0,253.3 232.1,252.9 236.1,252.7 240.1,252.6 244.2,252.5 248.2,252.7 252.2,253.1 256.3,253.8 260.3,254.7 264.3,255.8 268.3,257.3 272.4,258.9 276.4,260.7 280.4,262.5 284.5,264.4 288.5,266.3 292.5,268.4 296.6,270.9 300.6,273.0 304.6,275.0 308.7,276.9 312.7,278.9 316.7,281.0 320.8,283.4 324.8,286.0 328.8,288.7 332.9,291.7 336.9,294.9 340.9,297.7 345.0,300.7 349.0,303.5 353.0,306.1 357.1,308.5 361.1,310.7 365.1,312.7 369.2,314.5 373.2,316.1 377.2,317.6 381.3,319.0 385.3,320.4 389.3,321.4 393.4,322.4 397.4,323.4 401.4,324.6 405.5,325.7 409.5,326.8 413.5,328.0 417.6,329.2 421.6,330.2 425.6,331.5 429.6,332.7 433.7,334.0 437.7,335.2 441.7,336.4 445.8,337.3 449.8,338.2 453.8,339.0 457.9,339.8 461.9,340.6 465.9,341.6 470.0,342.2 474.0,342.7 478.0,343.1"/>
<path d="M95.3,333.3 98.8,332.2 102.3,331.6 105.8,330.5 109.3,329.2 112.8,328.2 116.3,326.7 119.7,325.1 123.2,322.9 126.7,321.0 130.2,318.9 133.7,316.4 137.2,313.5 140.7,310.4 144.2,307.3 147.7,304.1 151.1,301.0 154.6,298.2 158.1,295.4 161.6,292.7 165.1,289.9 168.6,287.3 172.1,284.6 175.6,281.9 179.0,279.0 182.5,276.1 186.0,273.2 189.5,270.4 193.0,268.0 196.5,265.8 200.0,263.8 203.5,262.1 207.0,260.6 210.4,259.3 213.9,258.3 217.4,257.8 220.9,257.6 224.4,257.7 227.9,258.1 231.4,258.7 234.9,259.4 238.3,260.3 241.8,261.1 245.3,262.0 248.8,262.9 252.3,263.7 255.8,264.4 259.3,264.9 262.8,265.2 266.3,265.4 269.7,265.4 273.2,265.3 276.7,265.2 280.2,265.0 283.7,265.1 287.2,265.5 290.7,266.2 294.2,266.8 297.6,267.5 301.1,268.5 304.6,269.7 308.1,271.3 311.6,273.1 315.1,275.3 318.6,277.6 322.1,280.1 325.6,283.0 329.0,285.9 332.5,288.8 336.0,291.6 339.5,294.5 343.0,297.2 346.5,299.7 350.0,302.1 353.5,304.4 356.9,306.5 360.4,308.5 363.9,310.4 367.4,312.2 370.9,313.9 374.4,315.6 377.9,317.0 381.4,318.4 384.9,319.9 388.3,321.3 391.8,322.9 395.3,324.6 398.8,326.1 402.3,327.6 405.8,329.1 409.3,330.5 412.8,331.8 416.2,333.1 419.7,334.5 423.2,335.9 426.7,337.2 430.2,338.3 433.7,339.2 437.2,340.0 440.7,340.6"/>
<path d="M97.7,334.8 101.3,334.1 104.9,333.3 108.4,332.2 112.0,331.0 115.6,329.7 119.2,328.1 122.7,326.2 126.3,323.8 129.9,321.5 133.5,319.0 137.1,315.7 140.6,312.2 144.2,308.5 147.8,304.6 151.4,300.9 154.9,297.4 158.5,294.1 162.1,291.0 165.7,287.8 169.3,285.0 172.8,282.2 176.4,279.5 180.0,276.8 183.6,274.2 187.1,271.7 190.7,269.2 194.3,267.1 197.9,265.3 201.5,263.7 205.0,262.3 208.6,261.1 212.2,260.0 215.8,259.0 219.3,258.6 222.9,258.3 226.5,258.2 230.1,258.5 233.6,258.8 237.2,259.1 240.8,259.5 244.4,260.0 248.0,260.4 251.5,260.7 255.1,261.0 258.7,261.2 262.3,261.2 265.8,261.2 269.4,261.2 273.0,261.2 276.6,261.2 280.2,261.3 283.7,261.6 287.3,262.2 290.9,263.4 294.5,264.4 298.0,265.6 301.6,267.0 305.2,268.7 308.8,270.6 312.4,272.7 315.9,275.3 319.5,278.0 323.1,280.9 326.7,284.2 330.2,287.8 333.8,291.2 337.4,294.7 341.0,298.2 344.6,301.7 348.1,304.8 351.7,307.8 355.3,310.6 358.9,313.1 362.4,315.3 366.0,317.3 369.6,319.0 373.2,320.5 376.8,321.7 380.3,322.5 383.9,323.0 387.5,323.3 391.1,323.5 394.6,323.9 398.2,324.2 401.8,324.4 405.4,324.8 408.9,325.1 412.5,325.4 416.1,325.8 419.7,326.4 423.3,327.1 426.8,328.0 430.4,328.9 434.0,330.0 437.6,330.9 441.1,331.7 444.7,332.6 448.3,333.5 451.9,334.3"/>
<path d="M80.5,335.3 84.4,334.7 88.4,334.1 92.3,333.4 96.2,332.4 100.1,331.0 104.1,331.0 108.0,330.2 111.9,329.1 115.8,328.2 119.8,326.9 123.7,325.3 127.6,323.0 131.5,320.9 135.5,318.4 139.4,315.1 143.3,311.5 147.2,307.6 151.2,303.5 155.1,299.6 159.0,296.0 162.9,292.4 166.9,288.9 170.8,285.6 174.7,282.4 178.6,279.2 182.6,276.0 186.5,272.9 190.4,270.0 194.3,267.3 198.3,265.0 202.2,262.9 206.1,261.1 210.0,259.4 214.0,257.7 217.9,256.1 221.8,254.8 225.7,253.7 229.7,252.7 233.6,251.8 237.5,251.1 241.4,250.4 245.4,250.0 249.3,249.8 253.2,249.9 257.1,250.1 261.1,250.8 265.0,251.8 268.9,253.0 272.8,254.3 276.8,255.7 280.7,257.2 284.6,258.8 288.5,260.6 292.5,262.9 296.4,264.9 300.3,266.8 304.2,268.9 308.2,271.1 312.1,273.6 316.0,276.3 319.9,279.3 323.9,282.4 327.8,286.0 331.7,289.9 335.6,293.5 339.6,297.2 343.5,300.8 347.4,304.2 351.3,307.3 355.3,310.1 359.2,312.6 363.1,314.9 367.0,317.0 371.0,318.7 374.9,320.4 378.8,321.9 382.7,323.3 386.7,324.7 390.6,325.9 394.5,327.4 398.4,328.9 402.4,330.3 406.3,331.8 410.2,333.1 414.1,334.4 418.1,335.5 422.0,336.9 425.9,338.2 429.8,339.2 433.8,340.1 437.7,340.9 441.6,341.5 445.5,342.1 449.5,342.6 453.4,343.1 457.3,343.7 461.2,344.5 465.2,344.9 469.1,345.3"/>
<path d="M85.6,337.7 89.4,337.2 93.3,336.5 97.1,335.5 101.0,335.1 104.9,334.3 108.7,333.1 112.6,332.3 116.4,330.8 120.3,329.3 124.2,327.0 128.0,324.9 131.9,322.6 135.8,319.4 139.6,315.8 143.5,312.0 147.3,308.0 151.2,304.0 155.1,300.2 158.9,296.5 162.8,292.7 166.7,288.9 170.5,285.3 174.4,281.8 178.2,278.2 182.1,274.8 186.0,271.5 189.8,268.4 193.7,265.8 197.5,263.5 201.4,261.5 205.3,259.8 209.1,258.1 213.0,256.6 216.9,255.3 220.7,254.2 224.6,253.3 228.4,252.5 232.3,251.9 236.2,251.2 240.0,250.7 243.9,250.2 247.7,249.9 251.6,249.6 255.5,249.4 259.3,249.5 263.2,249.9 267.1,250.5 270.9,251.3 274.8,252.2 278.6,253.5 282.5,255.0 286.4,256.8 290.2,259.4 294.1,261.7 297.9,264.1 301.8,266.5 305.7,269.1 309.5,271.8 313.4,274.7 317.3,277.7 321.1,280.9 325.0,284.3 328.8,288.1 332.7,291.7 336.6,295.3 340.4,299.0 344.3,302.7 348.2,305.9 352.0,309.1 355.9,312.0 359.7,314.7 363.6,317.2 367.5,319.4 371.3,321.4 375.2,323.2 379.0,324.7 382.9,325.7 386.8,326.4 390.6,327.2 394.5,328.0 398.4,328.7 402.2,329.3 406.1,329.8 409.9,330.3 413.8,330.7 417.7,331.1 421.5,331.8 425.4,332.4 429.2,333.2 433.1,334.0 437.0,334.7 440.8,335.3 444.7,335.8 448.6,336.4 452.4,336.9 456.3,337.6 460.1,338.2 464.0,338.6 467.9,339.0"/>
<path d="M100.5,335.4 104.0,334.1 107.5,333.8 111.0,332.7 114.5,331.4 118.0,330.3 121.5,328.8 125.0,327.1 128.5,325.1 132.0,322.8 135.5,320.6 139.0,318.2 142.4,314.9 145.9,311.5 149.4,307.8 152.9,303.9 156.4,300.0 159.9,296.2 163.4,292.4 166.9,288.5 170.4,284.5 173.9,280.5 177.4,276.4 180.9,272.2 184.4,267.9 187.9,263.5 191.4,259.1 194.9,254.9 198.4,251.0 201.9,247.5 205.4,244.4 208.9,241.9 212.4,239.8 215.9,238.1 219.4,237.0 222.9,236.6 226.4,236.7 229.9,237.6 233.4,238.8 236.9,240.6 240.4,242.6 243.9,244.8 247.4,247.1 250.9,249.5 254.4,251.8 257.9,254.0 261.4,256.0 264.9,257.8 268.4,259.5 271.9,261.0 275.4,262.5 278.9,263.8 282.4,264.9 285.9,266.2 289.4,267.5 292.9,268.8 296.4,270.8 299.9,272.4 303.4,273.9 306.9,275.5 310.4,277.2 313.9,279.0 317.4,280.8 320.9,283.0 324.4,285.3 327.9,287.7 331.4,290.4 334.9,293.3 338.4,296.1 341.9,298.7 345.4,301.5 348.9,304.2 352.4,306.7 355.9,309.0 359.4,311.3 362.9,313.4 366.4,315.4 369.9,317.3 373.4,319.1 376.9,321.0 380.4,322.7 383.8,324.2 387.3,325.6 390.8,326.8 394.3,327.9 397.8,329.1 401.3,330.3 404.8,331.3 408.3,332.2 411.8,333.1 415.3,333.8 418.8,334.3 422.3,334.8 425.8,335.4 429.3,336.0 432.8,336.5 436.3,337.1 439.8,337.6 443.3,337.9 446.8,338.2"/>
<path d="M119.7,331.8 122.9,330.5 126.2,328.6 129.4,326.8 132.7,325.0 135.9,322.6 139.2,319.8 142.4,316.7 145.6,313.4 148.9,310.3 152.1,307.1 155.4,304.0 158.6,301.0 161.9,297.9 165.1,294.7 168.4,291.6 171.6,288.5 174.9,285.4 178.1,282.3 181.3,279.2 184.6,276.1 187.8,273.2 191.1,270.3 194.3,267.8 197.6,265.5 200.8,263.5 204.1,261.7 207.3,260.1 210.6,258.5 213.8,257.2 217.0,256.0 220.3,255.2 223.5,254.6 226.8,254.0 230.0,253.8 233.3,253.6 236.5,253.5 239.8,253.4 243.0,253.4 246.3,253.5 249.5,253.6 252.8,253.8 256.0,253.9 259.2,254.2 262.5,254.5 265.7,254.9 269.0,255.4 272.2,256.0 275.5,256.7 278.7,257.4 282.0,258.3 285.2,259.5 288.5,260.8 291.7,262.6 294.9,264.2 298.2,265.8 301.4,267.4 304.7,269.2 307.9,270.9 311.2,272.8 314.4,274.8 317.7,277.0 320.9,279.2 324.2,281.5 327.4,284.1 330.6,286.9 333.9,289.5 337.1,292.1 340.4,294.8 343.6,297.5 346.9,300.1 350.1,302.6 353.4,305.0 356.6,307.4 359.9,309.5 363.1,311.6 366.4,313.6 369.6,315.4 372.8,317.2 376.1,318.9 379.3,320.3 382.6,321.6 385.8,322.8 389.1,323.8 392.3,324.9 395.6,326.1 398.8,327.2 402.1,328.2 405.3,329.2 408.5,330.1 411.8,331.0 415.0,331.8 418.3,332.5 421.5,333.5 424.8,334.5 428.0,335.4 431.3,336.2 434.5,337.0 437.8,337.7 441.0,338.3"/>
<path d="M73.0,347.0 76.9,347.0 80.9,347.0 84.8,346.9 88.7,346.1 92.6,345.0 96.5,343.8 100.4,342.1 104.4,339.9 108.3,337.8 112.2,335.2 116.1,332.7 120.0,329.9 123.9,326.9 127.9,323.4 131.8,320.0 135.7,316.6 139.6,312.5 143.5,308.2 147.4,304.1 151.4,300.4 155.3,297.0 159.2,293.8 163.1,290.9 167.0,288.1 171.0,285.4 174.9,282.9 178.8,280.5 182.7,278.1 186.6,275.7 190.5,273.3 194.5,271.0 198.4,269.1 202.3,267.3 206.2,265.7 210.1,264.2 214.0,262.5 218.0,261.0 221.9,259.7 225.8,258.5 229.7,257.4 233.6,256.6 237.5,255.7 241.5,255.0 245.4,254.3 249.3,253.9 253.2,253.6 257.1,253.4 261.0,253.5 265.0,253.7 268.9,254.3 272.8,255.2 276.7,256.1 280.6,257.2 284.5,258.5 288.5,260.1 292.4,262.0 296.3,264.2 300.2,266.2 304.1,268.3 308.0,270.5 312.0,272.9 315.9,275.4 319.8,278.2 323.7,281.1 327.6,284.4 331.5,287.9 335.5,291.6 339.4,295.1 343.3,298.8 347.2,302.4 351.1,305.7 355.1,308.8 359.0,311.8 362.9,314.4 366.8,316.8 370.7,319.0 374.6,320.9 378.6,322.6 382.5,324.1 386.4,325.3 390.3,326.3 394.2,327.2 398.1,328.3 402.1,329.3 406.0,330.2 409.9,331.1 413.8,332.1 417.7,332.9 421.6,333.8 425.6,335.0 429.5,335.9 433.4,336.8 437.3,337.8 441.2,338.6 445.1,339.3 449.1,340.0 453.0,340.6 456.9,341.3 460.8,342.0"/>
<path d="M105.9,336.0 109.5,335.2 113.0,334.6 116.6,333.9 120.1,333.0 123.7,331.9 127.2,330.4 130.8,329.1 134.4,327.5 137.9,325.0 141.5,322.3 145.0,319.1 148.6,315.9 152.1,312.5 155.7,309.1 159.2,305.6 162.8,301.9 166.3,298.1 169.9,294.2 173.4,290.3 177.0,286.3 180.5,282.2 184.1,278.1 187.6,274.0 191.2,270.1 194.7,266.7 198.3,263.6 201.9,260.9 205.4,258.7 209.0,256.9 212.5,255.4 216.1,254.3 219.6,254.0 223.2,254.0 226.7,254.4 230.3,255.3 233.8,256.4 237.4,257.6 240.9,258.9 244.5,260.1 248.0,261.3 251.6,262.2 255.1,263.0 258.7,263.5 262.2,263.6 265.8,263.5 269.4,263.3 272.9,262.8 276.5,262.3 280.0,261.8 283.6,261.4 287.1,261.2 290.7,261.5 294.2,262.0 297.8,262.5 301.3,263.2 304.9,264.3 308.4,265.7 312.0,267.5 315.5,269.7 319.1,272.3 322.6,275.0 326.2,278.1 329.7,281.6 333.3,285.2 336.9,288.8 340.4,292.5 344.0,296.1 347.5,299.5 351.1,302.7 354.6,305.7 358.2,308.4 361.7,310.8 365.3,313.0 368.8,314.9 372.4,316.7 375.9,318.2 379.5,319.4 383.0,320.6 386.6,321.6 390.1,322.5 393.7,323.6 397.3,324.7 400.8,325.7 404.4,326.7 407.9,327.8 411.5,328.8 415.0,329.7 418.6,330.6 422.1,331.8 425.7,332.9 429.2,333.8 432.8,334.8 436.3,335.7 439.9,336.4 443.4,337.1 447.0,337.7 450.5,338.4 454.1,339.0 457.6,339.8"/>
<path d="M56.2,338.7 60.1,338.3 64.1,338.0 68.0,337.6 72.0,337.3 75.9,337.0 79.9,336.4 83.8,335.9 87.8,335.2 91.7,334.5 95.7,333.5 99.6,332.2 103.6,331.9 107.5,331.0 111.5,329.7 115.4,328.6 119.4,327.0 123.3,325.0 127.3,322.5 131.2,320.1 135.2,317.1 139.1,313.4 143.1,309.5 147.0,305.2 151.0,300.9 154.9,296.8 158.9,292.9 162.8,289.1 166.8,285.4 170.7,282.0 174.7,278.7 178.6,275.4 182.6,272.2 186.5,269.1 190.5,266.2 194.4,263.8 198.4,261.7 202.3,259.9 206.3,258.4 210.2,257.0 214.2,255.9 218.1,255.1 222.1,254.6 226.0,254.3 230.0,254.2 233.9,254.3 237.9,254.4 241.8,254.6 245.8,254.9 249.7,255.3 253.7,255.7 257.6,256.3 261.6,257.0 265.5,257.9 269.5,259.0 273.4,260.2 277.4,261.4 281.3,262.9 285.3,264.5 289.2,266.4 293.2,268.5 297.1,270.4 301.1,272.1 305.0,274.0 309.0,276.0 312.9,278.0 316.9,280.3 320.8,282.8 324.8,285.5 328.7,288.6 332.7,291.7 336.6,294.7 340.6,297.9 344.5,301.1 348.5,304.0 352.4,306.8 356.4,309.5 360.3,312.0 364.3,314.2 368.3,316.3 372.2,318.2 376.2,319.9 380.1,321.3 384.1,322.8 388.0,324.2 392.0,325.5 395.9,327.1 399.9,328.5 403.8,329.8 407.8,331.2 411.7,332.5 415.7,333.7 419.6,335.0 423.6,336.5 427.5,337.7 431.5,338.7 435.4,339.7 439.4,340.4 443.3,341.1 447.3,341.7"/>
<path d="M101.5,333.6 105.0,333.0 108.6,332.0 112.2,330.7 115.7,329.6 119.3,328.3 122.9,326.8 126.4,325.0 130.0,323.0 133.5,321.0 137.1,318.7 140.7,315.7 144.2,312.5 147.8,309.1 151.4,305.5 154.9,302.0 158.5,298.6 162.1,295.4 165.6,292.2 169.2,289.0 172.8,286.1 176.3,283.2 179.9,280.5 183.5,277.7 187.0,275.2 190.6,272.8 194.1,270.6 197.7,268.7 201.3,267.1 204.8,265.7 208.4,264.5 212.0,263.3 215.5,262.1 219.1,261.0 222.7,260.2 226.2,259.4 229.8,258.7 233.4,258.2 236.9,257.6 240.5,257.1 244.1,256.7 247.6,256.3 251.2,256.0 254.7,255.8 258.3,255.6 261.9,255.5 265.4,255.5 269.0,255.7 272.6,256.0 276.1,256.4 279.7,256.9 283.3,257.6 286.8,258.4 290.4,259.5 294.0,261.1 297.5,262.6 301.1,264.1 304.7,265.7 308.2,267.5 311.8,269.5 315.3,271.6 318.9,274.2 322.5,276.7 326.0,279.4 329.6,282.6 333.2,286.0 336.7,289.3 340.3,292.6 343.9,296.0 347.4,299.4 351.0,302.5 354.6,305.6 358.1,308.5 361.7,311.2 365.3,313.7 368.8,316.0 372.4,318.1 375.9,320.1 379.5,321.9 383.1,323.6 386.6,325.2 390.2,326.5 393.8,327.7 397.3,329.1 400.9,330.3 404.5,331.4 408.0,332.4 411.6,333.4 415.2,334.3 418.7,335.1 422.3,336.0 425.9,337.1 429.4,337.7 433.0,338.4 436.5,339.2 440.1,339.9 443.7,340.4 447.2,340.9 450.8,341.5 454.4,342.1"/>
<path d="M77.2,339.7 81.5,339.2 85.8,338.7 90.2,338.1 94.5,337.4 98.9,336.4 103.2,335.7 107.6,334.9 111.9,333.6 116.3,332.6 120.6,330.9 124.9,328.9 129.3,326.3 133.6,323.7 138.0,320.1 142.3,315.8 146.7,311.1 151.0,306.0 155.4,301.1 159.7,296.3 164.1,291.4 168.4,286.5 172.7,281.8 177.1,277.1 181.4,272.2 185.8,267.3 190.1,262.6 194.5,258.0 198.8,253.8 203.2,250.0 207.5,246.6 211.8,243.5 216.2,240.9 220.5,239.2 224.9,238.4 229.2,238.4 233.6,239.3 237.9,241.0 242.3,243.4 246.6,246.3 251.0,249.6 255.3,253.0 259.6,256.3 264.0,259.3 268.3,261.9 272.7,264.0 277.0,265.6 281.4,266.7 285.7,267.6 290.1,268.5 294.4,269.6 298.7,270.4 303.1,271.2 307.4,272.4 311.8,274.0 316.1,276.1 320.5,278.7 324.8,281.8 329.2,285.8 333.5,290.1 337.9,294.4 342.2,299.1 346.5,303.8 350.9,308.1 355.2,312.2 359.6,315.9 363.9,319.1 368.3,321.9 372.6,324.2 377.0,326.0 381.3,327.5 385.6,328.7 390.0,329.6 394.3,330.5 398.7,331.5 403.0,332.3 407.4,333.2 411.7,334.0 416.1,334.7 420.4,335.5 424.8,336.6 429.1,337.4 433.4,338.1 437.8,338.9 442.1,339.5 446.5,340.0 450.8,340.7 455.2,341.3 459.5,342.2 463.9,342.9 468.2,343.5 472.5,344.0 476.9,344.4 481.2,345.0 485.6,345.5 489.9,345.9 494.3,346.3 498.6,346.7 503.0,347.0 507.3,347.0"/>
<path d="M95.0,336.7 98.7,334.9 102.5,334.0 106.2,332.2 110.0,330.0 113.7,328.2 117.4,325.9 121.2,323.4 124.9,320.1 128.7,317.0 132.4,313.9 136.2,309.8 139.9,305.6 143.6,301.2 147.4,296.9 151.1,293.0 154.9,289.4 158.6,286.2 162.4,283.2 166.1,280.5 169.8,278.2 173.6,276.1 177.3,274.2 181.1,272.4 184.8,270.8 188.6,269.4 192.3,268.3 196.1,267.3 199.8,266.6 203.5,266.0 207.3,265.4 211.0,264.7 214.8,264.0 218.5,263.5 222.3,263.0 226.0,262.4 229.7,262.0 233.5,261.5 237.2,261.0 241.0,260.5 244.7,260.2 248.5,259.9 252.2,259.8 255.9,259.9 259.7,260.3 263.4,260.9 267.2,261.9 270.9,263.1 274.7,264.5 278.4,266.1 282.1,267.9 285.9,270.0 289.6,272.4 293.4,274.6 297.1,276.5 300.9,278.3 304.6,280.0 308.3,281.7 312.1,283.2 315.8,284.9 319.6,286.5 323.3,288.4 327.1,290.5 330.8,292.7 334.5,294.7 338.3,296.7 342.0,298.8 345.8,300.8 349.5,302.7 353.3,304.5 357.0,306.3 360.7,308.0 364.5,309.6 368.2,311.1 372.0,312.7 375.7,314.2 379.5,315.5 383.2,316.8 387.0,318.1 390.7,319.5 394.4,321.1 398.2,322.7 401.9,324.2 405.7,325.8 409.4,327.3 413.2,328.7 416.9,330.1 420.6,331.7 424.4,333.2 428.1,334.6 431.9,335.9 435.6,337.0 439.4,337.9 443.1,338.7 446.8,339.5 450.6,340.1 454.3,340.8 458.1,341.6 461.8,342.2 465.6,342.6"/>
<path d="M116.6,324.8 120.1,324.1 123.6,323.3 127.2,322.0 130.7,320.8 134.2,319.5 137.8,317.4 141.3,315.0 144.8,312.4 148.3,309.0 151.9,305.6 155.4,302.3 158.9,299.0 162.5,295.8 166.0,292.6 169.5,289.4 173.1,286.4 176.6,283.3 180.1,280.2 183.6,277.2 187.2,274.3 190.7,271.5 194.2,269.0 197.8,266.7 201.3,264.8 204.8,263.1 208.3,261.6 211.9,260.1 215.4,258.7 218.9,257.6 222.5,256.7 226.0,255.9 229.5,255.3 233.1,254.8 236.6,254.5 240.1,254.1 243.6,253.9 247.2,253.8 250.7,253.8 254.2,253.8 257.8,254.0 261.3,254.3 264.8,254.7 268.4,255.3 271.9,256.0 275.4,256.7 278.9,257.5 282.5,258.4 286.0,259.5 289.5,260.8 293.1,262.6 296.6,264.1 300.1,265.6 303.6,267.3 307.2,269.0 310.7,271.0 314.2,273.1 317.8,275.5 321.3,278.0 324.8,280.7 328.4,283.8 331.9,287.1 335.4,290.3 338.9,293.6 342.5,297.0 346.0,300.4 349.5,303.4 353.1,306.4 356.6,309.3 360.1,311.9 363.6,314.3 367.2,316.5 370.7,318.5 374.2,320.3 377.8,321.9 381.3,323.1 384.8,323.9 388.4,324.6 391.9,325.1 395.4,325.8 398.9,326.5 402.5,327.0 406.0,327.6 409.5,328.1 413.1,328.6 416.6,329.0 420.1,329.5 423.7,330.1 427.2,330.8 430.7,331.6 434.2,332.4 437.8,333.2 441.3,333.8 444.8,334.4 448.4,335.0 451.9,335.5 455.4,336.1 458.9,336.8 462.5,337.5 466.0,338.0"/>
<path d="M65.3,341.8 69.0,341.4 72.7,340.9 76.4,340.2 80.2,339.5 83.9,338.7 87.6,337.8 91.4,336.8 95.1,335.6 98.8,334.9 102.6,334.0 106.3,332.9 110.0,332.0 113.8,331.1 117.5,330.2 121.2,329.1 124.9,327.9 128.7,327.0 132.4,325.8 136.1,324.0 139.9,322.1 143.6,320.0 147.3,317.9 151.1,315.9 154.8,313.7 158.5,311.5 162.3,308.8 166.0,306.0 169.7,302.9 173.4,299.5 177.2,295.8 180.9,291.9 184.6,287.9 188.4,283.9 192.1,280.1 195.8,276.6 199.6,273.2 203.3,270.1 207.0,267.0 210.8,264.0 214.5,261.1 218.2,258.5 221.9,255.9 225.7,253.5 229.4,251.1 233.1,248.8 236.9,246.5 240.6,244.4 244.3,242.5 248.1,240.8 251.8,239.3 255.5,238.1 259.3,237.3 263.0,237.3 266.7,237.6 270.4,238.4 274.2,239.5 277.9,241.1 281.6,243.1 285.4,245.6 289.1,248.8 292.8,251.8 296.6,255.0 300.3,258.2 304.0,261.4 307.8,264.7 311.5,268.1 315.2,271.4 318.9,274.8 322.7,278.2 326.4,281.8 330.1,285.4 333.9,288.9 337.6,292.6 341.3,296.2 345.1,299.7 348.8,303.2 352.5,306.6 356.3,309.8 360.0,312.9 363.7,315.8 367.4,318.5 371.2,321.0 374.9,323.2 378.6,324.9 382.4,326.4 386.1,327.5 389.8,328.6 393.6,329.6 397.3,330.5 401.0,331.2 404.8,331.9 408.5,332.4 412.2,332.8 415.9,333.2 419.7,333.8 423.4,334.3 427.1,334.9 430.9,335.6 434.6,336.2"/>
<path d="M121.1,322.2 124.3,320.1 127.5,318.1 130.7,316.2 133.9,313.6 137.1,310.8 140.3,307.9 143.5,304.9 146.7,301.8 149.9,298.9 153.1,296.0 156.2,293.5 159.4,291.0 162.6,288.6 165.8,286.3 169.0,284.2 172.2,282.2 175.4,280.3 178.6,278.4 181.8,276.5 185.0,274.8 188.2,273.2 191.4,271.9 194.6,270.7 197.8,269.8 201.0,269.1 204.2,268.5 207.4,268.0 210.6,267.6 213.8,267.3 217.0,267.3 220.2,267.4 223.4,267.7 226.6,268.0 229.8,268.3 233.0,268.6 236.2,268.9 239.4,269.0 242.6,269.0 245.8,268.9 249.0,268.6 252.2,268.2 255.4,267.6 258.6,266.9 261.7,266.0 264.9,265.1 268.1,264.2 271.3,263.3 274.5,262.4 277.7,261.7 280.9,261.1 284.1,260.8 287.3,260.9 290.5,261.3 293.7,261.7 296.9,262.2 300.1,262.8 303.3,263.7 306.5,264.8 309.7,266.1 312.9,267.7 316.1,269.5 319.3,271.5 322.5,273.6 325.7,276.1 328.9,278.7 332.1,281.3 335.3,284.0 338.5,286.8 341.7,289.8 344.9,292.6 348.1,295.4 351.3,298.2 354.5,301.0 357.7,303.7 360.9,306.3 364.1,308.8 367.2,311.2 370.4,313.5 373.6,315.7 376.8,317.8 380.0,319.5 383.2,321.1 386.4,322.5 389.6,323.9 392.8,325.3 396.0,326.7 399.2,327.9 402.4,329.0 405.6,330.1 408.8,331.1 412.0,331.9 415.2,332.7 418.4,333.6 421.6,334.4 424.8,335.2 428.0,336.0 431.2,336.7 434.4,337.3 437.6,337.8"/>
<path d="M103.1,334.5 106.5,333.3 109.8,331.8 113.2,330.8 116.5,329.2 119.9,327.6 123.2,325.5 126.6,323.4 129.9,321.3 133.3,318.9 136.6,315.9 140.0,312.7 143.3,309.3 146.6,305.8 150.0,302.4 153.3,299.2 156.7,296.0 160.0,292.9 163.4,289.7 166.7,286.6 170.1,283.6 173.4,280.5 176.8,277.5 180.1,274.5 183.5,271.5 186.8,268.7 190.2,266.0 193.5,263.7 196.9,261.7 200.2,259.9 203.5,258.5 206.9,257.2 210.2,256.0 213.6,255.1 216.9,254.4 220.3,253.9 223.6,253.7 227.0,253.6 230.3,253.7 233.7,253.9 237.0,254.0 240.4,254.2 243.7,254.5 247.1,254.7 250.4,255.0 253.8,255.2 257.1,255.5 260.4,255.8 263.8,256.2 267.1,256.6 270.5,257.1 273.8,257.5 277.2,258.0 280.5,258.6 283.9,259.5 287.2,260.4 290.6,262.0 293.9,263.3 297.3,264.7 300.6,266.1 304.0,267.9 307.3,269.8 310.7,271.9 314.0,274.3 317.3,276.9 320.7,279.7 324.0,282.7 327.4,286.1 330.7,289.6 334.1,292.9 337.4,296.3 340.8,299.6 344.1,303.0 347.5,305.9 350.8,308.8 354.2,311.5 357.5,313.9 360.9,316.2 364.2,318.3 367.6,320.1 370.9,321.8 374.2,323.3 377.6,324.6 380.9,325.5 384.3,326.3 387.6,326.7 391.0,327.3 394.3,328.0 397.7,328.5 401.0,329.0 404.4,329.4 407.7,329.8 411.1,330.2 414.4,330.5 417.8,330.8 421.1,331.3 424.5,331.8 427.8,332.3 431.1,333.0 434.5,333.6"/>
<path d="M90.7,339.3 94.4,338.4 98.0,337.1 101.6,336.6 105.2,335.3 108.8,333.7 112.4,332.3 116.1,330.3 119.7,328.3 123.3,325.6 126.9,322.9 130.5,320.3 134.1,317.3 137.7,313.8 141.4,310.4 145.0,306.9 148.6,303.7 152.2,300.9 155.8,298.3 159.4,296.1 163.0,293.9 166.7,291.9 170.3,290.0 173.9,288.1 177.5,286.0 181.1,283.8 184.7,281.5 188.4,279.1 192.0,276.7 195.6,274.4 199.2,272.3 202.8,270.3 206.4,268.2 210.0,266.1 213.7,264.1 217.3,262.3 220.9,260.6 224.5,259.1 228.1,257.7 231.7,256.4 235.4,255.1 239.0,253.8 242.6,252.6 246.2,251.5 249.8,250.4 253.4,249.5 257.0,248.8 260.7,248.4 264.3,248.4 267.9,248.7 271.5,249.3 275.1,250.2 278.7,251.4 282.4,252.9 286.0,254.8 289.6,257.2 293.2,259.6 296.8,261.9 300.4,264.2 304.0,266.7 307.7,269.1 311.3,271.6 314.9,274.4 318.5,277.2 322.1,280.0 325.7,283.2 329.3,286.5 333.0,289.7 336.6,292.9 340.2,296.1 343.8,299.3 347.4,302.2 351.0,305.1 354.7,307.9 358.3,310.3 361.9,312.7 365.5,315.0 369.1,317.1 372.7,319.0 376.3,320.8 380.0,322.2 383.6,323.9 387.2,325.4 390.8,326.9 394.4,328.6 398.0,330.1 401.7,331.4 405.3,332.8 408.9,334.1 412.5,335.3 416.1,336.5 419.7,337.9 423.3,339.4 427.0,340.6 430.6,341.5 434.2,342.4 437.8,343.1 441.4,343.8 445.0,344.4 448.7,345.0"/>
<path d="M111.8,330.8 115.0,330.2 118.2,329.2 121.3,328.1 124.5,326.9 127.7,325.3 130.9,324.0 134.1,322.7 137.2,320.8 140.4,318.6 143.6,316.3 146.8,313.7 149.9,311.0 153.1,308.1 156.3,305.3 159.5,302.3 162.6,299.2 165.8,295.8 169.0,292.2 172.2,288.3 175.4,284.3 178.5,279.9 181.7,275.2 184.9,270.4 188.1,265.6 191.2,260.7 194.4,256.1 197.6,251.8 200.8,248.0 203.9,244.6 207.1,241.7 210.3,239.3 213.5,237.4 216.6,236.1 219.8,235.6 223.0,235.6 226.2,236.3 229.4,237.5 232.5,239.1 235.7,241.0 238.9,243.2 242.1,245.5 245.2,247.9 248.4,250.3 251.6,252.6 254.8,254.9 257.9,257.0 261.1,258.9 264.3,260.6 267.5,262.1 270.7,263.6 273.8,264.8 277.0,265.9 280.2,266.9 283.4,267.9 286.5,269.0 289.7,270.2 292.9,271.9 296.1,273.2 299.2,274.5 302.4,275.8 305.6,277.2 308.8,278.7 312.0,280.3 315.1,281.9 318.3,283.7 321.5,285.6 324.7,287.5 327.8,289.7 331.0,292.0 334.2,294.1 337.4,296.2 340.5,298.3 343.7,300.4 346.9,302.5 350.1,304.5 353.3,306.4 356.4,308.4 359.6,310.3 362.8,312.2 366.0,314.1 369.1,316.0 372.3,317.8 375.5,319.5 378.7,321.1 381.8,322.3 385.0,323.2 388.2,323.9 391.4,324.5 394.5,325.1 397.7,325.7 400.9,326.1 404.1,326.4 407.3,326.7 410.4,326.9 413.6,327.1 416.8,327.2 420.0,327.4 423.1,327.9 426.3,328.4"/>
<path d="M128.4,307.1 131.6,303.8 134.8,300.6 137.9,297.5 141.1,294.4 144.3,291.4 147.4,288.4 150.6,285.3 153.8,282.4 156.9,279.5 160.1,276.6 163.2,273.7 166.4,270.9 169.6,268.2 172.7,265.7 175.9,263.3 179.1,261.3 182.2,259.5 185.4,258.0 188.6,256.9 191.7,255.8 194.9,254.9 198.0,254.1 201.2,253.5 204.4,253.2 207.5,253.0 210.7,252.9 213.9,253.0 217.0,253.1 220.2,253.3 223.4,253.5 226.5,253.7 229.7,253.9 232.8,254.2 236.0,254.6 239.2,255.0 242.3,255.5 245.5,256.1 248.7,256.8 251.8,257.7 255.0,258.7 258.2,259.7 261.3,260.8 264.5,262.0 267.6,263.2 270.8,264.7 274.0,266.4 277.1,268.3 280.3,270.0 283.5,271.7 286.6,273.3 289.8,275.1 293.0,276.9 296.1,278.8 299.3,280.8 302.4,282.9 305.6,285.1 308.8,287.3 311.9,289.9 315.1,292.6 318.3,295.1 321.4,297.6 324.6,300.3 327.7,302.9 330.9,305.4 334.1,307.8 337.2,310.0 340.4,312.2 343.6,314.1 346.7,315.9 349.9,317.6 353.1,319.2 356.2,320.7 359.4,322.0 362.5,323.2 365.7,324.1 368.9,324.9 372.0,325.5 375.2,326.1 378.4,326.8 381.5,327.5 384.7,328.1 387.9,328.6 391.0,329.2 394.2,329.7 397.3,330.1 400.5,330.5 403.7,330.9 406.8,331.5 410.0,332.1 413.2,332.7 416.3,333.2 419.5,333.8 422.7,334.2 425.8,334.5 429.0,334.9 432.1,335.2 435.3,335.6 438.5,336.0 441.6,336.5"/>
<path d="M115.1,333.1 118.7,331.8 122.2,330.5 125.8,328.5 129.4,326.4 132.9,324.3 136.5,321.5 140.0,318.1 143.6,314.5 147.2,310.6 150.7,306.6 154.3,302.8 157.9,299.1 161.4,295.6 165.0,292.1 168.5,288.7 172.1,285.5 175.7,282.5 179.2,279.4 182.8,276.4 186.4,273.4 189.9,270.6 193.5,268.0 197.1,265.5 200.6,263.4 204.2,261.4 207.7,259.5 211.3,257.7 214.9,256.1 218.4,254.6 222.0,253.5 225.6,252.6 229.1,251.8 232.7,251.4 236.2,251.1 239.8,250.9 243.4,250.8 246.9,250.8 250.5,251.0 254.1,251.2 257.6,251.4 261.2,251.7 264.8,252.2 268.3,252.8 271.9,253.6 275.4,254.4 279.0,255.3 282.6,256.4 286.1,257.8 289.7,259.5 293.3,261.6 296.8,263.6 300.4,265.6 304.0,267.7 307.5,269.8 311.1,272.1 314.6,274.5 318.2,277.0 321.8,279.6 325.3,282.2 328.9,285.2 332.5,288.2 336.0,291.1 339.6,294.0 343.1,297.0 346.7,299.9 350.3,302.7 353.8,305.4 357.4,308.1 361.0,310.7 364.5,313.2 368.1,315.7 371.7,318.0 375.2,320.3 378.8,322.3 382.3,324.0 385.9,325.6 389.5,326.9 393.0,328.1 396.6,329.3 400.2,330.4 403.7,331.2 407.3,331.9 410.8,332.5 414.4,333.0 418.0,333.4 421.5,334.0 425.1,334.7 428.7,335.3 432.2,335.9 435.8,336.5 439.4,337.1 442.9,337.5 446.5,338.0 450.0,338.5 453.6,339.1 457.2,339.6 460.7,340.5 464.3,340.9 467.9,341.3"/>
<path d="M122.8,327.5 126.0,325.1 129.1,322.9 132.3,320.7 135.4,318.0 138.5,314.9 141.7,311.7 144.8,308.5 148.0,305.5 151.1,302.7 154.2,300.0 157.4,297.5 160.5,295.2 163.6,292.8 166.8,290.5 169.9,288.4 173.1,286.3 176.2,284.3 179.3,282.2 182.5,280.1 185.6,278.1 188.8,276.2 191.9,274.4 195.0,272.8 198.2,271.4 201.3,270.2 204.5,269.2 207.6,268.3 210.7,267.3 213.9,266.6 217.0,266.0 220.1,265.6 223.3,265.3 226.4,265.1 229.6,265.0 232.7,264.9 235.8,264.8 239.0,264.7 242.1,264.5 245.3,264.2 248.4,263.9 251.5,263.6 254.7,263.2 257.8,262.7 261.0,262.1 264.1,261.5 267.2,261.0 270.4,260.6 273.5,260.2 276.6,259.8 279.8,259.6 282.9,259.5 286.1,259.8 289.2,260.3 292.3,261.1 295.5,261.8 298.6,262.7 301.8,263.6 304.9,264.8 308.0,266.2 311.2,267.7 314.3,269.5 317.5,271.6 320.6,273.7 323.7,276.0 326.9,278.6 330.0,281.4 333.2,284.3 336.3,287.1 339.4,290.1 342.6,293.2 345.7,296.2 348.8,299.1 352.0,301.9 355.1,304.6 358.3,307.2 361.4,309.6 364.5,311.9 367.7,314.0 370.8,315.9 374.0,317.6 377.1,319.2 380.2,320.5 383.4,321.9 386.5,323.1 389.7,324.1 392.8,325.2 395.9,326.4 399.1,327.5 402.2,328.4 405.3,329.5 408.5,330.4 411.6,331.4 414.8,332.3 417.9,333.2 421.0,334.4 424.2,335.5 427.3,336.5 430.5,337.3 433.6,338.1"/>
<path d="M68.7,342.6 72.7,342.2 76.7,341.6 80.7,340.9 84.7,340.2 88.7,339.4 92.7,338.3 96.7,336.9 100.7,336.3 104.7,334.9 108.7,333.2 112.7,331.9 116.7,330.0 120.7,328.0 124.7,325.4 128.7,323.0 132.7,320.2 136.7,316.5 140.7,312.6 144.7,308.5 148.6,304.4 152.6,300.5 156.6,296.7 160.6,292.9 164.6,289.0 168.6,285.2 172.6,281.5 176.6,277.7 180.6,274.0 184.6,270.4 188.6,267.0 192.6,264.2 196.6,261.7 200.6,259.7 204.6,257.9 208.6,256.4 212.6,255.1 216.6,254.3 220.6,253.7 224.6,253.3 228.5,253.3 232.5,253.4 236.5,253.5 240.5,253.8 244.5,254.2 248.5,254.7 252.5,255.4 256.5,256.1 260.5,256.9 264.5,257.9 268.5,259.0 272.5,260.2 276.5,261.3 280.5,262.6 284.5,264.1 288.5,266.1 292.5,267.9 296.5,269.6 300.5,271.3 304.5,273.1 308.5,275.1 312.4,277.3 316.4,279.8 320.4,282.4 324.4,285.5 328.4,288.9 332.4,292.1 336.4,295.5 340.4,298.9 344.4,302.2 348.4,305.2 352.4,308.2 356.4,310.9 360.4,313.5 364.4,315.9 368.4,317.9 372.4,319.8 376.4,321.5 380.4,322.7 384.4,324.0 388.4,325.0 392.3,326.2 396.3,327.3 400.3,328.3 404.3,329.3 408.3,330.2 412.3,331.0 416.3,331.8 420.3,332.9 424.3,334.0 428.3,335.0 432.3,335.9 436.3,336.7 440.3,337.4 444.3,338.1 448.3,338.7 452.3,339.4 456.3,340.3 460.3,341.0 464.3,341.6"/>
<path d="M80.1,347.0 84.4,346.7 88.6,346.0 92.9,345.2 97.1,344.2 101.4,342.8 105.7,341.3 109.9,339.3 114.2,337.5 118.4,335.1 122.7,332.7 126.9,329.4 131.2,326.3 135.4,322.7 139.7,318.3 143.9,313.6 148.2,309.2 152.4,305.0 156.7,301.0 160.9,297.3 165.2,293.5 169.4,289.8 173.7,286.2 177.9,282.7 182.2,279.0 186.4,275.4 190.7,271.8 194.9,268.6 199.2,265.7 203.5,263.0 207.7,260.5 212.0,258.2 216.2,256.0 220.5,254.3 224.7,252.9 229.0,251.7 233.2,250.7 237.5,249.9 241.7,249.2 246.0,248.8 250.2,248.6 254.5,248.6 258.7,249.0 263.0,249.8 267.2,251.0 271.5,252.5 275.7,254.2 280.0,256.0 284.2,258.0 288.5,260.2 292.7,263.0 297.0,265.3 301.3,267.6 305.5,270.0 309.8,272.5 314.0,275.1 318.3,278.0 322.5,281.1 326.8,284.5 331.0,288.3 335.3,292.0 339.5,295.7 343.8,299.3 348.0,302.8 352.3,305.9 356.5,309.0 360.8,311.7 365.0,314.1 369.3,316.4 373.5,318.5 377.8,320.4 382.0,321.9 386.3,323.2 390.6,324.3 394.8,325.7 399.1,327.0 403.3,328.1 407.6,329.2 411.8,330.3 416.1,331.1 420.3,332.1 424.6,333.2 428.8,334.2 433.1,335.2 437.3,336.1 441.6,336.7 445.8,337.3 450.1,337.8 454.3,338.4 458.6,339.1 462.8,339.7 467.1,340.1 471.3,340.5 475.6,340.7 479.8,341.1 484.1,341.5 488.4,341.8 492.6,342.1 496.9,342.4 501.1,342.8"/>
<path d="M82.2,331.4 86.0,330.5 89.7,329.5 93.5,328.3 97.2,326.5 100.9,326.0 104.7,325.0 108.4,323.7 112.2,322.8 115.9,321.3 119.6,319.7 123.4,317.5 127.1,315.4 130.9,313.3 134.6,310.5 138.3,307.4 142.1,304.2 145.8,300.8 149.5,297.2 153.3,293.8 157.0,290.7 160.8,287.7 164.5,284.8 168.2,282.1 172.0,279.5 175.7,276.8 179.5,274.2 183.2,271.6 186.9,269.2 190.7,267.0 194.4,265.1 198.2,263.6 201.9,262.4 205.6,261.5 209.4,260.8 213.1,260.5 216.9,260.7 220.6,261.3 224.3,262.2 228.1,263.6 231.8,265.3 235.5,267.1 239.3,269.1 243.0,271.1 246.8,273.2 250.5,275.1 254.2,276.9 258.0,278.5 261.7,279.5 265.5,280.1 269.2,280.4 272.9,280.3 276.7,279.9 280.4,279.3 284.2,278.7 287.9,278.3 291.6,277.7 295.4,277.0 299.1,276.3 302.9,275.8 306.6,275.6 310.3,275.6 314.1,276.2 317.8,277.2 321.5,278.5 325.3,280.4 329.0,282.6 332.8,284.9 336.5,287.5 340.2,290.3 344.0,293.1 347.7,295.9 351.5,298.7 355.2,301.4 358.9,304.1 362.7,306.6 366.4,308.9 370.2,311.2 373.9,313.2 377.6,315.0 381.4,316.6 385.1,318.3 388.9,320.0 392.6,321.8 396.3,323.5 400.1,325.0 403.8,326.6 407.5,328.1 411.3,329.5 415.0,330.8 418.8,332.4 422.5,334.0 426.2,335.5 430.0,336.6 433.7,337.7 437.5,338.6 441.2,339.5 444.9,340.4 448.7,341.3 452.4,342.1"/>
<path d="M107.3,337.1 111.2,335.1 115.2,332.8 119.1,330.0 123.0,327.0 127.0,324.0 130.9,320.3 134.8,316.2 138.8,311.7 142.7,307.1 146.6,302.9 150.6,299.2 154.5,295.9 158.4,292.6 162.4,289.5 166.3,286.7 170.2,284.0 174.2,281.4 178.1,278.9 182.0,276.5 186.0,274.3 189.9,272.5 193.8,270.9 197.8,269.4 201.7,268.0 205.6,266.4 209.5,264.7 213.5,263.2 217.4,261.7 221.3,260.3 225.3,259.0 229.2,257.9 233.1,256.9 237.1,256.2 241.0,255.9 244.9,255.9 248.9,256.4 252.8,257.3 256.7,258.6 260.7,260.3 264.6,262.3 268.5,264.3 272.5,266.4 276.4,268.5 280.3,270.6 284.3,272.7 288.2,274.8 292.1,276.3 296.1,277.5 300.0,278.6 303.9,279.6 307.9,280.5 311.8,281.7 315.7,282.9 319.7,284.4 323.6,286.4 327.5,288.5 331.5,290.5 335.4,292.9 339.3,295.4 343.3,297.8 347.2,300.2 351.1,302.7 355.1,305.0 359.0,307.3 362.9,309.5 366.9,311.6 370.8,313.6 374.7,315.3 378.7,316.7 382.6,317.9 386.5,319.0 390.5,320.2 394.4,321.3 398.3,322.3 402.3,323.3 406.2,324.3 410.1,325.0 414.1,325.9 418.0,326.9 421.9,327.9 425.9,329.0 429.8,330.1 433.7,331.0 437.7,331.8 441.6,332.6 445.5,333.4 449.5,334.2 453.4,335.2 457.3,336.0 461.3,336.6 465.2,337.2 469.1,337.6 473.1,338.2 477.0,338.7 480.9,339.2 484.9,339.7 488.8,340.2 492.7,340.7 496.7,341.2"/>
<path d="M78.7,343.4 82.3,342.9 85.9,342.3 89.5,341.7 93.1,340.8 96.7,339.6 100.2,339.1 103.8,337.8 107.4,336.3 111.0,335.0 114.6,333.4 118.2,331.6 121.8,329.4 125.4,327.1 129.0,324.8 132.6,322.1 136.1,318.8 139.7,315.3 143.3,311.6 146.9,307.9 150.5,304.5 154.1,301.2 157.7,297.9 161.3,294.6 164.9,291.2 168.5,287.8 172.0,284.4 175.6,280.9 179.2,277.3 182.8,273.7 186.4,270.2 190.0,266.9 193.6,263.8 197.2,261.1 200.8,258.7 204.4,256.6 207.9,254.8 211.5,253.2 215.1,252.0 218.7,251.3 222.3,251.0 225.9,251.0 229.5,251.4 233.1,252.0 236.7,252.7 240.3,253.6 243.9,254.7 247.4,255.8 251.0,257.0 254.6,258.1 258.2,259.4 261.8,260.5 265.4,261.7 269.0,262.8 272.6,263.9 276.2,265.0 279.8,266.1 283.3,267.3 286.9,268.8 290.5,270.5 294.1,271.9 297.7,273.4 301.3,274.9 304.9,276.4 308.5,278.1 312.1,279.9 315.7,281.9 319.2,284.0 322.8,286.4 326.4,289.0 330.0,291.7 333.6,294.2 337.2,296.8 340.8,299.3 344.4,301.7 348.0,304.0 351.6,306.1 355.1,308.1 358.7,309.9 362.3,311.6 365.9,313.2 369.5,314.7 373.1,316.1 376.7,317.3 380.3,318.2 383.9,318.7 387.5,319.0 391.0,319.5 394.6,320.1 398.2,320.6 401.8,321.1 405.4,321.7 409.0,322.2 412.6,322.6 416.2,323.1 419.8,323.8 423.4,324.5 427.0,325.4 430.5,326.5 434.1,327.6"/>
<path d="M64.5,335.9 68.3,335.4 72.1,334.9 75.9,334.2 79.7,333.5 83.5,332.6 87.3,331.6 91.1,330.3 94.9,328.7 98.7,327.9 102.4,326.7 106.2,325.4 110.0,324.5 113.8,323.1 117.6,321.8 121.4,319.8 125.2,318.1 129.0,316.5 132.8,314.2 136.6,311.7 140.4,309.1 144.2,306.5 148.0,303.8 151.8,301.1 155.6,298.7 159.3,296.2 163.1,293.7 166.9,291.3 170.7,288.8 174.5,286.2 178.3,283.5 182.1,280.7 185.9,278.0 189.7,275.5 193.5,273.1 197.3,270.9 201.1,269.0 204.9,267.0 208.7,265.0 212.5,263.2 216.2,261.8 220.0,260.5 223.8,259.4 227.6,258.6 231.4,257.9 235.2,257.3 239.0,256.9 242.8,256.6 246.6,256.5 250.4,256.5 254.2,256.5 258.0,256.7 261.8,257.0 265.6,257.3 269.4,257.6 273.2,257.9 276.9,258.3 280.7,258.9 284.5,259.8 288.3,261.1 292.1,262.2 295.9,263.5 299.7,265.0 303.5,266.8 307.3,268.9 311.1,271.4 314.9,274.3 318.7,277.3 322.5,280.8 326.3,284.6 330.1,288.3 333.8,292.1 337.6,295.9 341.4,299.7 345.2,303.1 349.0,306.5 352.8,309.6 356.6,312.4 360.4,314.9 364.2,317.2 368.0,319.3 371.8,321.1 375.6,322.6 379.4,323.7 383.2,324.4 387.0,325.0 390.8,325.7 394.5,326.2 398.3,326.6 402.1,327.0 405.9,327.4 409.7,327.6 413.5,327.8 417.3,328.4 421.1,329.0 424.9,329.6 428.7,330.4 432.5,331.3 436.3,332.0 440.1,332.8"/>
<path d="M94.2,334.5 97.6,333.4 101.0,332.0 104.4,331.2 107.8,330.1 111.2,328.6 114.6,327.0 118.0,325.4 121.4,323.3 124.8,321.2 128.2,318.2 131.6,315.6 135.0,312.8 138.4,309.6 141.8,306.0 145.2,302.3 148.6,298.7 152.0,295.1 155.4,291.9 158.8,289.1 162.2,286.7 165.6,284.5 169.0,282.6 172.4,281.0 175.8,279.5 179.2,278.1 182.6,276.7 186.0,275.4 189.4,274.0 192.8,272.6 196.2,271.4 199.6,270.1 203.0,268.9 206.4,267.7 209.8,266.3 213.2,264.9 216.6,263.4 220.0,262.0 223.4,260.7 226.8,259.5 230.2,258.4 233.6,257.4 237.0,256.5 240.4,255.7 243.8,255.0 247.2,254.4 250.6,254.0 254.0,253.8 257.4,253.7 260.8,253.8 264.2,254.1 267.6,254.7 271.0,255.4 274.4,256.3 277.8,257.3 281.2,258.4 284.6,259.7 288.0,261.2 291.4,263.0 294.8,265.0 298.2,266.8 301.6,268.5 305.0,270.2 308.4,272.0 311.8,273.8 315.2,275.6 318.6,277.6 322.0,279.6 325.4,281.7 328.8,284.2 332.2,286.8 335.6,289.5 339.0,292.1 342.4,294.9 345.8,297.7 349.2,300.5 352.6,303.2 356.0,305.9 359.4,308.6 362.8,311.1 366.2,313.6 369.6,316.0 373.0,318.2 376.4,320.3 379.8,322.3 383.2,324.4 386.6,326.4 390.0,328.2 393.4,329.8 396.8,331.6 400.2,333.2 403.6,334.6 407.0,336.0 410.4,337.2 413.8,338.4 417.2,339.4 420.6,340.3 424.0,341.4 427.4,342.2 430.8,342.8"/>
<path d="M90.7,336.0 94.5,334.8 98.3,333.2 102.1,332.5 105.9,331.0 109.7,329.1 113.5,327.6 117.4,325.5 121.2,323.3 125.0,320.3 128.8,317.4 132.6,314.5 136.4,310.7 140.3,306.7 144.1,302.5 147.9,298.1 151.7,294.0 155.5,290.1 159.3,286.4 163.1,282.8 167.0,279.4 170.8,276.2 174.6,273.2 178.4,270.2 182.2,267.3 186.0,264.6 189.9,262.0 193.7,259.8 197.5,257.8 201.3,256.1 205.1,254.6 208.9,253.1 212.7,251.7 216.6,250.4 220.4,249.5 224.2,248.7 228.0,248.1 231.8,247.7 235.6,247.4 239.5,247.4 243.3,247.6 247.1,248.1 250.9,248.8 254.7,249.8 258.5,251.0 262.3,252.7 266.2,254.6 270.0,256.7 273.8,258.9 277.6,261.2 281.4,263.6 285.2,266.3 289.1,269.2 292.9,272.1 296.7,274.8 300.5,277.3 304.3,279.9 308.1,282.4 311.9,284.9 315.8,287.5 319.6,290.1 323.4,293.0 327.2,296.2 331.0,299.4 334.8,302.3 338.7,305.2 342.5,308.0 346.3,310.6 350.1,313.0 353.9,315.1 357.7,317.0 361.5,318.7 365.4,320.2 369.2,321.4 373.0,322.5 376.8,323.5 380.6,324.0 384.4,324.3 388.2,324.3 392.1,324.5 395.9,324.9 399.7,325.2 403.5,325.5 407.3,325.9 411.1,326.3 415.0,326.7 418.8,327.2 422.6,327.9 426.4,328.7 430.2,329.7 434.0,330.7 437.8,331.5 441.7,332.3 445.5,333.0 449.3,333.7 453.1,334.3 456.9,335.1 460.7,335.9 464.6,336.4 468.4,336.9"/>
<path d="M84.0,331.3 87.8,330.3 91.7,329.2 95.6,327.9 99.4,326.4 103.3,325.9 107.2,324.9 111.1,323.8 114.9,322.7 118.8,321.3 122.7,319.4 126.5,317.3 130.4,315.2 134.3,312.6 138.1,309.3 142.0,305.8 145.9,302.0 149.8,297.9 153.6,294.0 157.5,290.3 161.4,286.7 165.2,283.3 169.1,280.2 173.0,277.2 176.8,274.4 180.7,271.7 184.6,269.3 188.5,267.1 192.3,265.2 196.2,263.7 200.1,262.6 203.9,261.8 207.8,261.0 211.7,260.3 215.5,259.7 219.4,259.4 223.3,259.3 227.2,259.2 231.0,259.2 234.9,259.3 238.8,259.4 242.6,259.6 246.5,259.9 250.4,260.4 254.2,260.9 258.1,261.6 262.0,262.4 265.9,263.4 269.7,264.5 273.6,265.6 277.5,266.8 281.3,268.1 285.2,269.6 289.1,271.5 292.9,273.2 296.8,274.8 300.7,276.3 304.6,277.9 308.4,279.5 312.3,281.2 316.2,283.1 320.0,285.2 323.9,287.5 327.8,290.2 331.6,292.9 335.5,295.4 339.4,298.2 343.3,300.9 347.1,303.4 351.0,305.8 354.9,308.1 358.7,310.2 362.6,312.2 366.5,314.2 370.3,315.9 374.2,317.5 378.1,319.0 382.0,320.3 385.8,321.9 389.7,323.3 393.6,325.0 397.4,326.6 401.3,328.0 405.2,329.5 409.0,330.9 412.9,332.2 416.8,333.5 420.7,335.1 424.5,336.7 428.4,337.8 432.3,338.8 436.1,339.8 440.0,340.5 443.9,341.2 447.7,342.0 451.6,342.7 455.5,343.5 459.3,344.5 463.2,345.1 467.1,345.7"/>
<path d="M115.9,323.0 119.4,321.2 122.8,319.5 126.3,317.2 129.8,315.3 133.2,313.4 136.7,311.1 140.1,308.6 143.6,306.0 147.0,303.3 150.5,300.5 153.9,298.0 157.4,295.6 160.8,293.4 164.3,291.1 167.7,288.9 171.2,286.7 174.7,284.4 178.1,282.1 181.6,279.6 185.0,277.1 188.5,274.6 191.9,272.1 195.4,270.0 198.8,268.1 202.3,266.4 205.7,265.0 209.2,263.7 212.7,262.5 216.1,261.5 219.6,260.7 223.0,260.1 226.5,259.6 229.9,259.3 233.4,259.0 236.8,258.7 240.3,258.3 243.7,257.9 247.2,257.6 250.6,257.4 254.1,257.1 257.6,257.0 261.0,256.9 264.5,257.0 267.9,257.3 271.4,257.8 274.8,258.3 278.3,258.9 281.7,259.7 285.2,260.6 288.6,261.7 292.1,263.3 295.6,264.7 299.0,266.1 302.5,267.5 305.9,269.1 309.4,270.8 312.8,272.6 316.3,274.8 319.7,277.1 323.2,279.6 326.6,282.4 330.1,285.6 333.5,288.9 337.0,292.0 340.5,295.4 343.9,298.8 347.4,302.1 350.8,305.2 354.3,308.3 357.7,311.1 361.2,313.7 364.6,316.1 368.1,318.3 371.5,320.2 375.0,321.9 378.5,323.4 381.9,324.5 385.4,325.4 388.8,326.0 392.3,326.6 395.7,327.3 399.2,327.9 402.6,328.4 406.1,328.9 409.5,329.4 413.0,329.9 416.5,330.4 419.9,330.9 423.4,331.7 426.8,332.5 430.3,333.3 433.7,334.2 437.2,335.0 440.6,335.7 444.1,336.4 447.5,337.1 451.0,337.7 454.4,338.4 457.9,339.1"/>
<path d="M86.1,332.3 89.8,331.4 93.4,330.3 97.1,329.2 100.8,328.1 104.4,327.7 108.1,326.9 111.8,325.9 115.4,325.2 119.1,324.2 122.8,323.1 126.4,321.5 130.1,320.2 133.8,318.8 137.5,316.6 141.1,314.3 144.8,311.8 148.5,309.2 152.1,306.7 155.8,304.3 159.5,302.3 163.1,300.2 166.8,298.1 170.5,296.3 174.2,294.3 177.8,292.2 181.5,289.9 185.2,287.5 188.8,284.9 192.5,282.1 196.2,279.3 199.8,276.6 203.5,273.8 207.2,270.9 210.9,267.9 214.5,265.0 218.2,262.4 221.9,260.1 225.5,258.1 229.2,256.5 232.9,255.3 236.5,254.3 240.2,253.5 243.9,252.9 247.6,252.3 251.2,251.7 254.9,251.0 258.6,250.2 262.2,249.4 265.9,248.6 269.6,247.8 273.2,247.0 276.9,246.4 280.6,246.1 284.2,246.2 287.9,246.8 291.6,248.5 295.3,250.2 298.9,252.4 302.6,255.0 306.3,258.1 309.9,261.7 313.6,265.5 317.3,269.7 320.9,273.9 324.6,278.3 328.3,282.9 332.0,287.6 335.6,291.9 339.3,296.2 343.0,300.3 346.6,304.1 350.3,307.6 354.0,310.7 357.6,313.5 361.3,316.0 365.0,318.2 368.7,320.2 372.3,321.9 376.0,323.5 379.7,324.7 383.3,325.6 387.0,326.4 390.7,327.0 394.3,327.9 398.0,328.8 401.7,329.5 405.4,330.3 409.0,331.0 412.7,331.7 416.4,332.3 420.0,333.0 423.7,333.8 427.4,334.6 431.0,335.3 434.7,336.0 438.4,336.6 442.0,337.1 445.7,337.5 449.4,337.9"/>
<path d="M116.5,323.4 119.7,321.8 122.9,319.6 126.1,317.6 129.3,315.6 132.5,313.1 135.8,310.2 139.0,307.1 142.2,303.9 145.4,300.6 148.6,297.2 151.8,293.8 155.0,290.7 158.3,287.6 161.5,284.5 164.7,281.6 167.9,278.9 171.1,276.3 174.3,273.9 177.6,271.5 180.8,269.4 184.0,267.5 187.2,265.9 190.4,264.7 193.6,263.7 196.8,263.2 200.1,262.9 203.3,262.7 206.5,262.6 209.7,262.5 212.9,262.5 216.1,262.5 219.4,262.6 222.6,262.6 225.8,262.6 229.0,262.5 232.2,262.3 235.4,261.9 238.6,261.6 241.9,261.1 245.1,260.7 248.3,260.3 251.5,259.9 254.7,259.5 257.9,259.2 261.2,259.0 264.4,258.9 267.6,258.9 270.8,258.9 274.0,258.9 277.2,259.0 280.4,259.2 283.7,259.6 286.9,260.3 290.1,261.2 293.3,261.9 296.5,262.8 299.7,263.7 303.0,265.0 306.2,266.5 309.4,268.2 312.6,270.4 315.8,272.9 319.0,275.6 322.2,278.7 325.5,282.1 328.7,285.8 331.9,289.4 335.1,293.2 338.3,297.1 341.5,300.9 344.8,304.6 348.0,308.0 351.2,311.3 354.4,314.4 357.6,317.2 360.8,319.7 364.0,322.0 367.3,323.9 370.5,325.6 373.7,327.1 376.9,328.2 380.1,329.0 383.3,329.3 386.6,329.3 389.8,329.4 393.0,329.6 396.2,329.6 399.4,329.5 402.6,329.5 405.8,329.3 409.1,329.2 412.3,329.0 415.5,328.8 418.7,328.9 421.9,328.9 425.1,329.1 428.4,329.5 431.6,329.9 434.8,330.4"/>
<path d="M61.6,338.6 65.7,338.2 69.8,337.8 73.9,337.5 78.0,336.9 82.1,336.3 86.2,335.6 90.3,334.9 94.4,333.9 98.5,332.8 102.6,332.4 106.8,331.5 110.9,330.6 115.0,329.6 119.1,328.3 123.2,326.2 127.3,324.3 131.4,322.2 135.5,319.0 139.6,315.6 143.7,311.9 147.8,308.0 151.9,304.2 156.0,300.8 160.1,297.6 164.2,294.5 168.3,291.7 172.4,289.0 176.5,286.3 180.6,283.5 184.7,280.7 188.8,277.8 192.9,274.9 197.0,272.1 201.1,269.2 205.2,266.3 209.3,263.3 213.5,260.4 217.6,257.9 221.7,255.7 225.8,254.0 229.9,252.8 234.0,252.1 238.1,251.7 242.2,251.7 246.3,251.9 250.4,252.4 254.5,252.9 258.6,253.5 262.7,254.2 266.8,254.8 270.9,255.3 275.0,255.7 279.1,256.2 283.2,256.9 287.3,258.0 291.4,259.5 295.5,261.0 299.6,262.6 303.7,264.7 307.8,267.1 311.9,270.0 316.0,273.2 320.2,276.7 324.3,280.5 328.4,284.7 332.5,288.8 336.6,292.9 340.7,296.9 344.8,300.7 348.9,304.2 353.0,307.5 357.1,310.4 361.2,313.1 365.3,315.5 369.4,317.5 373.5,319.4 377.6,320.9 381.7,322.0 385.8,323.0 389.9,323.9 394.0,325.1 398.1,326.1 402.2,327.0 406.3,328.0 410.4,329.0 414.5,329.9 418.6,331.1 422.7,332.3 426.9,333.6 431.0,334.8 435.1,335.9 439.2,336.7 443.3,337.5 447.4,338.3 451.5,339.0 455.6,339.8 459.7,340.6 463.8,341.0 467.9,341.5"/>
<path d="M96.1,334.4 99.6,333.5 103.1,331.9 106.7,330.1 110.2,328.8 113.7,327.1 117.2,325.5 120.8,323.4 124.3,321.7 127.8,320.2 131.3,318.3 134.9,316.3 138.4,314.2 141.9,312.1 145.4,310.1 149.0,308.4 152.5,306.8 156.0,305.3 159.5,303.6 163.1,301.8 166.6,300.0 170.1,298.0 173.6,295.7 177.2,293.2 180.7,290.4 184.2,287.5 187.7,284.4 191.3,281.2 194.8,278.0 198.3,274.6 201.8,271.2 205.4,267.6 208.9,263.9 212.4,260.3 215.9,257.1 219.5,254.1 223.0,251.3 226.5,249.1 230.0,247.2 233.6,245.7 237.1,244.5 240.6,243.6 244.1,242.9 247.7,242.4 251.2,242.1 254.7,241.8 258.2,241.6 261.8,241.7 265.3,242.0 268.8,242.3 272.3,242.7 275.9,243.4 279.4,244.3 282.9,245.6 286.4,247.5 290.0,249.5 293.5,251.5 297.0,253.8 300.5,256.5 304.1,259.4 307.6,262.5 311.1,266.1 314.6,269.9 318.2,273.9 321.7,278.2 325.2,282.8 328.7,287.4 332.3,291.8 335.8,296.4 339.3,300.8 342.8,304.8 346.4,308.6 349.9,312.0 353.4,315.0 356.9,317.7 360.5,320.0 364.0,322.0 367.5,323.7 371.0,325.2 374.6,326.3 378.1,327.1 381.6,327.7 385.2,328.0 388.7,328.4 392.2,329.0 395.7,329.4 399.3,329.9 402.8,330.4 406.3,331.0 409.8,331.4 413.4,331.8 416.9,332.4 420.4,333.1 423.9,333.6 427.5,334.3 431.0,335.0 434.5,335.5 438.0,335.9 441.6,336.2 445.1,336.6"/>
</g>
<path d="M125.30,314.50 C126.23,314.25 129.17,313.58 130.90,313.00 C132.63,312.42 134.10,311.77 135.70,311.00 C137.30,310.23 138.90,309.48 140.50,308.40 C142.10,307.32 143.62,305.98 145.30,304.50 C146.98,303.02 148.83,301.28 150.60,299.50 C152.37,297.72 154.13,295.75 155.90,293.80 C157.67,291.85 159.43,289.77 161.20,287.80 C162.97,285.83 164.73,283.80 166.50,282.00 C168.27,280.20 170.33,278.50 171.80,277.00 C173.27,275.50 173.83,274.58 175.30,273.00 C176.77,271.42 178.83,269.20 180.60,267.50 C182.37,265.80 184.13,264.15 185.90,262.80 C187.67,261.45 189.43,260.37 191.20,259.40 C192.97,258.43 194.73,257.67 196.50,257.00 C198.27,256.33 200.03,255.83 201.80,255.40 C203.57,254.97 205.57,254.62 207.10,254.40 C208.63,254.18 209.63,254.12 211.00,254.10 C212.37,254.08 213.70,254.05 215.30,254.30 C216.90,254.55 218.83,254.92 220.60,255.60 C222.37,256.28 224.13,257.40 225.90,258.40 C227.67,259.40 229.43,260.50 231.20,261.60 C232.97,262.70 234.73,263.93 236.50,265.00 C238.27,266.07 240.03,267.07 241.80,268.00 C243.57,268.93 245.73,270.02 247.10,270.60 C248.47,271.18 248.63,271.22 250.00,271.50 C251.37,271.78 253.53,272.17 255.30,272.30 C257.07,272.43 258.83,272.48 260.60,272.30 C262.37,272.12 264.13,271.75 265.90,271.20 C267.67,270.65 269.43,269.82 271.20,269.00 C272.97,268.18 274.73,267.23 276.50,266.30 C278.27,265.37 280.03,264.37 281.80,263.40 C283.57,262.43 285.68,261.25 287.10,260.50 C288.52,259.75 288.88,259.40 290.30,258.90 C291.72,258.40 293.83,257.80 295.60,257.50 C297.37,257.20 299.13,257.05 300.90,257.10 C302.67,257.15 304.43,257.33 306.20,257.80 C307.97,258.27 309.73,258.93 311.50,259.90 C313.27,260.87 315.03,262.08 316.80,263.60 C318.57,265.12 320.48,267.13 322.10,269.00 C323.72,270.87 324.88,272.53 326.50,274.80 C328.12,277.07 330.03,280.07 331.80,282.60 C333.57,285.13 335.73,288.23 337.10,290.00 C338.47,291.77 338.63,291.73 340.00,293.20 C341.37,294.67 343.53,296.83 345.30,298.80 C347.07,300.77 348.83,302.92 350.60,305.00 C352.37,307.08 354.13,309.33 355.90,311.30 C357.67,313.27 359.43,315.13 361.20,316.80 C362.97,318.47 364.73,319.97 366.50,321.30 C368.27,322.63 370.03,323.80 371.80,324.80 C373.57,325.80 375.73,326.73 377.10,327.30 C378.47,327.87 378.63,327.90 380.00,328.20 C381.37,328.50 383.53,328.87 385.30,329.10 C387.07,329.33 388.83,329.52 390.60,329.60 C392.37,329.68 394.13,329.72 395.90,329.60 C397.67,329.48 399.43,329.17 401.20,328.90 C402.97,328.63 404.73,328.28 406.50,328.00 C408.27,327.72 410.03,327.47 411.80,327.20 C413.57,326.93 415.73,326.58 417.10,326.40 C418.47,326.22 418.23,326.25 420.00,326.10 C421.77,325.95 426.42,325.60 427.70,325.50" fill="none" stroke="#ea7f6c" stroke-width="1.0"/>
<path d="M55.30,347.90 C58.58,347.87 69.88,347.88 75.00,347.70 C80.12,347.52 83.22,347.03 86.00,346.80 C88.78,346.57 89.83,346.53 91.70,346.30 C93.57,346.07 95.35,345.87 97.20,345.40 C99.05,344.93 100.93,344.37 102.80,343.50 C104.67,342.63 106.53,341.40 108.40,340.20 C110.27,339.00 111.97,337.92 114.00,336.30 C116.03,334.68 118.72,332.17 120.60,330.50 C122.48,328.83 123.58,327.75 125.30,326.30 C127.02,324.85 129.17,323.22 130.90,321.80 C132.63,320.38 134.10,319.17 135.70,317.80 C137.30,316.43 138.90,315.07 140.50,313.60 C142.10,312.13 143.62,310.63 145.30,309.00 C146.98,307.37 148.83,305.48 150.60,303.80 C152.37,302.12 154.13,300.48 155.90,298.90 C157.67,297.32 159.43,295.85 161.20,294.30 C162.97,292.75 164.73,291.12 166.50,289.60 C168.27,288.08 170.03,286.67 171.80,285.20 C173.57,283.73 175.63,282.03 177.10,280.80 C178.57,279.57 179.13,279.03 180.60,277.80 C182.07,276.57 184.13,274.83 185.90,273.40 C187.67,271.97 189.43,270.50 191.20,269.20 C192.97,267.90 194.73,266.70 196.50,265.60 C198.27,264.50 200.03,263.52 201.80,262.60 C203.57,261.68 205.55,260.82 207.10,260.10 C208.65,259.38 209.55,258.93 211.10,258.30 C212.65,257.67 214.63,256.85 216.40,256.30 C218.17,255.75 219.93,255.37 221.70,255.00 C223.47,254.63 225.23,254.32 227.00,254.10 C228.77,253.88 230.53,253.80 232.30,253.70 C234.07,253.60 235.83,253.53 237.60,253.50 C239.37,253.47 241.13,253.47 242.90,253.50 C244.67,253.53 246.83,253.63 248.20,253.70 C249.57,253.77 249.73,253.80 251.10,253.90 C252.47,254.00 254.63,254.13 256.40,254.30 C258.17,254.47 259.93,254.65 261.70,254.90 C263.47,255.15 265.23,255.47 267.00,255.80 C268.77,256.13 270.53,256.52 272.30,256.90 C274.07,257.28 275.83,257.65 277.60,258.10 C279.37,258.55 281.13,259.02 282.90,259.60 C284.67,260.18 286.78,260.97 288.20,261.60 C289.62,262.23 289.98,262.68 291.40,263.40 C292.82,264.12 294.93,265.05 296.70,265.90 C298.47,266.75 300.23,267.58 302.00,268.50 C303.77,269.42 305.53,270.38 307.30,271.40 C309.07,272.42 310.83,273.45 312.60,274.60 C314.37,275.75 316.13,277.03 317.90,278.30 C319.67,279.57 321.77,281.08 323.20,282.20 C324.63,283.32 325.07,283.73 326.50,285.00 C327.93,286.27 330.03,288.25 331.80,289.80 C333.57,291.35 335.73,293.12 337.10,294.30 C338.47,295.48 338.63,295.70 340.00,296.90 C341.37,298.10 343.53,300.05 345.30,301.50 C347.07,302.95 348.83,304.27 350.60,305.60 C352.37,306.93 354.13,308.28 355.90,309.50 C357.67,310.72 359.43,311.82 361.20,312.90 C362.97,313.98 364.73,315.03 366.50,316.00 C368.27,316.97 370.03,317.83 371.80,318.70 C373.57,319.57 375.73,320.60 377.10,321.20 C378.47,321.80 378.63,321.78 380.00,322.30 C381.37,322.82 383.53,323.70 385.30,324.30 C387.07,324.90 388.83,325.32 390.60,325.90 C392.37,326.48 394.13,327.18 395.90,327.80 C397.67,328.42 399.43,328.98 401.20,329.60 C402.97,330.22 404.73,330.88 406.50,331.50 C408.27,332.12 410.03,332.73 411.80,333.30 C413.57,333.87 415.58,334.45 417.10,334.90 C418.62,335.35 418.00,335.18 420.90,336.00 C423.80,336.82 429.95,338.55 434.50,339.80 C439.05,341.05 444.78,342.58 448.20,343.50 C451.62,344.42 453.03,344.82 455.00,345.30 C456.97,345.78 457.50,346.05 460.00,346.40 C462.50,346.75 466.67,347.17 470.00,347.40 C473.33,347.63 471.37,347.70 480.00,347.80 C488.63,347.90 514.83,347.97 521.80,348.00" fill="none" stroke="#236ea8" stroke-width="1.3" stroke-dasharray="3.0,2.0"/>
<rect x="32.4" y="224.0" width="512.9" height="130.0" fill="none" stroke="#9a9a9a" stroke-width="1.1"/>
<line x1="30.4" y1="348.00" x2="32.4" y2="348.00" stroke="#8a8a8a" stroke-width="0.7"/>
<text x="28.799999999999997" y="351" text-anchor="end" font-size="9.0" dx="0.4">0.0</text>
<line x1="30.4" y1="323.38" x2="32.4" y2="323.38" stroke="#8a8a8a" stroke-width="0.7"/>
<text x="28.799999999999997" y="327" text-anchor="end" font-size="9.0" dx="0.4">0.1</text>
<line x1="30.4" y1="298.76" x2="32.4" y2="298.76" stroke="#8a8a8a" stroke-width="0.7"/>
<text x="28.799999999999997" y="302" text-anchor="end" font-size="9.0" dx="0.4">0.2</text>
<line x1="30.4" y1="274.14" x2="32.4" y2="274.14" stroke="#8a8a8a" stroke-width="0.7"/>
<text x="28.799999999999997" y="277" text-anchor="end" font-size="9.0" dx="0.4">0.3</text>
<line x1="30.4" y1="249.52" x2="32.4" y2="249.52" stroke="#8a8a8a" stroke-width="0.7"/>
<text x="28.799999999999997" y="253" text-anchor="end" font-size="9.0" dx="0.4">0.4</text>
<line x1="30.4" y1="224.90" x2="32.4" y2="224.90" stroke="#8a8a8a" stroke-width="0.7"/>
<text x="28.799999999999997" y="228" text-anchor="end" font-size="9.0" dx="0.4">0.5</text>
<line x1="107.20" y1="354.0" x2="107.20" y2="356.0" stroke="#8a8a8a" stroke-width="0.7"/>
<text x="107.20" y="363.0" text-anchor="middle" font-size="8.8">-2</text>
<line x1="183.00" y1="354.0" x2="183.00" y2="356.0" stroke="#8a8a8a" stroke-width="0.7"/>
<text x="183.00" y="363.0" text-anchor="middle" font-size="8.8">-1</text>
<line x1="258.80" y1="354.0" x2="258.80" y2="356.0" stroke="#8a8a8a" stroke-width="0.7"/>
<text x="258.80" y="363.0" text-anchor="middle" font-size="8.8">0</text>
<line x1="334.60" y1="354.0" x2="334.60" y2="356.0" stroke="#8a8a8a" stroke-width="0.7"/>
<text x="334.60" y="363.0" text-anchor="middle" font-size="8.8">1</text>
<line x1="410.40" y1="354.0" x2="410.40" y2="356.0" stroke="#8a8a8a" stroke-width="0.7"/>
<text x="410.40" y="363.0" text-anchor="middle" font-size="8.8">2</text>
<line x1="486.20" y1="354.0" x2="486.20" y2="356.0" stroke="#8a8a8a" stroke-width="0.7"/>
<text x="486.20" y="363.0" text-anchor="middle" font-size="8.8">3</text>
<text x="281.5" y="220.4" text-anchor="middle" font-size="9.0">c. Posterior predictive check</text>
<text x="283.4" y="373.0" text-anchor="middle" font-size="9.0">Target variable value (after data conversion)</text>
<text transform="translate(14.3,286.2) rotate(-90)" text-anchor="middle" font-size="9.0">Probability density</text>
<rect x="449.6" y="226.6" width="89.8" height="22.4" rx="1.2" fill="#fff" fill-opacity="0.8" stroke="#d6d6d6" stroke-width="0.6"/>
<line x1="451.6" y1="230.4" x2="464.6" y2="230.4" stroke="#b9d3e6" stroke-width="0.8"/>
<line x1="451.6" y1="237.6" x2="464.6" y2="237.6" stroke="#ec8a78" stroke-width="1.3"/>
<line x1="451.6" y1="245.2" x2="464.6" y2="245.2" stroke="#236ea8" stroke-width="1.3" stroke-dasharray="3.0,2.0"/>
<text x="468" y="232.7" font-size="6.7" style="stroke-width:0.05px">Posterior predictive</text>
<text x="468" y="239.9" font-size="6.7" style="stroke-width:0.05px">Observed</text>
<text x="468" y="247.5" font-size="6.7" style="stroke-width:0.05px">Posterior predictive mean</text>
</svg>
</body></html>
